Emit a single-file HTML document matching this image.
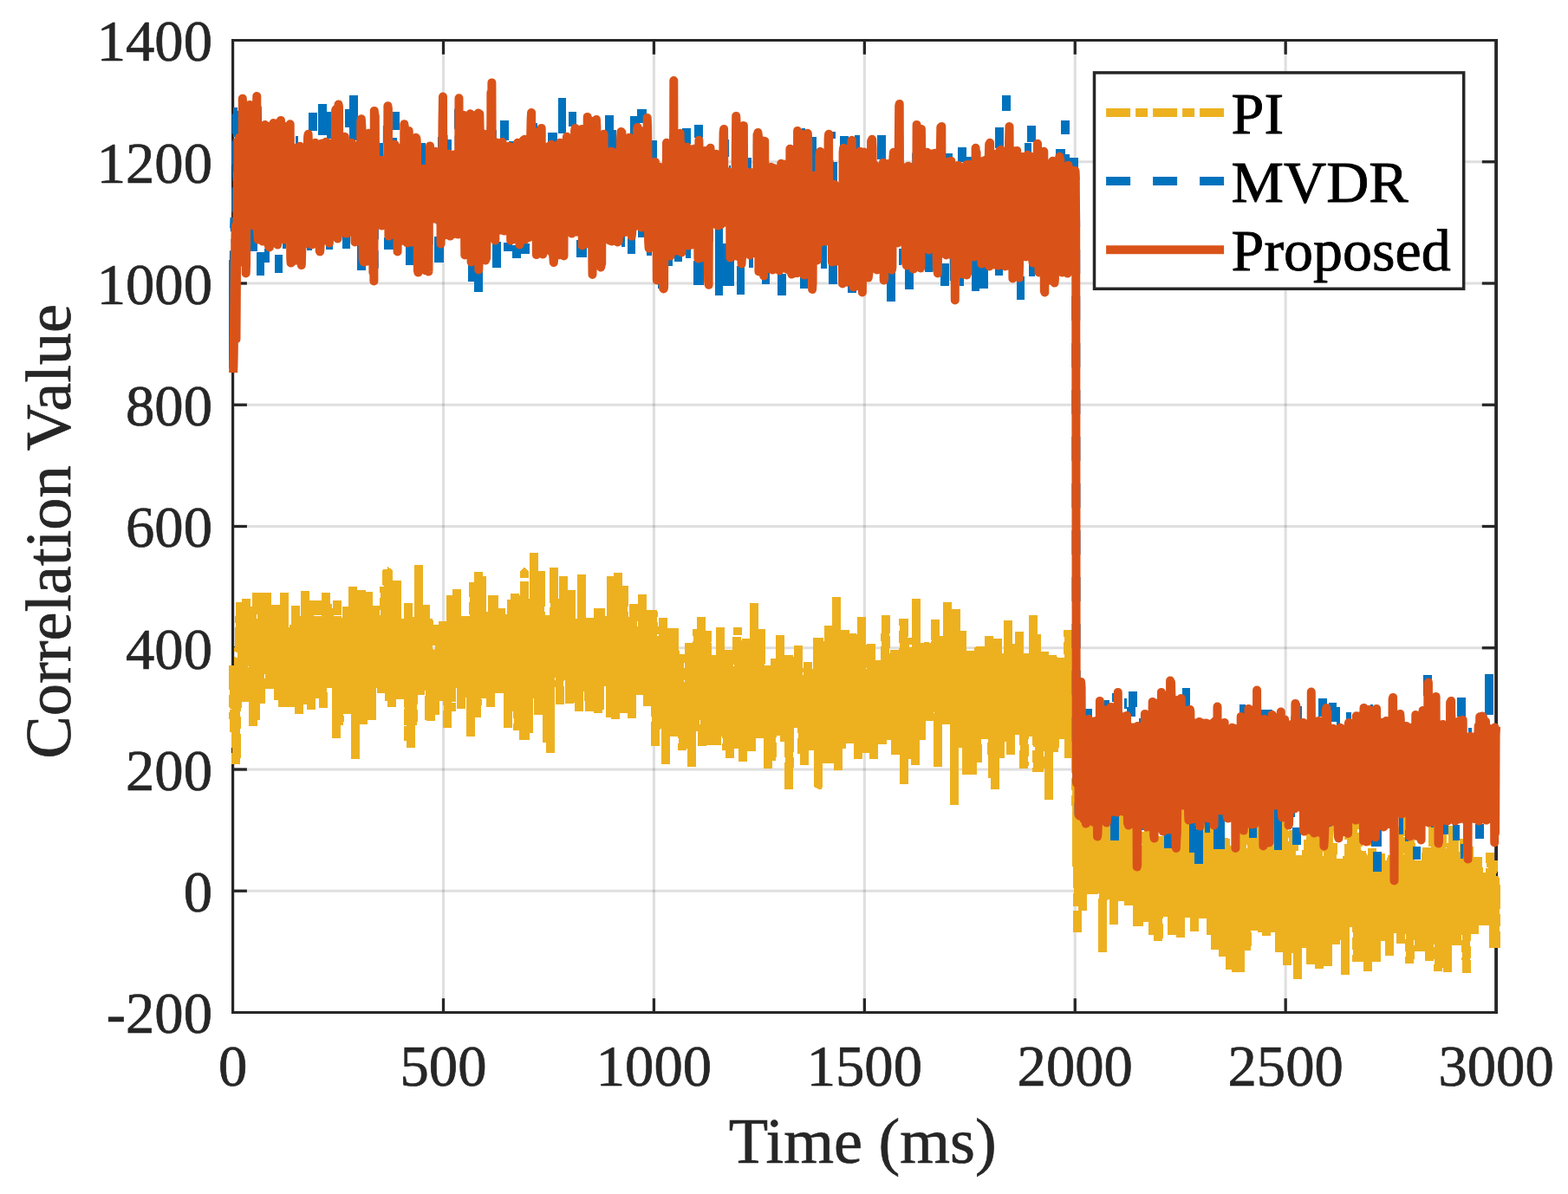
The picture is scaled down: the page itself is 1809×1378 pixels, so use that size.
<!DOCTYPE html>
<html lang="en"><head><meta charset="utf-8"><title>Correlation Value vs Time</title>
<style>html,body{margin:0;padding:0;background:#fff;width:1809px;height:1378px}svg{display:block}</style></head>
<body>
<svg width="1809" height="1378" viewBox="0 0 1809 1378">
<rect width="1809" height="1378" fill="#fff"/>
<g stroke="#262626" stroke-opacity="0.15" stroke-width="3.1">
<line x1="511.52" y1="46.5" x2="511.52" y2="1168.5"/>
<line x1="754.43" y1="46.5" x2="754.43" y2="1168.5"/>
<line x1="997.35" y1="46.5" x2="997.35" y2="1168.5"/>
<line x1="1240.27" y1="46.5" x2="1240.27" y2="1168.5"/>
<line x1="1483.18" y1="46.5" x2="1483.18" y2="1168.5"/>
<line x1="268.6" y1="1028.25" x2="1726.1" y2="1028.25"/>
<line x1="268.6" y1="888.00" x2="1726.1" y2="888.00"/>
<line x1="268.6" y1="747.75" x2="1726.1" y2="747.75"/>
<line x1="268.6" y1="607.50" x2="1726.1" y2="607.50"/>
<line x1="268.6" y1="467.25" x2="1726.1" y2="467.25"/>
<line x1="268.6" y1="327.00" x2="1726.1" y2="327.00"/>
<line x1="268.6" y1="186.75" x2="1726.1" y2="186.75"/>
</g>
<g stroke="#262626" stroke-width="3.3" fill="none">
<line x1="511.52" y1="1168.5" x2="511.52" y2="1152.2"/>
<line x1="511.52" y1="46.5" x2="511.52" y2="62.8"/>
<line x1="754.43" y1="1168.5" x2="754.43" y2="1152.2"/>
<line x1="754.43" y1="46.5" x2="754.43" y2="62.8"/>
<line x1="997.35" y1="1168.5" x2="997.35" y2="1152.2"/>
<line x1="997.35" y1="46.5" x2="997.35" y2="62.8"/>
<line x1="1240.27" y1="1168.5" x2="1240.27" y2="1152.2"/>
<line x1="1240.27" y1="46.5" x2="1240.27" y2="62.8"/>
<line x1="1483.18" y1="1168.5" x2="1483.18" y2="1152.2"/>
<line x1="1483.18" y1="46.5" x2="1483.18" y2="62.8"/>
<line x1="268.6" y1="1028.25" x2="284.90000000000003" y2="1028.25"/>
<line x1="1726.1" y1="1028.25" x2="1709.8" y2="1028.25"/>
<line x1="268.6" y1="888.00" x2="284.90000000000003" y2="888.00"/>
<line x1="1726.1" y1="888.00" x2="1709.8" y2="888.00"/>
<line x1="268.6" y1="747.75" x2="284.90000000000003" y2="747.75"/>
<line x1="1726.1" y1="747.75" x2="1709.8" y2="747.75"/>
<line x1="268.6" y1="607.50" x2="284.90000000000003" y2="607.50"/>
<line x1="1726.1" y1="607.50" x2="1709.8" y2="607.50"/>
<line x1="268.6" y1="467.25" x2="284.90000000000003" y2="467.25"/>
<line x1="1726.1" y1="467.25" x2="1709.8" y2="467.25"/>
<line x1="268.6" y1="327.00" x2="284.90000000000003" y2="327.00"/>
<line x1="1726.1" y1="327.00" x2="1709.8" y2="327.00"/>
<line x1="268.6" y1="186.75" x2="284.90000000000003" y2="186.75"/>
<line x1="1726.1" y1="186.75" x2="1709.8" y2="186.75"/>
<line x1="267.0" y1="46.5" x2="1728.05" y2="46.5" stroke-width="3.05"/>
<line x1="267.0" y1="1168.5" x2="1728.05" y2="1168.5" stroke-width="3.05"/>
<line x1="268.6" y1="45.0" x2="268.6" y2="1170.0" stroke-width="3.2"/>
<line x1="1726.1" y1="45.0" x2="1726.1" y2="1170.0" stroke-width="3.9"/>
</g>
<g fill="none" stroke-width="10.0" stroke-linecap="butt">
<polyline stroke="#EDB120" stroke-linejoin="bevel" stroke-dasharray="28 6 14 6" shape-rendering="crispEdges" points="269.1,768.1 269.6,844.5 270.1,782.8 270.5,817.9 271.0,775.8 271.5,796.8 272.0,772.3 272.5,882.4 273.0,775.8 273.5,817.9 273.9,772.3 274.4,803.8 274.9,793.3 275.4,759.0 275.9,711.5 276.4,747.2 276.9,695.5 277.3,736.7 277.8,740.2 278.3,734.6 278.8,766.5 279.3,751.0 279.8,737.7 280.3,762.9 280.7,773.5 281.2,709.2 281.7,809.6 282.2,727.8 282.7,748.2 283.2,720.0 283.7,749.5 284.1,691.3 284.6,743.5 285.1,724.4 285.6,741.2 286.1,723.3 286.6,716.5 287.1,757.2 287.5,722.8 288.0,781.5 288.5,769.8 289.0,699.9 289.5,758.4 290.0,723.0 290.5,752.2 290.9,752.5 291.4,698.1 291.9,837.6 292.4,754.1 292.9,791.2 293.4,725.8 293.9,784.3 294.3,734.6 294.8,830.6 295.3,733.8 295.8,684.3 296.3,764.0 296.8,810.1 297.3,766.1 297.8,771.8 298.2,771.7 298.7,730.9 299.2,746.0 299.7,786.0 300.2,737.8 300.7,811.6 301.2,747.4 301.6,758.6 302.1,684.3 302.6,735.8 303.1,745.4 303.6,742.0 304.1,718.4 304.6,761.3 305.0,707.8 305.5,710.2 306.0,708.2 306.5,763.1 307.0,730.7 307.5,731.1 308.0,684.3 308.4,755.5 308.9,724.2 309.4,719.6 309.9,759.6 310.4,715.7 310.9,794.7 311.4,746.4 311.8,737.1 312.3,745.4 312.8,774.9 313.3,735.6 313.8,719.9 314.3,707.6 314.8,742.2 315.2,739.1 315.7,752.2 316.2,736.7 316.7,736.4 317.2,737.5 317.7,698.5 318.2,750.0 318.6,738.5 319.1,748.7 319.6,786.9 320.1,756.7 320.6,716.7 321.1,807.6 321.6,761.4 322.0,730.4 322.5,774.9 323.0,753.5 323.5,738.2 324.0,737.8 324.5,729.1 325.0,754.2 325.4,747.7 325.9,815.6 326.4,767.9 326.9,805.6 327.4,810.3 327.9,684.3 328.4,741.0 328.8,723.8 329.3,727.2 329.8,756.0 330.3,769.1 330.8,744.6 331.3,759.5 331.8,776.5 332.2,765.7 332.7,780.2 333.2,769.8 333.7,770.5 334.2,804.6 334.7,771.6 335.2,816.0 335.6,776.4 336.1,734.9 336.6,749.7 337.1,778.5 337.6,774.4 338.1,797.8 338.6,758.6 339.0,721.0 339.5,808.0 340.0,786.2 340.5,789.8 341.0,699.3 341.5,758.5 342.0,710.8 342.4,746.8 342.9,744.5 343.4,798.7 343.9,737.2 344.4,721.8 344.9,823.6 345.4,746.5 345.8,733.0 346.3,761.4 346.8,782.9 347.3,771.6 347.8,732.7 348.3,727.1 348.8,758.9 349.2,738.2 349.7,740.2 350.2,713.9 350.7,804.8 351.2,776.7 351.7,812.6 352.2,680.3 352.6,788.3 353.1,694.4 353.6,738.2 354.1,742.5 354.6,769.9 355.1,749.5 355.6,746.6 356.1,751.1 356.5,692.9 357.0,810.0 357.5,739.2 358.0,728.6 358.5,716.2 359.0,819.2 359.5,735.3 359.9,750.5 360.4,761.5 360.9,775.1 361.4,759.2 361.9,727.9 362.4,762.1 362.9,755.8 363.3,796.1 363.8,749.2 364.3,716.4 364.8,723.7 365.3,718.0 365.8,805.6 366.3,693.5 366.7,735.2 367.2,749.6 367.7,779.0 368.2,724.4 368.7,766.1 369.2,769.3 369.7,732.2 370.1,744.9 370.6,793.4 371.1,792.2 371.6,770.8 372.1,758.5 372.6,816.6 373.1,751.2 373.5,741.5 374.0,724.6 374.5,743.7 375.0,741.8 375.5,791.6 376.0,684.3 376.5,770.7 376.9,772.2 377.4,739.1 377.9,769.7 378.4,697.5 378.9,746.7 379.4,763.1 379.9,702.3 380.3,793.7 380.8,767.4 381.3,739.1 381.8,720.9 382.3,736.5 382.8,732.9 383.3,760.3 383.7,754.4 384.2,738.6 384.7,730.2 385.2,743.4 385.7,773.3 386.2,752.2 386.7,758.4 387.1,741.4 387.6,725.8 388.1,851.5 388.6,693.5 389.1,768.3 389.6,740.8 390.1,719.2 390.5,771.6 391.0,756.6 391.5,836.6 392.0,758.2 392.5,769.5 393.0,769.8 393.5,788.1 393.9,787.2 394.4,798.2 394.9,783.8 395.4,752.5 395.9,760.2 396.4,775.3 396.9,753.2 397.3,776.8 397.8,793.3 398.3,739.8 398.8,713.2 399.3,785.1 399.8,699.9 400.3,823.6 400.7,725.2 401.2,809.2 401.7,782.0 402.2,758.3 402.7,752.1 403.2,764.9 403.7,757.2 404.1,754.1 404.6,731.1 405.1,796.3 405.6,760.6 406.1,763.8 406.6,781.1 407.1,677.3 407.5,767.6 408.0,742.1 408.5,743.3 409.0,754.7 409.5,738.1 410.0,875.5 410.5,734.6 410.9,727.5 411.4,728.9 411.9,763.9 412.4,784.0 412.9,738.1 413.4,706.7 413.9,794.8 414.4,722.0 414.8,799.4 415.3,756.6 415.8,734.5 416.3,738.1 416.8,681.3 417.3,788.9 417.8,752.8 418.2,791.5 418.7,774.8 419.2,835.6 419.7,719.5 420.2,722.6 420.7,711.7 421.2,736.2 421.6,733.4 422.1,713.8 422.6,774.3 423.1,685.0 423.6,713.9 424.1,822.8 424.6,683.5 425.0,774.1 425.5,778.3 426.0,816.5 426.5,780.6 427.0,767.3 427.5,729.3 428.0,762.9 428.4,739.5 428.9,830.6 429.4,744.3 429.9,748.6 430.4,742.3 430.9,768.8 431.4,720.3 431.8,745.8 432.3,790.6 432.8,790.2 433.3,699.5 433.8,774.7 434.3,778.6 434.8,765.9 435.2,719.1 435.7,743.7 436.2,741.2 436.7,715.3 437.2,739.3 437.7,721.9 438.2,712.8 438.6,754.2 439.1,734.7 439.6,799.6 440.1,728.6 440.6,737.6 441.1,740.9 441.6,740.5 442.0,748.4 442.5,739.9 443.0,766.2 443.5,676.9 444.0,748.0 444.5,720.3 445.0,721.5 445.4,750.1 445.9,752.6 446.4,657.6 446.9,659.1 447.4,659.1 447.9,739.3 448.4,657.6 448.8,808.6 449.3,761.6 449.8,746.3 450.3,740.0 450.8,695.7 451.3,766.6 451.8,721.6 452.2,815.6 452.7,744.5 453.2,746.7 453.7,765.5 454.2,723.7 454.7,726.8 455.2,712.6 455.6,727.1 456.1,788.8 456.6,727.5 457.1,774.3 457.6,775.6 458.1,670.3 458.6,764.7 459.0,717.1 459.5,757.8 460.0,790.1 460.5,742.8 461.0,806.6 461.5,734.7 462.0,759.2 462.4,725.2 462.9,790.7 463.4,742.3 463.9,713.8 464.4,795.1 464.9,775.1 465.4,764.1 465.8,764.4 466.3,742.7 466.8,746.0 467.3,769.1 467.8,773.8 468.3,774.2 468.8,756.6 469.2,740.1 469.7,746.8 470.2,805.5 470.7,696.3 471.2,854.5 471.7,758.6 472.2,819.3 472.7,800.8 473.1,799.9 473.6,729.3 474.1,862.5 474.6,750.4 475.1,772.9 475.6,714.0 476.1,806.0 476.5,836.6 477.0,759.1 477.5,721.4 478.0,748.3 478.5,780.0 479.0,712.5 479.5,756.1 479.9,765.2 480.4,732.9 480.9,767.3 481.4,734.6 481.9,772.8 482.4,751.2 482.9,771.0 483.3,652.4 483.8,768.8 484.3,779.7 484.8,719.4 485.3,801.6 485.8,768.9 486.3,770.5 486.7,748.5 487.2,767.6 487.7,725.5 488.2,754.7 488.7,723.5 489.2,757.6 489.7,738.6 490.1,735.1 490.6,697.9 491.1,792.8 491.6,738.2 492.1,746.1 492.6,778.4 493.1,749.6 493.5,789.3 494.0,762.3 494.5,713.8 495.0,767.6 495.5,831.6 496.0,792.2 496.5,788.8 496.9,782.3 497.4,831.6 497.9,752.6 498.4,807.2 498.9,791.9 499.4,784.7 499.9,787.7 500.3,760.5 500.8,780.8 501.3,752.3 501.8,750.3 502.3,825.2 502.8,720.8 503.3,773.5 503.7,758.4 504.2,777.2 504.7,773.5 505.2,771.7 505.7,790.3 506.2,736.3 506.7,733.9 507.1,776.6 507.6,782.9 508.1,803.6 508.6,779.3 509.1,760.8 509.6,808.6 510.1,779.3 510.5,787.3 511.0,716.8 511.5,744.6 512.0,760.5 512.5,768.6 513.0,718.3 513.5,764.2 513.9,767.4 514.4,759.2 514.9,768.1 515.4,771.9 515.9,750.8 516.4,839.6 516.9,763.0 517.3,747.1 517.8,773.5 518.3,802.8 518.8,735.3 519.3,730.9 519.8,732.8 520.3,686.9 520.7,820.6 521.2,749.6 521.7,728.8 522.2,724.4 522.7,693.5 523.2,756.1 523.7,758.7 524.1,694.9 524.6,721.5 525.1,730.0 525.6,750.5 526.1,758.2 526.6,784.6 527.1,680.5 527.5,780.1 528.0,794.2 528.5,736.3 529.0,750.4 529.5,789.7 530.0,769.9 530.5,763.7 531.0,721.3 531.4,721.3 531.9,817.6 532.4,772.3 532.9,757.2 533.4,754.5 533.9,723.5 534.4,773.0 534.8,788.6 535.3,802.9 535.8,765.4 536.3,766.6 536.8,710.8 537.3,793.1 537.8,804.5 538.2,749.8 538.7,771.1 539.2,766.4 539.7,750.7 540.2,712.3 540.7,755.6 541.2,778.5 541.6,730.2 542.1,744.5 542.6,731.6 543.1,849.5 543.6,795.6 544.1,770.4 544.6,762.2 545.0,752.8 545.5,767.2 546.0,770.7 546.5,671.9 547.0,748.6 547.5,754.1 548.0,803.3 548.4,699.6 548.9,758.8 549.4,728.2 549.9,702.4 550.4,827.6 550.9,770.7 551.4,709.4 551.8,713.2 552.3,660.4 552.8,697.7 553.3,735.8 553.8,732.6 554.3,760.0 554.8,766.5 555.2,707.9 555.7,762.7 556.2,664.9 556.7,738.8 557.2,734.9 557.7,734.6 558.2,805.6 558.6,753.0 559.1,777.0 559.6,738.8 560.1,799.3 560.6,726.9 561.1,751.8 561.6,733.6 562.0,730.0 562.5,717.0 563.0,732.1 563.5,744.8 564.0,725.2 564.5,769.3 565.0,786.0 565.4,706.2 565.9,774.8 566.4,815.6 566.9,749.3 567.4,793.8 567.9,772.8 568.4,687.3 568.8,747.8 569.3,762.3 569.8,687.3 570.3,724.9 570.8,754.5 571.3,752.9 571.8,771.5 572.2,794.5 572.7,772.0 573.2,778.2 573.7,745.7 574.2,760.6 574.7,767.3 575.2,719.7 575.6,718.1 576.1,799.6 576.6,723.2 577.1,786.0 577.6,788.6 578.1,701.9 578.6,737.5 579.0,798.1 579.5,753.8 580.0,709.3 580.5,738.5 581.0,794.0 581.5,765.5 582.0,767.4 582.4,777.5 582.9,765.8 583.4,744.4 583.9,717.6 584.4,760.9 584.9,727.8 585.4,716.5 585.8,840.0 586.3,788.0 586.8,772.5 587.3,772.7 587.8,792.6 588.3,798.3 588.8,731.4 589.2,774.8 589.7,821.4 590.2,692.3 590.7,740.5 591.2,743.3 591.7,698.5 592.2,739.6 592.7,817.3 593.1,763.0 593.6,777.8 594.1,685.5 594.6,758.1 595.1,758.3 595.6,749.9 596.1,735.8 596.5,783.5 597.0,776.7 597.5,842.6 598.0,745.1 598.5,805.5 599.0,713.0 599.5,743.4 599.9,750.8 600.4,769.9 600.9,754.4 601.4,733.1 601.9,774.9 602.4,722.6 602.9,703.2 603.3,707.0 603.8,687.0 604.3,853.5 604.8,659.4 605.3,659.4 605.8,853.5 606.3,745.2 606.7,729.7 607.2,756.0 607.7,727.8 608.2,699.1 608.7,804.5 609.2,715.4 609.7,826.9 610.1,845.5 610.6,728.3 611.1,759.4 611.6,787.2 612.1,691.3 612.6,707.9 613.1,703.4 613.5,748.0 614.0,756.8 614.5,743.0 615.0,715.2 615.5,724.4 616.0,638.0 616.5,783.0 616.9,746.8 617.4,693.8 617.9,765.0 618.4,752.5 618.9,751.3 619.4,805.5 619.9,772.1 620.3,706.2 620.8,704.9 621.3,824.6 621.8,749.5 622.3,774.6 622.8,738.1 623.3,738.1 623.7,659.4 624.2,801.4 624.7,777.3 625.2,740.2 625.7,761.0 626.2,756.4 626.7,773.5 627.1,795.1 627.6,819.3 628.1,775.2 628.6,758.7 629.1,771.6 629.6,770.0 630.1,758.9 630.5,753.6 631.0,856.5 631.5,709.8 632.0,804.1 632.5,774.5 633.0,754.3 633.5,802.3 633.9,770.4 634.4,761.8 634.9,868.5 635.4,765.1 635.9,746.1 636.4,754.0 636.9,782.4 637.3,747.6 637.8,780.4 638.3,715.5 638.8,735.0 639.3,655.0 639.8,752.4 640.3,741.2 640.7,774.4 641.2,713.2 641.7,709.0 642.2,744.7 642.7,780.7 643.2,755.4 643.7,734.9 644.1,751.1 644.6,755.7 645.1,693.2 645.6,812.6 646.1,706.7 646.6,691.6 647.1,720.9 647.5,701.0 648.0,711.7 648.5,753.3 649.0,742.6 649.5,749.2 650.0,664.9 650.5,734.3 651.0,736.6 651.4,783.4 651.9,715.9 652.4,701.2 652.9,784.7 653.4,757.2 653.9,764.7 654.4,765.8 654.8,773.4 655.3,734.4 655.8,745.7 656.3,716.3 656.8,698.2 657.3,812.0 657.8,736.4 658.2,769.0 658.7,806.9 659.2,680.9 659.7,773.9 660.2,777.3 660.7,780.9 661.2,726.7 661.6,784.9 662.1,769.2 662.6,746.6 663.1,740.4 663.6,757.5 664.1,777.6 664.6,776.2 665.0,810.5 665.5,740.5 666.0,768.8 666.5,738.4 667.0,773.7 667.5,768.9 668.0,820.6 668.4,713.8 668.9,730.7 669.4,761.3 669.9,796.4 670.4,772.4 670.9,662.9 671.4,728.8 671.8,769.5 672.3,765.5 672.8,769.6 673.3,785.8 673.8,772.5 674.3,751.3 674.8,722.6 675.2,759.1 675.7,727.9 676.2,762.8 676.7,773.6 677.2,735.2 677.7,762.5 678.2,757.7 678.6,809.3 679.1,765.6 679.6,820.6 680.1,776.8 680.6,712.8 681.1,761.1 681.6,756.9 682.0,779.9 682.5,781.3 683.0,775.8 683.5,741.7 684.0,759.2 684.5,728.0 685.0,729.4 685.4,751.6 685.9,739.8 686.4,754.9 686.9,819.1 687.4,776.3 687.9,743.4 688.4,714.3 688.8,744.3 689.3,758.6 689.8,701.9 690.3,823.2 690.8,745.4 691.3,769.5 691.8,819.0 692.2,765.1 692.7,701.9 693.2,767.0 693.7,750.9 694.2,736.2 694.7,752.3 695.2,787.9 695.6,750.8 696.1,722.0 696.6,725.3 697.1,731.0 697.6,758.4 698.1,770.8 698.6,770.8 699.0,789.5 699.5,753.1 700.0,780.6 700.5,767.5 701.0,778.1 701.5,711.0 702.0,793.6 702.4,719.4 702.9,730.9 703.4,779.5 703.9,731.0 704.4,827.6 704.9,664.9 705.4,708.1 705.9,750.9 706.3,730.9 706.8,801.6 707.3,804.4 707.8,772.3 708.3,731.0 708.8,748.8 709.3,735.9 709.7,829.6 710.2,715.5 710.7,773.1 711.2,769.2 711.7,735.3 712.2,755.2 712.7,661.0 713.1,787.6 713.6,745.4 714.1,702.8 714.6,712.6 715.1,720.2 715.6,804.5 716.1,771.7 716.5,705.9 717.0,809.6 717.5,792.8 718.0,715.0 718.5,689.8 719.0,780.8 719.5,822.6 719.9,676.3 720.4,732.4 720.9,794.8 721.4,800.9 721.9,782.3 722.4,755.5 722.9,767.0 723.3,777.0 723.8,715.9 724.3,794.3 724.8,750.9 725.3,767.1 725.8,763.6 726.3,785.0 726.7,789.6 727.2,821.1 727.7,750.1 728.2,734.8 728.7,724.9 729.2,828.6 729.7,769.5 730.1,784.9 730.6,696.9 731.1,771.4 731.6,773.2 732.1,754.5 732.6,782.4 733.1,779.6 733.5,710.5 734.0,758.2 734.5,754.1 735.0,743.0 735.5,735.2 736.0,751.0 736.5,758.9 736.9,756.4 737.4,736.1 737.9,801.6 738.4,736.5 738.9,732.6 739.4,769.7 739.9,734.0 740.3,753.4 740.8,686.3 741.3,771.2 741.8,764.7 742.3,784.7 742.8,743.7 743.3,768.1 743.7,739.4 744.2,757.6 744.7,756.3 745.2,733.6 745.7,709.4 746.2,774.4 746.7,814.6 747.1,763.7 747.6,743.1 748.1,752.1 748.6,771.4 749.1,760.7 749.6,788.6 750.1,763.1 750.5,780.6 751.0,703.9 751.5,744.7 752.0,765.5 752.5,715.9 753.0,741.6 753.5,703.9 753.9,744.1 754.4,764.0 754.9,777.8 755.4,766.1 755.9,754.5 756.4,860.9 756.9,782.1 757.3,782.7 757.8,723.2 758.3,737.7 758.8,805.5 759.3,777.2 759.8,833.5 760.3,785.4 760.7,782.4 761.2,821.7 761.7,797.0 762.2,840.5 762.7,753.3 763.2,802.4 763.7,810.3 764.2,806.2 764.6,831.2 765.1,713.2 765.6,795.0 766.1,777.1 766.6,823.6 767.1,797.7 767.6,790.8 768.0,881.9 768.5,794.3 769.0,764.0 769.5,782.0 770.0,810.9 770.5,782.7 771.0,821.8 771.4,790.5 771.9,793.2 772.4,772.4 772.9,787.0 773.4,819.9 773.9,780.3 774.4,781.3 774.8,724.8 775.3,811.1 775.8,747.5 776.3,738.3 776.8,849.5 777.3,828.5 777.8,847.1 778.2,724.8 778.7,762.2 779.2,819.3 779.7,809.6 780.2,777.9 780.7,766.3 781.2,792.9 781.6,808.8 782.1,811.1 782.6,805.7 783.1,819.5 783.6,818.0 784.1,819.7 784.6,754.7 785.0,792.7 785.5,824.7 786.0,793.0 786.5,824.3 787.0,808.5 787.5,865.5 788.0,810.3 788.4,811.6 788.9,808.7 789.4,815.1 789.9,864.0 790.4,799.1 790.9,790.1 791.4,806.6 791.8,827.8 792.3,787.2 792.8,830.8 793.3,830.0 793.8,807.3 794.3,823.7 794.8,742.2 795.2,797.6 795.7,783.2 796.2,839.0 796.7,849.4 797.2,797.2 797.7,795.2 798.2,884.9 798.6,793.1 799.1,812.3 799.6,809.5 800.1,805.5 800.6,824.4 801.1,804.7 801.6,792.1 802.0,844.1 802.5,752.1 803.0,771.9 803.5,782.9 804.0,793.4 804.5,726.2 805.0,787.4 805.4,772.9 805.9,792.3 806.4,811.5 806.9,794.8 807.4,797.8 807.9,766.0 808.4,769.2 808.8,712.2 809.3,817.2 809.8,860.5 810.3,825.6 810.8,822.9 811.3,826.6 811.8,770.5 812.2,830.0 812.7,816.0 813.2,854.3 813.7,811.1 814.2,803.5 814.7,790.2 815.2,792.3 815.6,727.8 816.1,802.2 816.6,807.0 817.1,830.5 817.6,793.0 818.1,810.9 818.6,849.5 819.0,795.9 819.5,827.0 820.0,859.5 820.5,805.6 821.0,818.4 821.5,828.0 822.0,796.7 822.5,784.7 822.9,844.2 823.4,755.7 823.9,826.0 824.4,828.7 824.9,825.1 825.4,802.0 825.9,804.8 826.3,772.7 826.8,770.5 827.3,859.5 827.8,807.4 828.3,850.3 828.8,823.5 829.3,809.1 829.7,777.1 830.2,824.4 830.7,829.7 831.2,724.2 831.7,815.1 832.2,792.6 832.7,801.3 833.1,796.2 833.6,766.4 834.1,792.7 834.6,766.2 835.1,838.0 835.6,829.8 836.1,806.0 836.5,811.6 837.0,806.3 837.5,809.7 838.0,791.8 838.5,865.5 839.0,803.7 839.5,774.1 839.9,782.7 840.4,797.3 840.9,749.8 841.4,798.6 841.9,780.0 842.4,874.5 842.9,802.8 843.3,817.6 843.8,832.4 844.3,852.7 844.8,831.0 845.3,792.5 845.8,802.8 846.3,833.0 846.7,813.4 847.2,826.8 847.7,805.2 848.2,846.6 848.7,842.8 849.2,825.3 849.7,863.5 850.1,767.5 850.6,724.2 851.1,804.4 851.6,819.0 852.1,738.9 852.6,788.2 853.1,832.6 853.5,827.3 854.0,787.6 854.5,818.6 855.0,802.0 855.5,795.3 856.0,831.8 856.5,829.9 856.9,878.5 857.4,776.4 857.9,766.3 858.4,763.1 858.9,840.1 859.4,855.3 859.9,808.8 860.3,834.9 860.8,737.4 861.3,801.0 861.8,828.6 862.3,811.8 862.8,802.0 863.3,756.6 863.7,762.5 864.2,791.5 864.7,787.6 865.2,801.0 865.7,785.2 866.2,779.4 866.7,866.5 867.1,808.1 867.6,797.0 868.1,781.9 868.6,788.6 869.1,817.7 869.6,831.6 870.1,696.3 870.5,762.6 871.0,797.5 871.5,805.0 872.0,822.9 872.5,781.1 873.0,827.0 873.5,780.4 873.9,783.5 874.4,774.4 874.9,803.9 875.4,790.0 875.9,851.5 876.4,776.1 876.9,748.0 877.3,793.7 877.8,726.2 878.3,784.2 878.8,798.8 879.3,794.4 879.8,802.4 880.3,818.1 880.8,827.2 881.2,809.8 881.7,815.8 882.2,806.5 882.7,807.8 883.2,785.6 883.7,825.8 884.2,820.7 884.6,836.0 885.1,799.1 885.6,786.0 886.1,886.5 886.6,767.7 887.1,820.2 887.6,839.0 888.0,819.7 888.5,838.2 889.0,811.6 889.5,837.1 890.0,808.2 890.5,877.5 891.0,810.0 891.4,814.9 891.9,784.3 892.4,782.5 892.9,811.8 893.4,807.6 893.9,822.5 894.4,759.7 894.8,790.1 895.3,810.7 895.8,808.5 896.3,823.7 896.8,816.5 897.3,848.5 897.8,777.3 898.2,803.9 898.7,824.8 899.2,827.5 899.7,733.2 900.2,796.4 900.7,824.4 901.2,827.5 901.6,767.5 902.1,778.6 902.6,800.8 903.1,792.2 903.6,809.1 904.1,805.3 904.6,837.6 905.0,804.2 905.5,855.5 906.0,807.9 906.5,829.9 907.0,782.5 907.5,814.5 908.0,789.8 908.4,776.0 908.9,831.5 909.4,834.2 909.9,755.7 910.4,910.8 910.9,809.9 911.4,800.8 911.8,808.5 912.3,791.0 912.8,829.0 913.3,782.6 913.8,829.1 914.3,794.9 914.8,814.1 915.2,801.0 915.7,806.5 916.2,825.2 916.7,801.1 917.2,790.2 917.7,839.6 918.2,810.3 918.6,757.2 919.1,816.2 919.6,818.2 920.1,766.8 920.6,792.2 921.1,745.2 921.6,776.8 922.0,795.7 922.5,797.0 923.0,811.6 923.5,820.6 924.0,802.0 924.5,803.6 925.0,803.7 925.4,869.5 925.9,815.4 926.4,848.3 926.9,785.4 927.4,779.2 927.9,883.1 928.4,811.7 928.8,820.1 929.3,816.6 929.8,864.0 930.3,830.0 930.8,823.5 931.3,849.2 931.8,838.2 932.2,763.7 932.7,818.4 933.2,832.2 933.7,802.4 934.2,822.2 934.7,805.6 935.2,824.0 935.6,786.2 936.1,865.5 936.6,803.5 937.1,820.6 937.6,845.0 938.1,809.4 938.6,798.9 939.1,835.8 939.5,816.3 940.0,855.4 940.5,813.5 941.0,772.3 941.5,797.8 942.0,794.3 942.5,796.2 942.9,736.2 943.4,782.3 943.9,907.8 944.4,907.4 944.9,736.2 945.4,822.3 945.9,814.8 946.3,815.5 946.8,749.6 947.3,756.4 947.8,781.3 948.3,817.2 948.8,762.8 949.3,795.8 949.7,817.0 950.2,872.0 950.7,817.4 951.2,792.2 951.7,843.6 952.2,815.5 952.7,799.5 953.1,844.2 953.6,772.7 954.1,880.5 954.6,811.4 955.1,840.2 955.6,722.2 956.1,756.6 956.5,754.7 957.0,880.5 957.5,803.0 958.0,788.4 958.5,816.5 959.0,825.4 959.5,809.1 959.9,764.6 960.4,841.5 960.9,747.8 961.4,794.0 961.9,832.2 962.4,779.6 962.9,846.2 963.3,867.8 963.8,856.0 964.3,856.5 964.8,689.3 965.3,762.8 965.8,817.2 966.3,813.7 966.7,888.5 967.2,813.1 967.7,789.0 968.2,736.4 968.7,807.2 969.2,804.6 969.7,856.7 970.1,816.5 970.6,803.7 971.1,863.5 971.6,810.1 972.1,791.7 972.6,781.3 973.1,750.2 973.5,795.8 974.0,838.8 974.5,738.7 975.0,727.4 975.5,815.0 976.0,799.3 976.5,805.7 976.9,742.0 977.4,777.5 977.9,808.1 978.4,810.4 978.9,802.2 979.4,769.3 979.9,809.0 980.3,752.6 980.8,857.5 981.3,761.4 981.8,834.2 982.3,782.4 982.8,787.6 983.3,730.8 983.7,824.5 984.2,806.9 984.7,747.7 985.2,749.0 985.7,840.3 986.2,767.5 986.7,845.4 987.1,780.8 987.6,732.3 988.1,824.9 988.6,807.9 989.1,812.9 989.6,787.1 990.1,875.5 990.5,833.4 991.0,774.2 991.5,739.4 992.0,826.9 992.5,780.4 993.0,838.1 993.5,848.1 993.9,712.3 994.4,781.2 994.9,744.3 995.4,837.9 995.9,787.8 996.4,799.8 996.9,845.9 997.4,808.4 997.8,830.1 998.3,815.5 998.8,868.5 999.3,813.0 999.8,837.4 1000.3,799.4 1000.8,818.1 1001.2,785.6 1001.7,838.3 1002.2,744.6 1002.7,810.5 1003.2,815.3 1003.7,814.8 1004.2,827.0 1004.6,742.8 1005.1,864.2 1005.6,800.8 1006.1,769.9 1006.6,789.2 1007.1,787.8 1007.6,875.5 1008.0,808.7 1008.5,832.9 1009.0,800.8 1009.5,809.1 1010.0,812.2 1010.5,791.2 1011.0,803.1 1011.4,857.0 1011.9,807.9 1012.4,811.5 1012.9,761.8 1013.4,832.0 1013.9,803.0 1014.4,796.3 1014.8,857.0 1015.3,840.4 1015.8,773.4 1016.3,802.4 1016.8,831.1 1017.3,830.5 1017.8,858.5 1018.2,847.7 1018.7,844.7 1019.2,785.0 1019.7,771.7 1020.2,779.3 1020.7,820.8 1021.2,827.3 1021.6,709.9 1022.1,787.6 1022.6,799.1 1023.1,814.2 1023.6,773.4 1024.1,762.4 1024.6,799.2 1025.0,829.4 1025.5,813.0 1026.0,853.6 1026.5,785.7 1027.0,822.2 1027.5,762.0 1028.0,799.6 1028.4,787.5 1028.9,797.6 1029.4,779.9 1029.9,818.2 1030.4,799.3 1030.9,787.4 1031.4,822.8 1031.8,749.8 1032.3,789.1 1032.8,768.5 1033.3,870.5 1033.8,784.2 1034.3,803.3 1034.8,802.1 1035.2,817.6 1035.7,804.0 1036.2,866.8 1036.7,762.5 1037.2,825.0 1037.7,808.3 1038.2,838.8 1038.6,765.8 1039.1,841.7 1039.6,772.2 1040.1,827.6 1040.6,822.8 1041.1,809.9 1041.6,789.4 1042.0,794.3 1042.5,714.3 1043.0,904.8 1043.5,744.0 1044.0,748.4 1044.5,829.2 1045.0,830.0 1045.4,820.5 1045.9,806.0 1046.4,816.4 1046.9,820.0 1047.4,812.5 1047.9,780.2 1048.4,782.0 1048.8,763.3 1049.3,875.5 1049.8,735.8 1050.3,799.9 1050.8,845.6 1051.3,793.2 1051.8,835.0 1052.2,853.3 1052.7,748.5 1053.2,760.6 1053.7,819.7 1054.2,783.1 1054.7,821.7 1055.2,827.1 1055.7,786.3 1056.1,882.9 1056.6,839.8 1057.1,691.3 1057.6,776.1 1058.1,794.1 1058.6,784.5 1059.1,836.3 1059.5,793.0 1060.0,780.8 1060.5,798.9 1061.0,810.5 1061.5,788.6 1062.0,800.5 1062.5,794.4 1062.9,853.6 1063.4,806.1 1063.9,792.4 1064.4,777.8 1064.9,795.0 1065.4,769.5 1065.9,808.2 1066.3,809.4 1066.8,742.2 1067.3,743.7 1067.8,823.7 1068.3,815.7 1068.8,742.2 1069.3,789.8 1069.7,800.5 1070.2,830.1 1070.7,774.0 1071.2,772.4 1071.7,831.6 1072.2,790.4 1072.7,794.6 1073.1,768.4 1073.6,800.5 1074.1,762.1 1074.6,823.9 1075.1,803.7 1075.6,771.2 1076.1,746.9 1076.5,790.1 1077.0,798.1 1077.5,768.6 1078.0,809.7 1078.5,793.7 1079.0,715.3 1079.5,739.3 1079.9,781.7 1080.4,780.0 1080.9,798.4 1081.4,782.3 1081.9,884.5 1082.4,827.2 1082.9,818.4 1083.3,800.3 1083.8,780.7 1084.3,800.4 1084.8,774.8 1085.3,796.6 1085.8,814.6 1086.3,733.8 1086.7,800.0 1087.2,788.4 1087.7,802.9 1088.2,756.7 1088.7,811.3 1089.2,812.3 1089.7,778.5 1090.1,784.2 1090.6,787.5 1091.1,768.1 1091.6,835.6 1092.1,770.3 1092.6,781.3 1093.1,695.3 1093.5,827.0 1094.0,759.8 1094.5,741.9 1095.0,744.2 1095.5,775.9 1096.0,805.4 1096.5,749.3 1096.9,776.0 1097.4,777.1 1097.9,784.4 1098.4,775.0 1098.9,801.5 1099.4,790.8 1099.9,752.6 1100.3,745.3 1100.8,929.4 1101.3,751.9 1101.8,821.0 1102.3,790.9 1102.8,797.8 1103.3,703.3 1103.7,816.9 1104.2,783.9 1104.7,777.6 1105.2,765.2 1105.7,770.8 1106.2,772.6 1106.7,830.5 1107.1,800.0 1107.6,862.5 1108.1,779.5 1108.6,827.5 1109.1,749.8 1109.6,803.0 1110.1,728.2 1110.5,793.0 1111.0,782.0 1111.5,820.2 1112.0,789.8 1112.5,785.2 1113.0,806.7 1113.5,779.6 1114.0,803.8 1114.4,857.3 1114.9,893.5 1115.4,851.6 1115.9,789.5 1116.4,825.5 1116.9,814.2 1117.4,817.5 1117.8,846.8 1118.3,874.3 1118.8,818.3 1119.3,750.8 1119.8,833.8 1120.3,846.1 1120.8,807.9 1121.2,788.0 1121.7,893.5 1122.2,793.6 1122.7,815.4 1123.2,785.6 1123.7,815.8 1124.2,820.7 1124.6,867.4 1125.1,864.8 1125.6,830.2 1126.1,801.3 1126.6,833.0 1127.1,839.0 1127.6,879.5 1128.0,791.5 1128.5,746.2 1129.0,798.9 1129.5,845.0 1130.0,795.0 1130.5,808.9 1131.0,818.7 1131.4,746.2 1131.9,818.0 1132.4,752.8 1132.9,796.3 1133.4,808.7 1133.9,797.8 1134.4,828.5 1134.8,791.2 1135.3,821.6 1135.8,821.7 1136.3,852.6 1136.8,800.7 1137.3,793.2 1137.8,818.1 1138.2,749.9 1138.7,765.8 1139.2,793.3 1139.7,820.7 1140.2,814.1 1140.7,816.2 1141.2,734.2 1141.6,798.7 1142.1,780.0 1142.6,809.5 1143.1,829.2 1143.6,794.3 1144.1,761.2 1144.6,897.5 1145.0,822.2 1145.5,852.4 1146.0,783.2 1146.5,828.3 1147.0,776.8 1147.5,769.7 1148.0,910.8 1148.4,793.2 1148.9,760.9 1149.4,777.5 1149.9,758.8 1150.4,763.2 1150.9,737.2 1151.4,843.3 1151.8,822.0 1152.3,796.5 1152.8,852.2 1153.3,798.9 1153.8,778.5 1154.3,874.5 1154.8,814.4 1155.2,849.1 1155.7,800.6 1156.2,800.1 1156.7,808.4 1157.2,771.0 1157.7,773.3 1158.2,827.3 1158.6,754.4 1159.1,837.6 1159.6,812.7 1160.1,839.3 1160.6,827.0 1161.1,822.3 1161.6,855.6 1162.0,799.7 1162.5,802.0 1163.0,716.3 1163.5,772.4 1164.0,839.2 1164.5,826.8 1165.0,793.6 1165.4,772.1 1165.9,749.5 1166.4,870.9 1166.9,762.2 1167.4,768.8 1167.9,816.7 1168.4,807.6 1168.8,819.0 1169.3,742.8 1169.8,786.7 1170.3,775.2 1170.8,779.3 1171.3,810.3 1171.8,821.4 1172.2,823.8 1172.7,795.5 1173.2,747.3 1173.7,808.3 1174.2,847.6 1174.7,744.3 1175.2,820.8 1175.7,729.2 1176.1,788.3 1176.6,805.8 1177.1,804.3 1177.6,806.7 1178.1,804.2 1178.6,802.3 1179.1,813.7 1179.5,809.1 1180.0,846.1 1180.5,804.9 1181.0,800.3 1181.5,886.5 1182.0,833.5 1182.5,805.8 1182.9,808.5 1183.4,814.0 1183.9,753.8 1184.4,819.3 1184.9,832.2 1185.4,810.6 1185.9,801.1 1186.3,778.8 1186.8,778.8 1187.3,804.2 1187.8,798.0 1188.3,801.0 1188.8,773.8 1189.3,849.6 1189.7,761.7 1190.2,777.6 1190.7,786.0 1191.2,815.2 1191.7,826.9 1192.2,709.9 1192.7,798.9 1193.1,789.3 1193.6,815.7 1194.1,800.1 1194.6,797.1 1195.1,786.6 1195.6,817.5 1196.1,732.2 1196.5,890.9 1197.0,849.8 1197.5,807.2 1198.0,823.2 1198.5,841.0 1199.0,853.2 1199.5,890.9 1199.9,789.3 1200.4,859.5 1200.9,769.1 1201.4,836.2 1201.9,810.4 1202.4,794.1 1202.9,817.5 1203.3,769.3 1203.8,834.0 1204.3,857.7 1204.8,861.9 1205.3,752.2 1205.8,859.4 1206.3,834.5 1206.7,813.7 1207.2,866.4 1207.7,773.1 1208.2,815.1 1208.7,826.2 1209.2,813.8 1209.7,807.4 1210.1,922.8 1210.6,812.9 1211.1,792.3 1211.6,841.3 1212.1,837.5 1212.6,793.3 1213.1,784.5 1213.5,810.6 1214.0,814.2 1214.5,756.2 1215.0,823.3 1215.5,801.9 1216.0,798.0 1216.5,867.5 1216.9,795.0 1217.4,782.6 1217.9,795.1 1218.4,829.2 1218.9,817.5 1219.4,835.9 1219.9,833.4 1220.3,817.6 1220.8,791.4 1221.3,802.8 1221.8,807.4 1222.3,771.3 1222.8,812.9 1223.3,824.8 1223.7,758.8 1224.2,853.6 1224.7,818.1 1225.2,852.1 1225.7,781.0 1226.2,805.6 1226.7,848.9 1227.1,786.6 1227.6,801.3 1228.1,803.8 1228.6,812.6 1229.1,772.1 1229.6,812.5 1230.1,818.8 1230.6,852.1 1231.0,804.5 1231.5,794.0 1232.0,826.5 1232.5,727.2 1233.0,877.5 1233.5,855.0 1234.0,802.8 1234.4,802.8 1234.9,795.9 1235.4,808.5 1235.9,763.1 1236.4,854.7 1236.9,789.0 1237.4,789.2 1237.8,858.5 1238.3,804.9 1238.8,790.4 1239.3,858.5 1239.8,810.4 1240.3,835.3 1240.8,785.0 1241.2,817.9 1241.7,1000.2 1242.2,904.5 1242.7,987.2 1243.2,1075.6 1243.7,1009.6 1244.2,997.1 1244.6,991.9 1245.1,1011.1 1245.6,995.8 1246.1,975.4 1246.6,1018.9 1247.1,1012.0 1247.6,1000.4 1248.0,1009.8 1248.5,948.6 1249.0,1050.7 1249.5,981.4 1250.0,934.6 1250.5,1028.4 1251.0,988.6 1251.4,970.4 1251.9,971.9 1252.4,988.4 1252.9,982.2 1253.4,946.8 1253.9,973.7 1254.4,992.5 1254.8,996.2 1255.3,1001.8 1255.8,959.1 1256.3,968.6 1256.8,990.9 1257.3,969.2 1257.8,987.5 1258.2,966.1 1258.7,1031.7 1259.2,984.2 1259.7,995.8 1260.2,983.7 1260.7,965.5 1261.2,955.9 1261.6,936.8 1262.1,1031.7 1262.6,950.1 1263.1,971.0 1263.6,1000.7 1264.1,1010.7 1264.6,1000.2 1265.0,1016.1 1265.5,983.6 1266.0,987.8 1266.5,972.7 1267.0,965.6 1267.5,1019.1 1268.0,992.7 1268.4,997.6 1268.9,1030.2 1269.4,1026.3 1269.9,963.7 1270.4,1005.1 1270.9,966.2 1271.4,1005.3 1271.8,939.3 1272.3,1098.6 1272.8,964.5 1273.3,1034.0 1273.8,944.0 1274.3,1012.7 1274.8,1011.9 1275.2,989.1 1275.7,1006.1 1276.2,1036.2 1276.7,992.4 1277.2,979.7 1277.7,1018.6 1278.2,995.4 1278.6,1037.7 1279.1,985.6 1279.6,988.1 1280.1,950.2 1280.6,955.3 1281.1,962.9 1281.6,948.5 1282.0,994.2 1282.5,988.5 1283.0,921.3 1283.5,969.1 1284.0,984.5 1284.5,944.3 1285.0,933.6 1285.4,1067.2 1285.9,935.1 1286.4,972.8 1286.9,920.1 1287.4,1001.3 1287.9,961.0 1288.4,941.4 1288.8,930.6 1289.3,935.8 1289.8,1015.2 1290.3,957.5 1290.8,964.7 1291.3,969.4 1291.8,939.1 1292.3,1000.7 1292.7,920.1 1293.2,1004.1 1293.7,1039.7 1294.2,980.8 1294.7,987.6 1295.2,1002.3 1295.7,945.8 1296.1,996.1 1296.6,978.0 1297.1,975.1 1297.6,971.7 1298.1,1009.7 1298.6,992.1 1299.1,1013.9 1299.5,1004.2 1300.0,925.3 1300.5,976.4 1301.0,1010.7 1301.5,966.6 1302.0,1044.7 1302.5,935.1 1302.9,1038.7 1303.4,966.0 1303.9,993.3 1304.4,962.1 1304.9,999.6 1305.4,1030.4 1305.9,952.7 1306.3,987.4 1306.8,969.8 1307.3,941.9 1307.8,966.6 1308.3,989.7 1308.8,1019.9 1309.3,1021.0 1309.7,988.6 1310.2,947.6 1310.7,1005.6 1311.2,1013.0 1311.7,1004.7 1312.2,1069.2 1312.7,997.6 1313.1,988.1 1313.6,1069.2 1314.1,1041.0 1314.6,1019.2 1315.1,988.2 1315.6,999.9 1316.1,1004.2 1316.5,1011.2 1317.0,989.7 1317.5,974.7 1318.0,1032.4 1318.5,989.0 1319.0,1024.3 1319.5,994.8 1319.9,1019.6 1320.4,1014.9 1320.9,1021.4 1321.4,1019.8 1321.9,1064.0 1322.4,960.4 1322.9,998.6 1323.3,1048.0 1323.8,975.7 1324.3,972.9 1324.8,1062.5 1325.3,954.9 1325.8,983.3 1326.3,988.0 1326.7,980.2 1327.2,981.1 1327.7,1031.2 1328.2,1005.9 1328.7,1005.2 1329.2,953.8 1329.7,1078.6 1330.1,1012.5 1330.6,1012.1 1331.1,1037.9 1331.6,1022.9 1332.1,1012.8 1332.6,1026.0 1333.1,987.6 1333.5,981.4 1334.0,967.4 1334.5,1039.9 1335.0,989.3 1335.5,1015.2 1336.0,1009.8 1336.5,1085.6 1336.9,989.8 1337.4,1003.6 1337.9,1001.8 1338.4,964.8 1338.9,986.6 1339.4,1056.2 1339.9,997.6 1340.3,1046.0 1340.8,1019.4 1341.3,1045.7 1341.8,1034.3 1342.3,1005.3 1342.8,965.1 1343.3,1036.8 1343.7,1020.1 1344.2,1057.7 1344.7,1021.6 1345.2,977.0 1345.7,1001.8 1346.2,998.2 1346.7,958.4 1347.2,966.0 1347.6,994.9 1348.1,940.1 1348.6,1018.0 1349.1,1018.9 1349.6,996.1 1350.1,1005.7 1350.6,949.4 1351.0,1002.7 1351.5,1018.3 1352.0,1078.6 1352.5,1037.6 1353.0,1006.5 1353.5,1071.5 1354.0,1022.2 1354.4,1033.6 1354.9,1042.7 1355.4,984.2 1355.9,972.9 1356.4,1040.0 1356.9,985.7 1357.4,1003.1 1357.8,1045.5 1358.3,952.9 1358.8,957.1 1359.3,947.2 1359.8,954.7 1360.3,1065.6 1360.8,1015.2 1361.2,1030.9 1361.7,921.4 1362.2,1081.6 1362.7,945.9 1363.2,1019.3 1363.7,1023.6 1364.2,918.1 1364.6,925.8 1365.1,1006.0 1365.6,992.5 1366.1,998.8 1366.6,1006.2 1367.1,950.3 1367.6,988.2 1368.0,974.5 1368.5,1025.1 1369.0,973.6 1369.5,928.1 1370.0,1058.7 1370.5,1044.4 1371.0,1021.2 1371.4,982.7 1371.9,964.4 1372.4,1022.2 1372.9,976.7 1373.4,1007.8 1373.9,1015.5 1374.4,988.4 1374.8,933.1 1375.3,1007.1 1375.8,962.6 1376.3,946.1 1376.8,990.9 1377.3,1004.6 1377.8,1074.6 1378.2,1011.5 1378.7,935.7 1379.2,1010.0 1379.7,1041.2 1380.2,990.2 1380.7,977.7 1381.2,987.5 1381.6,1029.2 1382.1,987.1 1382.6,969.1 1383.1,942.2 1383.6,1034.8 1384.1,1036.6 1384.6,996.6 1385.0,1054.9 1385.5,985.3 1386.0,1013.8 1386.5,946.8 1387.0,1059.6 1387.5,991.7 1388.0,1006.4 1388.4,1010.6 1388.9,964.9 1389.4,976.0 1389.9,988.7 1390.4,983.5 1390.9,984.2 1391.4,1016.7 1391.8,1027.3 1392.3,936.3 1392.8,1031.9 1393.3,997.6 1393.8,1002.1 1394.3,1002.4 1394.8,1020.4 1395.2,1013.3 1395.7,946.0 1396.2,945.3 1396.7,1078.6 1397.2,1015.1 1397.7,1009.2 1398.2,948.6 1398.6,1002.4 1399.1,993.1 1399.6,978.7 1400.1,1072.2 1400.6,1011.1 1401.1,996.6 1401.6,1095.6 1402.0,1004.7 1402.5,1000.5 1403.0,924.9 1403.5,1030.2 1404.0,1046.4 1404.5,1083.2 1405.0,965.0 1405.4,1048.2 1405.9,1062.7 1406.4,1051.6 1406.9,1030.5 1407.4,982.2 1407.9,1036.0 1408.4,1014.2 1408.9,979.5 1409.3,1048.1 1409.8,1026.9 1410.3,1023.6 1410.8,1019.0 1411.3,1103.6 1411.8,969.8 1412.3,967.0 1412.7,1050.6 1413.2,1027.5 1413.7,1010.8 1414.2,968.3 1414.7,1008.4 1415.2,999.2 1415.7,1030.6 1416.1,1007.3 1416.6,1006.8 1417.1,1032.5 1417.6,1009.4 1418.1,995.0 1418.6,1118.5 1419.1,998.4 1419.5,1082.9 1420.0,1029.8 1420.5,973.5 1421.0,1012.6 1421.5,995.6 1422.0,1004.6 1422.5,1083.0 1422.9,1002.5 1423.4,1029.7 1423.9,983.5 1424.4,988.2 1424.9,982.7 1425.4,1014.5 1425.9,1011.9 1426.3,1121.5 1426.8,1031.3 1427.3,1033.0 1427.8,1056.1 1428.3,1020.4 1428.8,1083.0 1429.3,1054.1 1429.7,1085.9 1430.2,1028.3 1430.7,1121.5 1431.2,1033.2 1431.7,958.6 1432.2,1016.3 1432.7,1010.8 1433.1,965.6 1433.6,982.2 1434.1,995.6 1434.6,1095.1 1435.1,1028.0 1435.6,1080.5 1436.1,1048.1 1436.5,1053.6 1437.0,1043.6 1437.5,958.9 1438.0,950.6 1438.5,1096.6 1439.0,1016.3 1439.5,999.3 1439.9,1053.8 1440.4,1040.4 1440.9,1060.5 1441.4,1018.1 1441.9,1003.0 1442.4,1027.1 1442.9,1072.1 1443.3,1019.2 1443.8,1004.2 1444.3,964.1 1444.8,979.3 1445.3,1000.2 1445.8,1024.2 1446.3,1022.5 1446.7,999.8 1447.2,992.1 1447.7,1073.6 1448.2,1061.1 1448.7,1040.7 1449.2,1051.1 1449.7,1042.2 1450.1,1060.5 1450.6,963.5 1451.1,987.0 1451.6,1010.5 1452.1,1015.3 1452.6,1045.2 1453.1,945.3 1453.5,1007.8 1454.0,1011.5 1454.5,981.9 1455.0,998.8 1455.5,1034.7 1456.0,1027.8 1456.5,1075.6 1456.9,1022.1 1457.4,1013.5 1457.9,1041.4 1458.4,1012.0 1458.9,1041.5 1459.4,999.7 1459.9,1013.9 1460.3,984.5 1460.8,966.5 1461.3,1079.6 1461.8,987.4 1462.3,1005.4 1462.8,1017.8 1463.3,1005.3 1463.8,1037.7 1464.2,981.3 1464.7,1038.3 1465.2,1050.9 1465.7,1054.9 1466.2,991.4 1466.7,964.2 1467.2,935.7 1467.6,1019.0 1468.1,1000.1 1468.6,1075.6 1469.1,1006.6 1469.6,1018.7 1470.1,980.6 1470.6,939.6 1471.0,941.2 1471.5,964.9 1472.0,960.1 1472.5,935.2 1473.0,978.0 1473.5,955.6 1474.0,1018.2 1474.4,991.2 1474.9,1023.3 1475.4,945.0 1475.9,938.1 1476.4,1098.6 1476.9,1017.6 1477.4,1097.1 1477.8,1014.9 1478.3,987.3 1478.8,1020.8 1479.3,1011.3 1479.8,1050.1 1480.3,1012.3 1480.8,978.2 1481.2,938.4 1481.7,1026.5 1482.2,1051.6 1482.7,1018.3 1483.2,977.9 1483.7,995.6 1484.2,984.1 1484.6,1113.9 1485.1,1010.6 1485.6,1061.0 1486.1,1010.0 1486.6,993.5 1487.1,1086.2 1487.6,996.8 1488.0,1003.6 1488.5,1095.4 1489.0,1037.8 1489.5,1085.9 1490.0,959.0 1490.5,1069.0 1491.0,1099.6 1491.4,1032.1 1491.9,1044.6 1492.4,958.0 1492.9,1000.1 1493.4,1043.1 1493.9,1098.1 1494.4,1004.7 1494.8,1098.1 1495.3,1049.2 1495.8,1061.7 1496.3,999.5 1496.8,1129.5 1497.3,1010.6 1497.8,988.7 1498.2,1064.9 1498.7,1004.2 1499.2,1010.1 1499.7,1047.0 1500.2,1000.9 1500.7,987.0 1501.2,1032.7 1501.6,1034.1 1502.1,1072.3 1502.6,991.2 1503.1,1047.6 1503.6,1044.5 1504.1,1093.6 1504.6,1020.5 1505.0,1026.3 1505.5,994.0 1506.0,985.0 1506.5,1041.9 1507.0,981.1 1507.5,984.2 1508.0,1044.7 1508.4,998.9 1508.9,1003.6 1509.4,969.4 1509.9,975.0 1510.4,969.8 1510.9,970.0 1511.4,1059.8 1511.8,1112.5 1512.3,942.1 1512.8,983.5 1513.3,1053.2 1513.8,981.0 1514.3,1023.9 1514.8,989.2 1515.2,957.6 1515.7,1005.4 1516.2,987.1 1516.7,1032.8 1517.2,1053.0 1517.7,1023.4 1518.2,1111.0 1518.6,985.6 1519.1,1077.0 1519.6,1041.9 1520.1,1079.2 1520.6,1046.1 1521.1,944.1 1521.6,1014.3 1522.1,999.3 1522.5,1117.5 1523.0,975.8 1523.5,1005.4 1524.0,1039.2 1524.5,1073.8 1525.0,1003.2 1525.5,1030.2 1525.9,990.3 1526.4,991.6 1526.9,1015.5 1527.4,1081.2 1527.9,1059.1 1528.4,1023.9 1528.9,1018.1 1529.3,1041.4 1529.8,1013.9 1530.3,1000.9 1530.8,1006.4 1531.3,1004.8 1531.8,1114.5 1532.3,1034.7 1532.7,939.9 1533.2,979.2 1533.7,991.1 1534.2,1027.5 1534.7,973.3 1535.2,987.0 1535.7,1017.5 1536.1,1002.4 1536.6,982.0 1537.1,994.1 1537.6,972.9 1538.1,1034.8 1538.6,1021.7 1539.1,1036.8 1539.5,1086.9 1540.0,1051.3 1540.5,1024.6 1541.0,1000.1 1541.5,1089.6 1542.0,1016.5 1542.5,1000.4 1542.9,1054.7 1543.4,1031.9 1543.9,1010.8 1544.4,1033.0 1544.9,1081.0 1545.4,1021.7 1545.9,1029.9 1546.3,989.2 1546.8,1002.6 1547.3,1047.4 1547.8,1015.6 1548.3,1022.7 1548.8,1054.8 1549.3,1008.4 1549.7,1069.9 1550.2,998.2 1550.7,994.6 1551.2,993.7 1551.7,1124.5 1552.2,1024.4 1552.7,1009.4 1553.1,1047.3 1553.6,988.1 1554.1,1029.8 1554.6,1046.1 1555.1,1002.2 1555.6,1003.6 1556.1,944.5 1556.5,1061.9 1557.0,996.6 1557.5,1022.3 1558.0,985.3 1558.5,1069.6 1559.0,964.1 1559.5,1024.0 1559.9,1003.6 1560.4,988.6 1560.9,1014.0 1561.4,943.7 1561.9,1005.4 1562.4,986.3 1562.9,1045.8 1563.3,1024.3 1563.8,994.1 1564.3,990.6 1564.8,973.3 1565.3,1109.5 1565.8,1097.1 1566.3,1057.4 1566.7,1051.6 1567.2,942.4 1567.7,1053.3 1568.2,1109.5 1568.7,982.8 1569.2,1043.7 1569.7,990.6 1570.1,1042.6 1570.6,981.1 1571.1,1043.2 1571.6,1037.0 1572.1,984.7 1572.6,997.2 1573.1,1006.9 1573.5,1011.9 1574.0,1009.4 1574.5,1095.6 1575.0,1045.1 1575.5,1018.2 1576.0,1019.3 1576.5,1002.5 1576.9,1040.3 1577.4,1036.5 1577.9,1120.5 1578.4,1006.7 1578.9,1013.3 1579.4,989.8 1579.9,1032.1 1580.3,995.1 1580.8,1047.4 1581.3,1016.0 1581.8,1047.2 1582.3,1007.1 1582.8,960.6 1583.3,980.6 1583.8,1017.7 1584.2,1042.1 1584.7,1043.0 1585.2,1047.1 1585.7,1053.3 1586.2,1041.9 1586.7,1044.5 1587.2,1020.0 1587.6,1109.5 1588.1,1022.8 1588.6,1023.8 1589.1,1030.8 1589.6,1084.1 1590.1,986.8 1590.6,1013.1 1591.0,1018.9 1591.5,1037.2 1592.0,1026.4 1592.5,1069.5 1593.0,984.6 1593.5,1074.3 1594.0,992.8 1594.4,1007.1 1594.9,1005.5 1595.4,1085.6 1595.9,1025.6 1596.4,1028.2 1596.9,1036.6 1597.4,1051.9 1597.8,1037.2 1598.3,992.9 1598.8,1006.8 1599.3,1062.7 1599.8,1077.5 1600.3,1051.2 1600.8,1054.7 1601.2,1034.5 1601.7,1081.4 1602.2,1011.2 1602.7,1102.6 1603.2,1002.7 1603.7,1060.2 1604.2,1008.9 1604.6,1034.2 1605.1,987.8 1605.6,985.8 1606.1,1046.1 1606.6,1039.2 1607.1,1042.6 1607.6,1026.9 1608.0,1032.5 1608.5,1030.5 1609.0,1025.9 1609.5,1076.6 1610.0,1046.4 1610.5,994.4 1611.0,954.5 1611.4,991.5 1611.9,965.8 1612.4,960.2 1612.9,996.0 1613.4,973.3 1613.9,956.2 1614.4,1052.3 1614.8,1059.1 1615.3,1004.5 1615.8,994.6 1616.3,1088.6 1616.8,1004.3 1617.3,1054.3 1617.8,1016.6 1618.2,1036.0 1618.7,922.1 1619.2,1016.1 1619.7,989.5 1620.2,1001.2 1620.7,948.6 1621.2,976.3 1621.6,1027.4 1622.1,1026.9 1622.6,1033.8 1623.1,1036.7 1623.6,1045.9 1624.1,1019.3 1624.6,996.1 1625.0,983.5 1625.5,989.2 1626.0,973.8 1626.5,1111.5 1627.0,1026.0 1627.5,948.0 1628.0,981.0 1628.4,995.3 1628.9,1039.8 1629.4,1058.3 1629.9,1033.3 1630.4,1020.8 1630.9,1005.8 1631.4,1059.6 1631.8,1046.0 1632.3,1000.3 1632.8,1021.5 1633.3,1036.2 1633.8,1053.0 1634.3,1011.4 1634.8,1072.9 1635.2,1061.9 1635.7,1008.5 1636.2,1005.0 1636.7,1097.6 1637.2,992.7 1637.7,1033.6 1638.2,1070.9 1638.7,1072.1 1639.1,1035.8 1639.6,1097.6 1640.1,1004.7 1640.6,1032.0 1641.1,999.1 1641.6,1042.7 1642.1,1011.9 1642.5,1027.3 1643.0,997.3 1643.5,1091.4 1644.0,1058.7 1644.5,1019.9 1645.0,984.1 1645.5,1037.6 1645.9,1044.7 1646.4,974.8 1646.9,1019.6 1647.4,1092.5 1647.9,1023.6 1648.4,1002.4 1648.9,981.8 1649.3,1108.5 1649.8,1005.3 1650.3,1005.8 1650.8,1013.5 1651.3,1026.1 1651.8,1070.2 1652.3,1036.5 1652.7,935.7 1653.2,1040.6 1653.7,1039.3 1654.2,1048.7 1654.7,1034.5 1655.2,1018.8 1655.7,1043.9 1656.1,996.8 1656.6,957.1 1657.1,1010.2 1657.6,980.0 1658.1,1089.8 1658.6,1030.8 1659.1,1023.0 1659.5,1120.5 1660.0,995.9 1660.5,1045.9 1661.0,954.8 1661.5,1000.2 1662.0,944.7 1662.5,1045.1 1662.9,953.6 1663.4,1021.1 1663.9,951.4 1664.4,1047.2 1664.9,1072.0 1665.4,1031.6 1665.9,984.2 1666.3,1044.3 1666.8,1067.8 1667.3,1058.7 1667.8,1079.9 1668.3,1107.0 1668.8,1035.7 1669.3,1014.8 1669.7,1121.5 1670.2,1025.9 1670.7,1002.4 1671.2,991.6 1671.7,1022.9 1672.2,1081.8 1672.7,982.1 1673.1,993.0 1673.6,997.6 1674.1,973.5 1674.6,1048.0 1675.1,1004.6 1675.6,1031.5 1676.1,952.2 1676.5,1030.1 1677.0,1005.3 1677.5,957.7 1678.0,1040.8 1678.5,1043.7 1679.0,1017.9 1679.5,1026.8 1679.9,1090.6 1680.4,1046.8 1680.9,1004.6 1681.4,1090.6 1681.9,1031.4 1682.4,1027.2 1682.9,983.7 1683.3,1019.8 1683.8,1015.1 1684.3,1052.4 1684.8,982.9 1685.3,1044.4 1685.8,1027.2 1686.3,1012.0 1686.7,1077.9 1687.2,1039.2 1687.7,990.4 1688.2,1020.9 1688.7,983.0 1689.2,968.1 1689.7,992.0 1690.1,992.4 1690.6,1071.4 1691.1,1037.6 1691.6,1122.5 1692.1,998.3 1692.6,1009.1 1693.1,1022.0 1693.5,1029.4 1694.0,1026.2 1694.5,1017.3 1695.0,977.5 1695.5,1050.0 1696.0,1029.3 1696.5,1056.7 1696.9,1030.0 1697.4,1041.9 1697.9,1012.6 1698.4,1054.3 1698.9,1037.8 1699.4,1023.8 1699.9,1039.6 1700.4,1041.4 1700.8,1004.0 1701.3,1077.6 1701.8,1011.8 1702.3,1041.7 1702.8,1030.2 1703.3,1014.9 1703.8,1014.1 1704.2,1026.1 1704.7,987.5 1705.2,1023.8 1705.7,1054.8 1706.2,1001.7 1706.7,1005.4 1707.2,1006.5 1707.6,1034.7 1708.1,1013.3 1708.6,1060.3 1709.1,1023.2 1709.6,1017.9 1710.1,1007.1 1710.6,1039.0 1711.0,1030.2 1711.5,1067.6 1712.0,1050.2 1712.5,1049.1 1713.0,1034.5 1713.5,1067.6 1714.0,1017.1 1714.4,1030.9 1714.9,1020.8 1715.4,1053.5 1715.9,1040.6 1716.4,1024.1 1716.9,1020.1 1717.4,1011.0 1717.8,1030.7 1718.3,1007.0 1718.8,1029.9 1719.3,984.4 1719.8,1005.4 1720.3,1018.7 1720.8,1004.7 1721.2,1010.6 1721.7,1030.2 1722.2,998.7 1722.7,992.8 1723.2,1093.6 1723.7,1040.3 1724.2,1011.8 1724.6,1013.4 1725.1,1042.5 1725.6,1093.6 1726.1,1019.7"/>
<polyline stroke="#0072BD" stroke-linejoin="bevel" stroke-dasharray="28 26" points="269.1,425.2 269.6,327.0 270.1,261.9 270.5,251.2 271.0,285.8 271.5,276.2 272.0,286.3 272.5,131.6 273.0,202.8 273.5,211.1 273.9,138.2 274.4,127.9 274.9,271.1 275.4,297.6 275.9,263.1 276.4,181.7 276.9,249.3 277.3,178.9 277.8,255.5 278.3,175.5 278.8,261.9 279.3,298.3 279.8,298.0 280.3,279.7 280.7,285.8 281.2,251.3 281.7,225.4 282.2,287.5 282.7,147.4 283.2,195.8 283.7,236.5 284.1,214.4 284.6,225.2 285.1,154.9 285.6,139.2 286.1,146.8 286.6,245.2 287.1,147.5 287.5,158.5 288.0,176.3 288.5,205.3 289.0,224.0 289.5,141.2 290.0,241.5 290.5,221.7 290.9,169.7 291.4,154.2 291.9,202.0 292.4,201.9 292.9,163.4 293.4,151.9 293.9,222.1 294.3,211.1 294.8,226.1 295.3,157.8 295.8,214.3 296.3,131.5 296.8,122.9 297.3,174.7 297.8,241.4 298.2,214.6 298.7,223.1 299.2,220.5 299.7,225.3 300.2,190.6 300.7,234.6 301.2,156.5 301.6,196.6 302.1,161.0 302.6,169.0 303.1,256.8 303.6,222.8 304.1,244.0 304.6,223.1 305.0,219.3 305.5,244.4 306.0,225.1 306.5,212.4 307.0,217.6 307.5,219.0 308.0,193.4 308.4,230.1 308.9,200.7 309.4,228.6 309.9,212.9 310.4,244.4 310.9,237.8 311.4,159.6 311.8,248.5 312.3,259.5 312.8,193.5 313.3,240.4 313.8,253.5 314.3,213.1 314.8,169.9 315.2,239.7 315.7,252.4 316.2,189.8 316.7,178.8 317.2,243.9 317.7,214.1 318.2,154.7 318.6,176.1 319.1,178.7 319.6,221.9 320.1,219.2 320.6,214.2 321.1,191.3 321.6,197.1 322.0,209.3 322.5,217.0 323.0,215.2 323.5,232.6 324.0,264.9 324.5,236.5 325.0,208.9 325.4,263.0 325.9,168.2 326.4,260.3 326.9,210.0 327.4,208.1 327.9,248.8 328.4,222.0 328.8,245.7 329.3,195.3 329.8,215.9 330.3,226.5 330.8,180.6 331.3,239.3 331.8,171.6 332.2,169.1 332.7,184.3 333.2,244.4 333.7,207.2 334.2,158.2 334.7,181.6 335.2,232.2 335.6,162.7 336.1,215.4 336.6,203.6 337.1,257.5 337.6,196.2 338.1,221.6 338.6,230.5 339.0,281.4 339.5,225.3 340.0,195.1 340.5,227.3 341.0,221.7 341.5,243.8 342.0,193.9 342.4,227.4 342.9,253.5 343.4,226.0 343.9,286.4 344.4,220.8 344.9,278.2 345.4,217.4 345.8,224.9 346.3,259.3 346.8,240.5 347.3,287.2 347.8,281.9 348.3,212.6 348.8,209.5 349.2,239.0 349.7,252.5 350.2,190.1 350.7,262.9 351.2,212.3 351.7,192.9 352.2,204.2 352.6,253.1 353.1,203.3 353.6,190.6 354.1,234.6 354.6,263.5 355.1,199.0 355.6,219.8 356.1,206.9 356.5,265.4 357.0,258.5 357.5,222.5 358.0,269.5 358.5,197.2 359.0,215.8 359.5,229.8 359.9,249.5 360.4,243.2 360.9,215.8 361.4,265.6 361.9,269.8 362.4,257.3 362.9,219.3 363.3,254.3 363.8,201.3 364.3,192.4 364.8,183.1 365.3,252.6 365.8,269.2 366.3,204.3 366.7,244.7 367.2,201.0 367.7,249.8 368.2,191.9 368.7,229.5 369.2,257.9 369.7,276.4 370.1,245.7 370.6,240.3 371.1,213.9 371.6,191.7 372.1,251.4 372.6,183.3 373.1,245.9 373.5,204.9 374.0,180.7 374.5,189.7 375.0,225.3 375.5,204.9 376.0,187.3 376.5,205.4 376.9,250.5 377.4,243.7 377.9,218.9 378.4,209.8 378.9,268.7 379.4,223.2 379.9,238.7 380.3,254.2 380.8,220.4 381.3,230.9 381.8,214.8 382.3,249.9 382.8,243.3 383.3,215.0 383.7,249.3 384.2,196.2 384.7,206.2 385.2,235.2 385.7,186.4 386.2,258.2 386.7,176.8 387.1,255.7 387.6,173.8 388.1,250.7 388.6,176.1 389.1,236.6 389.6,204.9 390.1,189.6 390.5,203.4 391.0,258.0 391.5,245.9 392.0,196.1 392.5,190.5 393.0,252.6 393.5,179.8 393.9,176.5 394.4,227.9 394.9,185.7 395.4,169.5 395.9,226.8 396.4,178.0 396.9,189.7 397.3,234.6 397.8,254.8 398.3,209.5 398.8,214.8 399.3,180.5 399.8,217.6 400.3,192.0 400.7,220.5 401.2,184.5 401.7,199.4 402.2,247.7 402.7,203.5 403.2,242.3 403.7,230.6 404.1,184.9 404.6,213.6 405.1,218.9 405.6,215.5 406.1,191.9 406.6,200.9 407.1,237.7 407.5,224.3 408.0,209.7 408.5,213.4 409.0,217.8 409.5,221.6 410.0,227.6 410.5,259.4 410.9,177.5 411.4,232.5 411.9,182.8 412.4,184.0 412.9,264.4 413.4,234.1 413.9,222.8 414.4,250.0 414.8,224.3 415.3,256.9 415.8,255.1 416.3,266.4 416.8,155.5 417.3,194.9 417.8,185.3 418.2,237.6 418.7,243.7 419.2,209.6 419.7,182.8 420.2,229.7 420.7,179.0 421.2,260.6 421.6,226.2 422.1,176.3 422.6,261.1 423.1,197.0 423.6,228.6 424.1,255.1 424.6,213.1 425.0,190.8 425.5,235.9 426.0,258.2 426.5,274.2 427.0,189.7 427.5,217.5 428.0,255.2 428.4,177.8 428.9,168.5 429.4,277.8 429.9,210.8 430.4,291.1 430.9,287.6 431.4,260.0 431.8,309.8 432.3,162.3 432.8,190.0 433.3,207.7 433.8,205.4 434.3,210.7 434.8,214.0 435.2,205.8 435.7,224.4 436.2,243.5 436.7,223.1 437.2,204.1 437.7,203.4 438.2,236.5 438.6,213.6 439.1,199.6 439.6,240.8 440.1,247.2 440.6,227.7 441.1,199.2 441.6,208.6 442.0,233.5 442.5,235.8 443.0,200.2 443.5,248.1 444.0,202.6 444.5,249.5 445.0,229.5 445.4,221.1 445.9,239.3 446.4,239.2 446.9,145.1 447.4,154.4 447.9,253.8 448.4,252.5 448.8,248.1 449.3,177.9 449.8,223.3 450.3,201.4 450.8,225.4 451.3,187.2 451.8,241.4 452.2,187.0 452.7,200.7 453.2,197.1 453.7,252.1 454.2,206.0 454.7,199.1 455.2,205.2 455.6,213.4 456.1,222.6 456.6,231.7 457.1,210.0 457.6,236.1 458.1,247.5 458.6,226.0 459.0,201.8 459.5,251.3 460.0,219.5 460.5,217.3 461.0,218.5 461.5,255.9 462.0,245.5 462.4,262.2 462.9,186.1 463.4,204.4 463.9,216.3 464.4,206.6 464.9,257.0 465.4,181.7 465.8,175.0 466.3,257.3 466.8,166.3 467.3,267.8 467.8,212.7 468.3,260.3 468.8,239.3 469.2,230.8 469.7,192.5 470.2,242.4 470.7,187.5 471.2,166.8 471.7,194.3 472.2,206.3 472.7,176.0 473.1,213.9 473.6,222.2 474.1,238.6 474.6,231.5 475.1,173.6 475.6,248.7 476.1,173.9 476.5,218.9 477.0,176.2 477.5,213.0 478.0,183.7 478.5,257.0 479.0,259.4 479.5,194.4 479.9,179.3 480.4,229.0 480.9,230.6 481.4,247.9 481.9,232.4 482.4,290.1 482.9,213.0 483.3,234.1 483.8,297.8 484.3,224.3 484.8,228.2 485.3,276.1 485.8,231.4 486.3,277.0 486.7,211.5 487.2,235.2 487.7,284.1 488.2,267.5 488.7,257.4 489.2,283.2 489.7,216.5 490.1,225.7 490.6,228.4 491.1,220.2 491.6,229.9 492.1,272.6 492.6,241.5 493.1,286.2 493.5,226.9 494.0,248.4 494.5,282.4 495.0,242.1 495.5,220.9 496.0,222.6 496.5,228.0 496.9,183.9 497.4,229.8 497.9,199.3 498.4,188.7 498.9,193.5 499.4,224.5 499.9,195.4 500.3,223.8 500.8,219.4 501.3,202.0 501.8,239.8 502.3,191.9 502.8,230.4 503.3,213.6 503.7,216.6 504.2,231.2 504.7,212.2 505.2,229.8 505.7,192.5 506.2,206.5 506.7,234.8 507.1,197.5 507.6,258.4 508.1,243.7 508.6,219.3 509.1,248.4 509.6,213.8 510.1,166.8 510.5,211.7 511.0,190.3 511.5,150.9 512.0,215.1 512.5,222.6 513.0,208.3 513.5,207.1 513.9,208.7 514.4,249.9 514.9,190.5 515.4,233.6 515.9,217.4 516.4,250.1 516.9,200.9 517.3,197.3 517.8,254.1 518.3,239.3 518.8,238.0 519.3,234.2 519.8,237.0 520.3,208.3 520.7,240.8 521.2,195.1 521.7,212.3 522.2,217.7 522.7,215.7 523.2,191.1 523.7,189.8 524.1,230.0 524.6,237.5 525.1,225.3 525.6,220.7 526.1,203.7 526.6,215.0 527.1,239.7 527.5,250.0 528.0,216.8 528.5,223.8 529.0,125.7 529.5,156.3 530.0,191.1 530.5,232.1 531.0,241.1 531.4,180.4 531.9,154.9 532.4,237.0 532.9,227.5 533.4,226.4 533.9,159.5 534.4,253.3 534.8,234.0 535.3,222.0 535.8,193.6 536.3,196.9 536.8,244.2 537.3,222.8 537.8,146.0 538.2,268.0 538.7,207.5 539.2,179.9 539.7,258.2 540.2,143.1 540.7,239.1 541.2,176.4 541.6,185.9 542.1,250.5 542.6,209.5 543.1,281.0 543.6,255.6 544.1,269.8 544.6,276.7 545.0,220.4 545.5,241.6 546.0,212.9 546.5,215.1 547.0,186.4 547.5,145.2 548.0,198.0 548.4,286.5 548.9,226.4 549.4,265.7 549.9,262.1 550.4,244.0 550.9,170.1 551.4,176.6 551.8,265.6 552.3,281.6 552.8,299.0 553.3,201.5 553.8,176.5 554.3,281.0 554.8,240.7 555.2,221.5 555.7,186.0 556.2,183.8 556.7,192.5 557.2,262.9 557.7,254.9 558.2,224.3 558.6,277.4 559.1,275.9 559.6,182.2 560.1,268.2 560.6,215.3 561.1,261.8 561.6,231.8 562.0,169.7 562.5,186.4 563.0,261.1 563.5,177.3 564.0,222.5 564.5,230.3 565.0,260.6 565.4,190.5 565.9,229.8 566.4,140.9 566.9,162.5 567.4,243.1 567.9,147.5 568.4,247.1 568.8,254.9 569.3,218.7 569.8,211.4 570.3,255.7 570.8,211.1 571.3,264.3 571.8,194.7 572.2,217.0 572.7,216.2 573.2,202.3 573.7,189.6 574.2,201.2 574.7,193.2 575.2,197.7 575.6,179.1 576.1,223.8 576.6,202.2 577.1,250.0 577.6,197.0 578.1,194.8 578.6,212.9 579.0,175.9 579.5,202.4 580.0,187.7 580.5,185.9 581.0,184.5 581.5,202.4 582.0,185.6 582.4,206.0 582.9,242.1 583.4,194.0 583.9,190.5 584.4,210.4 584.9,218.2 585.4,242.0 585.8,217.6 586.3,247.9 586.8,188.3 587.3,182.5 587.8,245.8 588.3,225.0 588.8,204.1 589.2,247.8 589.7,183.8 590.2,215.1 590.7,221.3 591.2,194.8 591.7,222.5 592.2,211.0 592.7,245.7 593.1,223.6 593.6,248.8 594.1,192.0 594.6,180.1 595.1,207.8 595.6,229.1 596.1,215.7 596.5,181.4 597.0,193.9 597.5,183.7 598.0,263.2 598.5,221.6 599.0,239.6 599.5,243.3 599.9,178.1 600.4,185.3 600.9,234.2 601.4,210.3 601.9,198.1 602.4,198.8 602.9,181.8 603.3,201.8 603.8,193.0 604.3,202.4 604.8,193.1 605.3,233.5 605.8,235.2 606.3,203.8 606.7,215.5 607.2,215.2 607.7,227.2 608.2,212.0 608.7,204.6 609.2,248.7 609.7,249.8 610.1,222.4 610.6,243.9 611.1,245.1 611.6,249.2 612.1,239.1 612.6,178.5 613.1,191.7 613.5,243.7 614.0,230.7 614.5,237.2 615.0,239.5 615.5,222.6 616.0,199.5 616.5,239.1 616.9,249.9 617.4,232.7 617.9,210.5 618.4,192.1 618.9,179.4 619.4,246.2 619.9,203.6 620.3,207.3 620.8,265.2 621.3,207.1 621.8,220.6 622.3,213.8 622.8,255.1 623.3,266.7 623.7,228.7 624.2,235.8 624.7,251.5 625.2,196.4 625.7,217.6 626.2,258.3 626.7,182.6 627.1,181.1 627.6,209.0 628.1,218.0 628.6,191.1 629.1,183.8 629.6,207.0 630.1,246.4 630.5,197.2 631.0,220.2 631.5,247.5 632.0,233.5 632.5,209.5 633.0,258.5 633.5,258.8 633.9,198.4 634.4,274.5 634.9,259.4 635.4,209.9 635.9,243.4 636.4,204.8 636.9,192.3 637.3,242.8 637.8,205.4 638.3,272.3 638.8,219.4 639.3,289.2 639.8,223.9 640.3,210.6 640.7,227.3 641.2,277.6 641.7,198.5 642.2,224.5 642.7,224.8 643.2,235.5 643.7,250.1 644.1,250.0 644.6,227.0 645.1,229.7 645.6,274.9 646.1,253.4 646.6,247.8 647.1,189.7 647.5,228.8 648.0,268.6 648.5,236.2 649.0,227.5 649.5,246.7 650.0,193.7 650.5,219.5 651.0,202.6 651.4,248.5 651.9,251.6 652.4,249.7 652.9,197.0 653.4,250.8 653.9,178.5 654.4,177.4 654.8,182.1 655.3,213.0 655.8,205.6 656.3,186.6 656.8,250.8 657.3,186.9 657.8,252.3 658.2,188.5 658.7,217.1 659.2,258.5 659.7,181.8 660.2,191.9 660.7,213.3 661.2,196.4 661.6,224.7 662.1,216.8 662.6,232.9 663.1,254.1 663.6,245.9 664.1,252.3 664.6,222.9 665.0,166.1 665.5,177.4 666.0,246.7 666.5,171.4 667.0,183.2 667.5,217.0 668.0,177.1 668.4,257.4 668.9,159.4 669.4,218.1 669.9,256.0 670.4,161.3 670.9,183.4 671.4,177.2 671.8,173.9 672.3,266.2 672.8,246.1 673.3,207.8 673.8,242.3 674.3,178.7 674.8,268.0 675.2,219.4 675.7,201.3 676.2,232.2 676.7,244.6 677.2,224.6 677.7,233.1 678.2,255.7 678.6,222.4 679.1,263.4 679.6,218.6 680.1,248.2 680.6,218.2 681.1,221.3 681.6,188.7 682.0,250.5 682.5,230.5 683.0,226.7 683.5,227.9 684.0,288.1 684.5,226.7 685.0,267.4 685.4,219.6 685.9,173.0 686.4,240.5 686.9,262.2 687.4,295.9 687.9,154.1 688.4,293.1 688.8,213.3 689.3,179.6 689.8,238.5 690.3,237.2 690.8,207.2 691.3,279.0 691.8,217.2 692.2,231.5 692.7,182.5 693.2,290.6 693.7,255.6 694.2,194.7 694.7,263.3 695.2,223.9 695.6,191.2 696.1,188.0 696.6,259.9 697.1,185.7 697.6,257.3 698.1,259.1 698.6,214.7 699.0,231.0 699.5,245.0 700.0,232.5 700.5,264.0 701.0,206.7 701.5,200.9 702.0,207.8 702.4,236.9 702.9,228.4 703.4,261.3 703.9,266.9 704.4,257.8 704.9,249.2 705.4,189.9 705.9,222.3 706.3,218.0 706.8,230.2 707.3,239.6 707.8,188.2 708.3,222.4 708.8,194.6 709.3,239.3 709.7,217.8 710.2,254.5 710.7,248.2 711.2,195.4 711.7,189.1 712.2,249.2 712.7,243.7 713.1,260.1 713.6,197.8 714.1,242.7 714.6,235.4 715.1,231.5 715.6,203.3 716.1,186.0 716.5,215.3 717.0,207.0 717.5,251.7 718.0,191.2 718.5,180.9 719.0,196.2 719.5,202.7 719.9,234.7 720.4,234.9 720.9,211.9 721.4,203.0 721.9,215.6 722.4,224.6 722.9,212.2 723.3,246.8 723.8,201.9 724.3,189.1 724.8,228.5 725.3,228.4 725.8,211.4 726.3,174.0 726.7,186.3 727.2,205.4 727.7,223.0 728.2,251.4 728.7,188.2 729.2,180.8 729.7,171.4 730.1,219.7 730.6,193.3 731.1,245.2 731.6,180.3 732.1,185.7 732.6,197.8 733.1,233.8 733.5,178.6 734.0,226.7 734.5,205.1 735.0,217.3 735.5,234.5 736.0,183.1 736.5,245.9 736.9,233.9 737.4,249.1 737.9,238.9 738.4,246.6 738.9,220.0 739.4,202.2 739.9,246.2 740.3,236.5 740.8,202.2 741.3,204.9 741.8,177.7 742.3,251.5 742.8,183.5 743.3,186.3 743.7,181.2 744.2,237.9 744.7,173.3 745.2,232.4 745.7,216.4 746.2,224.1 746.7,170.8 747.1,174.2 747.6,265.7 748.1,227.7 748.6,223.8 749.1,262.5 749.6,259.6 750.1,220.8 750.5,245.9 751.0,237.5 751.5,214.8 752.0,207.8 752.5,250.2 753.0,261.4 753.5,222.4 753.9,206.9 754.4,268.8 754.9,202.8 755.4,208.9 755.9,211.4 756.4,271.2 756.9,206.3 757.3,255.1 757.8,259.8 758.3,257.4 758.8,228.6 759.3,257.4 759.8,271.6 760.3,274.5 760.7,280.4 761.2,273.9 761.7,227.2 762.2,207.0 762.7,216.2 763.2,282.5 763.7,272.6 764.2,253.4 764.6,246.8 765.1,231.3 765.6,248.3 766.1,295.3 766.6,262.0 767.1,223.3 767.6,281.8 768.0,222.9 768.5,205.6 769.0,243.4 769.5,202.3 770.0,277.2 770.5,254.7 771.0,196.8 771.4,220.8 771.9,263.9 772.4,284.2 772.9,186.6 773.4,266.5 773.9,219.5 774.4,187.1 774.8,265.1 775.3,213.5 775.8,240.7 776.3,253.5 776.8,152.2 777.3,154.4 777.8,275.2 778.2,251.3 778.7,169.2 779.2,258.1 779.7,267.3 780.2,274.2 780.7,225.0 781.2,209.6 781.6,198.3 782.1,261.5 782.6,198.8 783.1,203.1 783.6,247.4 784.1,263.4 784.6,232.1 785.0,192.3 785.5,188.1 786.0,211.9 786.5,182.7 787.0,205.6 787.5,257.2 788.0,216.9 788.4,187.2 788.9,210.1 789.4,235.8 789.9,255.6 790.4,225.5 790.9,215.5 791.4,245.0 791.8,249.1 792.3,188.6 792.8,189.6 793.3,253.4 793.8,266.6 794.3,272.0 794.8,199.1 795.2,201.8 795.7,209.1 796.2,188.1 796.7,190.8 797.2,256.3 797.7,218.3 798.2,222.1 798.6,261.3 799.1,234.4 799.6,206.8 800.1,215.2 800.6,259.3 801.1,244.8 801.6,193.6 802.0,245.7 802.5,206.4 803.0,186.0 803.5,249.6 804.0,207.6 804.5,203.8 805.0,221.0 805.4,189.4 805.9,215.2 806.4,204.3 806.9,233.4 807.4,222.7 807.9,199.3 808.4,264.8 808.8,253.7 809.3,268.2 809.8,205.7 810.3,279.3 810.8,269.4 811.3,235.2 811.8,232.2 812.2,198.9 812.7,183.9 813.2,249.6 813.7,248.7 814.2,263.9 814.7,192.8 815.2,203.0 815.6,269.3 816.1,265.3 816.6,223.2 817.1,241.6 817.6,279.3 818.1,212.4 818.6,227.7 819.0,237.3 819.5,219.6 820.0,226.9 820.5,197.2 821.0,208.8 821.5,194.6 822.0,191.6 822.5,247.6 822.9,190.6 823.4,191.5 823.9,245.8 824.4,215.9 824.9,220.9 825.4,231.4 825.9,246.0 826.3,219.3 826.8,249.1 827.3,241.7 827.8,189.5 828.3,224.5 828.8,226.1 829.3,226.6 829.7,223.5 830.2,245.2 830.7,236.7 831.2,232.7 831.7,241.1 832.2,197.2 832.7,206.3 833.1,203.6 833.6,200.3 834.1,208.3 834.6,239.3 835.1,211.6 835.6,223.7 836.1,161.1 836.5,248.6 837.0,209.5 837.5,241.7 838.0,210.3 838.5,227.2 839.0,227.1 839.5,212.3 839.9,222.9 840.4,232.1 840.9,249.4 841.4,229.7 841.9,254.5 842.4,259.6 842.9,218.4 843.3,260.5 843.8,241.0 844.3,216.0 844.8,240.2 845.3,264.0 845.8,222.3 846.3,252.0 846.7,230.2 847.2,279.0 847.7,226.0 848.2,248.8 848.7,272.4 849.2,185.8 849.7,256.3 850.1,180.6 850.6,223.6 851.1,190.8 851.6,173.9 852.1,279.9 852.6,203.4 853.1,245.0 853.5,267.7 854.0,228.5 854.5,271.0 855.0,275.2 855.5,251.9 856.0,270.5 856.5,203.4 856.9,232.3 857.4,277.5 857.9,205.1 858.4,184.1 858.9,260.6 859.4,210.3 859.9,267.4 860.3,211.8 860.8,249.5 861.3,213.6 861.8,257.7 862.3,226.3 862.8,255.7 863.3,274.9 863.7,255.7 864.2,216.9 864.7,265.4 865.2,265.5 865.7,238.3 866.2,218.1 866.7,264.0 867.1,242.1 867.6,246.5 868.1,272.2 868.6,239.9 869.1,231.7 869.6,276.8 870.1,252.5 870.5,275.5 871.0,256.2 871.5,275.9 872.0,239.0 872.5,244.0 873.0,225.9 873.5,213.8 873.9,165.4 874.4,247.8 874.9,200.2 875.4,286.8 875.9,227.3 876.4,241.9 876.9,183.6 877.3,297.1 877.8,228.0 878.3,281.7 878.8,237.6 879.3,196.8 879.8,209.9 880.3,228.6 880.8,249.8 881.2,190.3 881.7,215.2 882.2,254.0 882.7,214.3 883.2,225.3 883.7,220.8 884.2,290.3 884.6,283.8 885.1,259.0 885.6,266.2 886.1,278.8 886.6,277.1 887.1,258.3 887.6,270.4 888.0,287.7 888.5,208.9 889.0,213.7 889.5,208.9 890.0,234.0 890.5,235.5 891.0,210.3 891.4,243.2 891.9,213.0 892.4,245.9 892.9,234.9 893.4,263.9 893.9,252.5 894.4,258.8 894.8,224.1 895.3,270.8 895.8,209.4 896.3,239.2 896.8,224.0 897.3,270.8 897.8,300.2 898.2,292.1 898.7,270.5 899.2,283.1 899.7,284.8 900.2,287.8 900.7,218.3 901.2,286.2 901.6,246.4 902.1,262.2 902.6,253.9 903.1,279.9 903.6,228.6 904.1,245.2 904.6,226.0 905.0,206.4 905.5,265.1 906.0,240.7 906.5,290.4 907.0,300.8 907.5,282.3 908.0,252.4 908.4,206.4 908.9,290.6 909.4,229.4 909.9,238.9 910.4,228.6 910.9,299.2 911.4,282.9 911.8,225.1 912.3,242.9 912.8,241.1 913.3,191.6 913.8,183.9 914.3,261.2 914.8,229.8 915.2,245.1 915.7,291.1 916.2,187.3 916.7,186.8 917.2,261.4 917.7,274.1 918.2,287.0 918.6,255.5 919.1,238.4 919.6,222.4 920.1,259.1 920.6,218.0 921.1,270.0 921.6,209.6 922.0,221.4 922.5,187.5 923.0,211.9 923.5,213.2 924.0,240.3 924.5,194.2 925.0,277.3 925.4,242.6 925.9,285.4 926.4,203.4 926.9,203.1 927.4,298.1 927.9,214.5 928.4,271.1 928.8,212.5 929.3,185.4 929.8,219.6 930.3,257.6 930.8,246.0 931.3,293.5 931.8,220.8 932.2,260.9 932.7,295.3 933.2,255.5 933.7,285.5 934.2,258.3 934.7,253.5 935.2,233.8 935.6,282.9 936.1,279.8 936.6,221.0 937.1,311.4 937.6,304.6 938.1,302.1 938.6,217.2 939.1,252.0 939.5,285.4 940.0,242.9 940.5,245.6 941.0,225.1 941.5,222.1 942.0,270.2 942.5,231.6 942.9,246.3 943.4,254.4 943.9,235.4 944.4,230.3 944.9,214.7 945.4,196.5 945.9,224.0 946.3,223.7 946.8,212.3 947.3,188.6 947.8,266.8 948.3,239.3 948.8,212.4 949.3,242.3 949.7,249.9 950.2,244.1 950.7,224.2 951.2,232.7 951.7,216.4 952.2,222.7 952.7,201.1 953.1,251.5 953.6,194.3 954.1,238.6 954.6,238.9 955.1,211.1 955.6,212.9 956.1,220.2 956.5,185.0 957.0,227.9 957.5,264.8 958.0,263.6 958.5,232.2 959.0,226.9 959.5,229.9 959.9,233.1 960.4,243.3 960.9,224.4 961.4,252.2 961.9,234.6 962.4,289.0 962.9,250.4 963.3,267.6 963.8,263.4 964.3,257.7 964.8,273.3 965.3,289.6 965.8,264.5 966.3,237.7 966.7,259.6 967.2,246.0 967.7,257.2 968.2,250.4 968.7,259.8 969.2,226.6 969.7,251.1 970.1,240.2 970.6,262.8 971.1,227.5 971.6,234.9 972.1,250.4 972.6,285.3 973.1,304.9 973.5,233.5 974.0,267.6 974.5,210.8 975.0,286.7 975.5,215.5 976.0,278.1 976.5,291.2 976.9,238.0 977.4,278.3 977.9,219.5 978.4,304.0 978.9,218.5 979.4,204.2 979.9,212.0 980.3,237.4 980.8,243.3 981.3,225.8 981.8,313.6 982.3,202.6 982.8,277.1 983.3,315.8 983.7,272.7 984.2,318.5 984.7,295.2 985.2,300.9 985.7,304.1 986.2,252.1 986.7,214.6 987.1,298.1 987.6,299.7 988.1,268.7 988.6,286.7 989.1,317.2 989.6,289.6 990.1,287.2 990.5,229.1 991.0,220.2 991.5,233.4 992.0,290.0 992.5,251.9 993.0,287.7 993.5,288.8 993.9,191.3 994.4,207.6 994.9,266.2 995.4,318.0 995.9,246.7 996.4,260.3 996.9,253.5 997.4,264.7 997.8,279.7 998.3,211.5 998.8,275.5 999.3,203.7 999.8,246.6 1000.3,229.5 1000.8,195.6 1001.2,236.6 1001.7,256.7 1002.2,240.2 1002.7,237.5 1003.2,264.6 1003.7,246.1 1004.2,247.2 1004.6,222.0 1005.1,234.6 1005.6,269.6 1006.1,226.0 1006.6,235.4 1007.1,288.0 1007.6,289.8 1008.0,248.3 1008.5,228.5 1009.0,260.0 1009.5,207.3 1010.0,299.1 1010.5,240.9 1011.0,254.4 1011.4,274.0 1011.9,198.9 1012.4,250.0 1012.9,226.7 1013.4,235.0 1013.9,228.8 1014.4,257.7 1014.8,270.1 1015.3,259.9 1015.8,225.4 1016.3,259.0 1016.8,205.1 1017.3,297.8 1017.8,295.7 1018.2,227.6 1018.7,278.2 1019.2,209.4 1019.7,270.2 1020.2,250.6 1020.7,262.7 1021.2,226.8 1021.6,265.8 1022.1,281.9 1022.6,251.8 1023.1,257.9 1023.6,216.8 1024.1,298.5 1024.6,224.0 1025.0,266.2 1025.5,262.9 1026.0,216.9 1026.5,228.9 1027.0,269.8 1027.5,218.7 1028.0,274.6 1028.4,208.1 1028.9,202.3 1029.4,217.1 1029.9,191.4 1030.4,241.7 1030.9,201.2 1031.4,246.6 1031.8,246.6 1032.3,259.8 1032.8,265.8 1033.3,229.0 1033.8,248.8 1034.3,259.0 1034.8,202.8 1035.2,216.3 1035.7,264.2 1036.2,223.6 1036.7,202.3 1037.2,155.8 1037.7,251.0 1038.2,223.9 1038.6,206.3 1039.1,253.2 1039.6,247.1 1040.1,205.9 1040.6,226.3 1041.1,238.7 1041.6,226.1 1042.0,265.3 1042.5,232.5 1043.0,252.8 1043.5,213.2 1044.0,251.0 1044.5,231.9 1045.0,261.7 1045.4,228.2 1045.9,279.0 1046.4,226.5 1046.9,223.8 1047.4,277.7 1047.9,224.8 1048.4,265.0 1048.8,290.8 1049.3,279.1 1049.8,240.3 1050.3,243.8 1050.8,275.4 1051.3,261.7 1051.8,249.0 1052.2,237.8 1052.7,239.8 1053.2,256.9 1053.7,263.9 1054.2,265.9 1054.7,203.1 1055.2,245.5 1055.7,274.3 1056.1,237.1 1056.6,259.4 1057.1,176.5 1057.6,193.1 1058.1,214.0 1058.6,282.6 1059.1,215.7 1059.5,276.4 1060.0,173.5 1060.5,180.0 1061.0,156.1 1061.5,203.1 1062.0,200.7 1062.5,274.1 1062.9,231.8 1063.4,268.7 1063.9,252.6 1064.4,228.0 1064.9,275.8 1065.4,192.4 1065.9,241.2 1066.3,269.7 1066.8,200.3 1067.3,261.4 1067.8,249.1 1068.3,242.4 1068.8,274.3 1069.3,248.5 1069.7,198.7 1070.2,253.0 1070.7,211.3 1071.2,265.3 1071.7,198.2 1072.2,234.3 1072.7,204.1 1073.1,192.6 1073.6,246.2 1074.1,254.0 1074.6,204.9 1075.1,232.5 1075.6,260.2 1076.1,262.6 1076.5,237.9 1077.0,227.3 1077.5,238.8 1078.0,194.7 1078.5,210.9 1079.0,200.0 1079.5,242.8 1079.9,245.8 1080.4,254.8 1080.9,262.9 1081.4,279.1 1081.9,269.0 1082.4,250.9 1082.9,213.7 1083.3,211.2 1083.8,199.6 1084.3,229.8 1084.8,228.9 1085.3,212.3 1085.8,208.9 1086.3,220.7 1086.7,236.6 1087.2,279.9 1087.7,221.6 1088.2,279.4 1088.7,217.7 1089.2,215.0 1089.7,262.3 1090.1,252.5 1090.6,265.4 1091.1,214.6 1091.6,220.6 1092.1,206.2 1092.6,214.6 1093.1,236.2 1093.5,232.8 1094.0,202.4 1094.5,231.6 1095.0,277.8 1095.5,274.6 1096.0,250.5 1096.5,228.4 1096.9,228.9 1097.4,254.0 1097.9,239.2 1098.4,237.7 1098.9,257.6 1099.4,214.3 1099.9,209.9 1100.3,243.7 1100.8,324.2 1101.3,224.1 1101.8,261.0 1102.3,204.8 1102.8,306.3 1103.3,283.7 1103.7,278.5 1104.2,253.0 1104.7,277.1 1105.2,258.8 1105.7,258.4 1106.2,289.9 1106.7,298.3 1107.1,214.6 1107.6,225.7 1108.1,274.8 1108.6,258.5 1109.1,296.6 1109.6,241.3 1110.1,251.3 1110.5,249.8 1111.0,234.3 1111.5,216.0 1112.0,233.7 1112.5,279.7 1113.0,218.6 1113.5,219.9 1114.0,205.7 1114.4,238.9 1114.9,205.0 1115.4,250.9 1115.9,260.4 1116.4,267.3 1116.9,256.7 1117.4,283.1 1117.8,231.1 1118.3,283.0 1118.8,259.8 1119.3,222.7 1119.8,209.1 1120.3,255.4 1120.8,258.0 1121.2,234.3 1121.7,257.6 1122.2,273.8 1122.7,248.7 1123.2,206.8 1123.7,273.0 1124.2,237.8 1124.6,240.9 1125.1,205.9 1125.6,238.1 1126.1,217.9 1126.6,204.9 1127.1,198.8 1127.6,276.6 1128.0,280.4 1128.5,198.1 1129.0,239.4 1129.5,198.4 1130.0,269.2 1130.5,244.8 1131.0,232.3 1131.4,266.2 1131.9,209.2 1132.4,266.7 1132.9,237.5 1133.4,274.1 1133.9,290.6 1134.4,252.4 1134.8,286.0 1135.3,251.5 1135.8,291.0 1136.3,211.0 1136.8,219.3 1137.3,251.9 1137.8,240.1 1138.2,245.8 1138.7,265.1 1139.2,206.2 1139.7,260.3 1140.2,216.5 1140.7,204.6 1141.2,249.7 1141.6,186.3 1142.1,256.6 1142.6,225.8 1143.1,292.9 1143.6,218.9 1144.1,215.9 1144.6,270.2 1145.0,188.9 1145.5,256.1 1146.0,221.7 1146.5,249.7 1147.0,275.7 1147.5,223.0 1148.0,248.7 1148.4,194.2 1148.9,295.4 1149.4,232.9 1149.9,211.4 1150.4,189.9 1150.9,285.0 1151.4,285.8 1151.8,256.8 1152.3,268.4 1152.8,275.4 1153.3,266.2 1153.8,191.5 1154.3,257.1 1154.8,229.7 1155.2,291.4 1155.7,263.0 1156.2,205.5 1156.7,209.8 1157.2,200.4 1157.7,227.0 1158.2,256.2 1158.6,265.5 1159.1,231.7 1159.6,282.1 1160.1,293.5 1160.6,272.6 1161.1,248.1 1161.6,289.5 1162.0,212.8 1162.5,271.1 1163.0,235.8 1163.5,235.6 1164.0,278.2 1164.5,218.1 1165.0,274.4 1165.4,215.6 1165.9,275.7 1166.4,240.0 1166.9,209.0 1167.4,192.2 1167.9,189.9 1168.4,304.3 1168.8,232.3 1169.3,252.5 1169.8,282.5 1170.3,293.0 1170.8,270.7 1171.3,226.0 1171.8,227.7 1172.2,198.1 1172.7,195.6 1173.2,246.6 1173.7,212.0 1174.2,206.5 1174.7,280.4 1175.2,190.1 1175.7,261.3 1176.1,229.8 1176.6,247.1 1177.1,252.1 1177.6,216.8 1178.1,279.9 1178.6,212.0 1179.1,212.2 1179.5,245.3 1180.0,194.2 1180.5,212.9 1181.0,271.8 1181.5,209.5 1182.0,234.6 1182.5,262.1 1182.9,237.2 1183.4,236.1 1183.9,203.9 1184.4,250.2 1184.9,230.4 1185.4,252.6 1185.9,228.8 1186.3,192.3 1186.8,201.1 1187.3,232.5 1187.8,212.2 1188.3,218.4 1188.8,219.5 1189.3,223.2 1189.7,209.7 1190.2,255.0 1190.7,195.5 1191.2,222.5 1191.7,277.3 1192.2,229.6 1192.7,207.6 1193.1,217.3 1193.6,204.5 1194.1,253.2 1194.6,236.6 1195.1,257.0 1195.6,194.4 1196.1,222.6 1196.5,264.4 1197.0,209.6 1197.5,286.4 1198.0,232.6 1198.5,278.5 1199.0,257.5 1199.5,191.3 1199.9,228.2 1200.4,240.5 1200.9,299.3 1201.4,248.0 1201.9,261.6 1202.4,198.7 1202.9,287.1 1203.3,281.0 1203.8,273.4 1204.3,207.2 1204.8,312.8 1205.3,236.0 1205.8,238.1 1206.3,309.9 1206.7,262.9 1207.2,254.5 1207.7,270.7 1208.2,274.6 1208.7,310.9 1209.2,212.8 1209.7,264.9 1210.1,255.4 1210.6,231.9 1211.1,288.4 1211.6,201.4 1212.1,276.4 1212.6,296.9 1213.1,260.1 1213.5,235.4 1214.0,206.6 1214.5,279.0 1215.0,283.0 1215.5,292.7 1216.0,209.5 1216.5,314.1 1216.9,271.8 1217.4,199.5 1217.9,216.9 1218.4,260.8 1218.9,197.4 1219.4,201.9 1219.9,202.0 1220.3,242.8 1220.8,290.4 1221.3,238.1 1221.8,282.4 1222.3,297.4 1222.8,243.5 1223.3,249.3 1223.7,226.1 1224.2,217.8 1224.7,303.1 1225.2,208.6 1225.7,246.5 1226.2,228.7 1226.7,248.5 1227.1,289.6 1227.6,261.8 1228.1,242.1 1228.6,239.9 1229.1,302.7 1229.6,267.5 1230.1,267.4 1230.6,273.4 1231.0,246.2 1231.5,300.1 1232.0,229.4 1232.5,218.3 1233.0,263.2 1233.5,231.2 1234.0,267.6 1234.4,299.5 1234.9,214.0 1235.4,236.9 1235.9,217.6 1236.4,246.8 1236.9,248.5 1237.4,226.7 1237.8,264.9 1238.3,271.2 1238.8,250.7 1239.3,217.0 1239.8,305.4 1240.3,196.9 1240.8,211.3 1241.2,263.9 1241.7,867.0 1242.2,904.2 1242.7,795.9 1243.2,793.5 1243.7,791.8 1244.2,792.7 1244.6,940.6 1245.1,803.0 1245.6,941.7 1246.1,857.7 1246.6,850.7 1247.1,837.6 1247.6,834.0 1248.0,893.4 1248.5,879.9 1249.0,900.2 1249.5,912.8 1250.0,930.2 1250.5,869.8 1251.0,900.3 1251.4,911.5 1251.9,856.2 1252.4,874.5 1252.9,931.7 1253.4,926.8 1253.9,927.3 1254.4,913.3 1254.8,934.6 1255.3,918.3 1255.8,908.0 1256.3,873.4 1256.8,877.6 1257.3,886.3 1257.8,917.4 1258.2,863.6 1258.7,937.9 1259.2,886.6 1259.7,887.8 1260.2,888.0 1260.7,849.0 1261.2,931.3 1261.6,935.2 1262.1,865.8 1262.6,885.5 1263.1,937.5 1263.6,926.4 1264.1,893.5 1264.6,905.0 1265.0,884.5 1265.5,915.9 1266.0,898.3 1266.5,943.2 1267.0,899.9 1267.5,879.6 1268.0,854.6 1268.4,892.2 1268.9,880.0 1269.4,858.4 1269.9,878.3 1270.4,899.4 1270.9,917.2 1271.4,878.5 1271.8,886.7 1272.3,848.8 1272.8,898.0 1273.3,871.9 1273.8,911.7 1274.3,913.2 1274.8,931.5 1275.2,838.9 1275.7,931.9 1276.2,890.3 1276.7,859.2 1277.2,847.7 1277.7,918.4 1278.2,876.1 1278.6,843.8 1279.1,919.1 1279.6,908.8 1280.1,883.7 1280.6,864.2 1281.1,923.5 1281.6,847.6 1282.0,827.9 1282.5,842.9 1283.0,872.6 1283.5,856.9 1284.0,862.5 1284.5,833.9 1285.0,863.2 1285.4,877.3 1285.9,843.8 1286.4,886.6 1286.9,912.3 1287.4,844.6 1287.9,873.5 1288.4,897.2 1288.8,923.4 1289.3,890.5 1289.8,820.1 1290.3,849.4 1290.8,822.9 1291.3,915.8 1291.8,901.4 1292.3,900.8 1292.7,849.8 1293.2,889.0 1293.7,877.8 1294.2,889.3 1294.7,867.5 1295.2,911.3 1295.7,893.0 1296.1,852.8 1296.6,886.7 1297.1,925.8 1297.6,877.7 1298.1,860.5 1298.6,848.4 1299.1,879.3 1299.5,884.0 1300.0,919.4 1300.5,897.9 1301.0,910.6 1301.5,849.4 1302.0,875.8 1302.5,908.6 1302.9,939.4 1303.4,917.0 1303.9,855.6 1304.4,898.1 1304.9,861.3 1305.4,881.4 1305.9,883.8 1306.3,867.9 1306.8,935.1 1307.3,933.7 1307.8,866.0 1308.3,910.0 1308.8,852.9 1309.3,901.7 1309.7,923.2 1310.2,902.6 1310.7,901.8 1311.2,869.5 1311.7,865.8 1312.2,923.8 1312.7,920.1 1313.1,891.4 1313.6,863.4 1314.1,879.3 1314.6,854.9 1315.1,915.0 1315.6,864.3 1316.1,856.9 1316.5,906.9 1317.0,865.9 1317.5,894.7 1318.0,934.9 1318.5,900.4 1319.0,929.0 1319.5,876.9 1319.9,866.2 1320.4,872.5 1320.9,914.3 1321.4,877.2 1321.9,925.0 1322.4,839.4 1322.9,874.2 1323.3,922.6 1323.8,917.9 1324.3,907.8 1324.8,896.9 1325.3,879.8 1325.8,892.1 1326.3,862.7 1326.7,914.0 1327.2,892.4 1327.7,930.5 1328.2,839.5 1328.7,845.0 1329.2,939.1 1329.7,850.6 1330.1,932.9 1330.6,854.0 1331.1,849.3 1331.6,941.1 1332.1,831.4 1332.6,937.3 1333.1,932.1 1333.5,915.0 1334.0,909.4 1334.5,878.2 1335.0,844.8 1335.5,926.9 1336.0,865.9 1336.5,902.4 1336.9,827.2 1337.4,870.5 1337.9,835.8 1338.4,859.1 1338.9,894.6 1339.4,895.6 1339.9,822.7 1340.3,857.5 1340.8,901.7 1341.3,933.1 1341.8,868.9 1342.3,820.8 1342.8,867.6 1343.3,884.5 1343.7,916.1 1344.2,891.2 1344.7,925.5 1345.2,812.8 1345.7,826.6 1346.2,858.0 1346.7,878.5 1347.2,812.0 1347.6,839.5 1348.1,832.1 1348.6,932.5 1349.1,822.5 1349.6,939.3 1350.1,924.0 1350.6,798.7 1351.0,899.6 1351.5,853.7 1352.0,922.2 1352.5,876.5 1353.0,945.5 1353.5,887.2 1354.0,876.1 1354.4,883.8 1354.9,930.4 1355.4,913.8 1355.9,900.6 1356.4,821.0 1356.9,909.3 1357.4,925.4 1357.8,934.4 1358.3,881.3 1358.8,887.3 1359.3,840.2 1359.8,909.9 1360.3,834.0 1360.8,859.2 1361.2,849.1 1361.7,850.5 1362.2,900.0 1362.7,826.3 1363.2,829.2 1363.7,845.2 1364.2,850.6 1364.6,908.0 1365.1,859.7 1365.6,911.5 1366.1,857.8 1366.6,871.8 1367.1,848.7 1367.6,854.3 1368.0,888.4 1368.5,854.8 1369.0,839.9 1369.5,830.3 1370.0,855.8 1370.5,850.3 1371.0,864.9 1371.4,927.7 1371.9,879.3 1372.4,904.1 1372.9,835.8 1373.4,924.5 1373.9,878.2 1374.4,889.5 1374.8,884.3 1375.3,878.1 1375.8,862.7 1376.3,892.2 1376.8,888.0 1377.3,861.3 1377.8,915.7 1378.2,847.5 1378.7,895.8 1379.2,875.2 1379.7,928.4 1380.2,875.0 1380.7,876.9 1381.2,889.2 1381.6,922.2 1382.1,850.3 1382.6,870.5 1383.1,887.0 1383.6,859.7 1384.1,864.6 1384.6,885.5 1385.0,927.6 1385.5,875.4 1386.0,887.5 1386.5,865.3 1387.0,895.0 1387.5,853.4 1388.0,913.4 1388.4,847.3 1388.9,931.8 1389.4,880.0 1389.9,921.1 1390.4,895.6 1390.9,928.8 1391.4,908.9 1391.8,874.2 1392.3,924.3 1392.8,931.9 1393.3,888.6 1393.8,881.3 1394.3,865.5 1394.8,895.3 1395.2,899.3 1395.7,884.4 1396.2,885.5 1396.7,919.9 1397.2,915.3 1397.7,903.2 1398.2,849.8 1398.6,864.7 1399.1,915.7 1399.6,906.3 1400.1,861.4 1400.6,870.9 1401.1,850.7 1401.6,865.3 1402.0,910.0 1402.5,866.3 1403.0,906.6 1403.5,845.1 1404.0,864.8 1404.5,916.9 1405.0,914.8 1405.4,857.7 1405.9,867.2 1406.4,876.0 1406.9,895.0 1407.4,874.7 1407.9,884.1 1408.4,876.5 1408.9,867.3 1409.3,885.9 1409.8,900.4 1410.3,919.2 1410.8,922.9 1411.3,892.3 1411.8,913.9 1412.3,846.4 1412.7,869.8 1413.2,915.1 1413.7,910.2 1414.2,901.7 1414.7,921.2 1415.2,924.0 1415.7,887.6 1416.1,862.9 1416.6,887.5 1417.1,865.1 1417.6,927.0 1418.1,913.6 1418.6,918.7 1419.1,891.3 1419.5,929.6 1420.0,905.3 1420.5,901.2 1421.0,856.5 1421.5,886.9 1422.0,856.9 1422.5,912.9 1422.9,898.7 1423.4,902.8 1423.9,924.0 1424.4,898.6 1424.9,906.4 1425.4,944.6 1425.9,910.9 1426.3,921.3 1426.8,941.5 1427.3,925.7 1427.8,922.0 1428.3,909.0 1428.8,858.0 1429.3,890.1 1429.7,905.7 1430.2,861.1 1430.7,937.8 1431.2,854.9 1431.7,894.8 1432.2,844.4 1432.7,931.6 1433.1,943.4 1433.6,878.8 1434.1,847.8 1434.6,849.7 1435.1,863.2 1435.6,905.7 1436.1,858.6 1436.5,906.7 1437.0,917.7 1437.5,839.9 1438.0,876.8 1438.5,840.2 1439.0,916.7 1439.5,873.2 1439.9,929.6 1440.4,920.1 1440.9,922.1 1441.4,885.5 1441.9,919.4 1442.4,898.2 1442.9,868.5 1443.3,865.8 1443.8,923.5 1444.3,907.4 1444.8,876.2 1445.3,899.6 1445.8,867.0 1446.3,919.2 1446.7,897.1 1447.2,904.3 1447.7,937.0 1448.2,894.1 1448.7,862.8 1449.2,838.6 1449.7,911.9 1450.1,921.5 1450.6,848.3 1451.1,860.2 1451.6,847.2 1452.1,895.9 1452.6,901.6 1453.1,850.4 1453.5,860.9 1454.0,882.5 1454.5,916.6 1455.0,874.0 1455.5,928.3 1456.0,891.3 1456.5,899.3 1456.9,889.3 1457.4,848.8 1457.9,916.9 1458.4,923.1 1458.9,860.9 1459.4,858.2 1459.9,870.9 1460.3,889.2 1460.8,872.1 1461.3,924.3 1461.8,854.5 1462.3,883.3 1462.8,915.3 1463.3,914.5 1463.8,920.6 1464.2,955.8 1464.7,884.4 1465.2,933.8 1465.7,888.5 1466.2,888.3 1466.7,915.2 1467.2,873.8 1467.6,871.3 1468.1,840.8 1468.6,884.9 1469.1,897.5 1469.6,880.3 1470.1,916.3 1470.6,878.9 1471.0,882.7 1471.5,841.3 1472.0,854.6 1472.5,858.7 1473.0,866.1 1473.5,879.8 1474.0,878.5 1474.4,903.7 1474.9,911.6 1475.4,836.6 1475.9,881.6 1476.4,874.6 1476.9,917.6 1477.4,904.6 1477.8,916.9 1478.3,843.2 1478.8,835.1 1479.3,853.2 1479.8,896.1 1480.3,891.3 1480.8,864.8 1481.2,917.3 1481.7,859.4 1482.2,857.4 1482.7,850.7 1483.2,860.3 1483.7,882.0 1484.2,843.4 1484.6,853.1 1485.1,852.9 1485.6,881.2 1486.1,862.5 1486.6,858.4 1487.1,916.7 1487.6,905.3 1488.0,885.5 1488.5,844.3 1489.0,889.6 1489.5,855.3 1490.0,891.5 1490.5,893.9 1491.0,842.0 1491.4,892.5 1491.9,891.3 1492.4,847.3 1492.9,845.1 1493.4,873.5 1493.9,843.6 1494.4,823.4 1494.8,846.6 1495.3,842.1 1495.8,854.7 1496.3,901.7 1496.8,922.3 1497.3,873.1 1497.8,910.4 1498.2,850.7 1498.7,888.6 1499.2,920.0 1499.7,890.5 1500.2,917.6 1500.7,858.5 1501.2,894.6 1501.6,878.8 1502.1,910.3 1502.6,864.9 1503.1,902.4 1503.6,867.0 1504.1,919.0 1504.6,948.0 1505.0,872.7 1505.5,877.5 1506.0,892.0 1506.5,891.6 1507.0,876.3 1507.5,911.3 1508.0,880.9 1508.4,872.8 1508.9,902.0 1509.4,945.3 1509.9,894.5 1510.4,859.2 1510.9,898.2 1511.4,924.0 1511.8,938.4 1512.3,912.2 1512.8,910.8 1513.3,845.0 1513.8,889.9 1514.3,882.1 1514.8,892.7 1515.2,889.5 1515.7,939.5 1516.2,883.0 1516.7,922.4 1517.2,931.0 1517.7,902.9 1518.2,917.2 1518.6,916.3 1519.1,844.1 1519.6,926.6 1520.1,888.3 1520.6,941.5 1521.1,870.1 1521.6,877.6 1522.1,887.0 1522.5,886.0 1523.0,944.0 1523.5,846.6 1524.0,891.4 1524.5,855.4 1525.0,910.9 1525.5,935.9 1525.9,940.7 1526.4,930.3 1526.9,954.4 1527.4,925.7 1527.9,901.0 1528.4,955.4 1528.9,897.6 1529.3,848.4 1529.8,901.5 1530.3,897.3 1530.8,912.3 1531.3,844.2 1531.8,920.2 1532.3,894.0 1532.7,890.9 1533.2,859.1 1533.7,874.7 1534.2,907.2 1534.7,877.2 1535.2,894.3 1535.7,920.9 1536.1,928.1 1536.6,906.0 1537.1,867.1 1537.6,913.0 1538.1,859.5 1538.6,919.8 1539.1,882.3 1539.5,900.0 1540.0,870.9 1540.5,928.8 1541.0,868.3 1541.5,856.1 1542.0,881.6 1542.5,857.4 1542.9,901.5 1543.4,938.4 1543.9,928.4 1544.4,911.7 1544.9,864.9 1545.4,914.9 1545.9,880.8 1546.3,869.5 1546.8,911.3 1547.3,883.9 1547.8,880.3 1548.3,921.5 1548.8,908.5 1549.3,922.3 1549.7,877.7 1550.2,935.7 1550.7,950.8 1551.2,919.1 1551.7,869.9 1552.2,873.1 1552.7,854.3 1553.1,868.2 1553.6,888.8 1554.1,907.6 1554.6,902.7 1555.1,933.5 1555.6,870.7 1556.1,897.2 1556.5,853.3 1557.0,922.1 1557.5,915.5 1558.0,874.6 1558.5,911.4 1559.0,886.3 1559.5,846.9 1559.9,897.3 1560.4,900.1 1560.9,924.0 1561.4,898.9 1561.9,857.8 1562.4,932.0 1562.9,884.3 1563.3,894.5 1563.8,930.5 1564.3,890.2 1564.8,879.1 1565.3,901.5 1565.8,911.9 1566.3,901.8 1566.7,897.1 1567.2,851.0 1567.7,918.1 1568.2,905.3 1568.7,859.1 1569.2,915.2 1569.7,868.1 1570.1,855.3 1570.6,926.1 1571.1,869.9 1571.6,903.1 1572.1,907.4 1572.6,928.8 1573.1,871.7 1573.5,840.7 1574.0,888.3 1574.5,858.9 1575.0,950.0 1575.5,883.5 1576.0,942.6 1576.5,948.3 1576.9,913.0 1577.4,943.6 1577.9,842.0 1578.4,858.9 1578.9,849.4 1579.4,914.6 1579.9,925.6 1580.3,867.1 1580.8,857.6 1581.3,895.1 1581.8,886.1 1582.3,855.1 1582.8,896.9 1583.3,946.7 1583.8,929.7 1584.2,857.4 1584.7,854.2 1585.2,952.9 1585.7,856.9 1586.2,837.0 1586.7,900.3 1587.2,851.9 1587.6,905.3 1588.1,907.4 1588.6,930.7 1589.1,901.8 1589.6,888.2 1590.1,936.8 1590.6,860.4 1591.0,936.8 1591.5,886.6 1592.0,910.1 1592.5,897.5 1593.0,849.2 1593.5,873.2 1594.0,916.9 1594.4,926.3 1594.9,875.7 1595.4,908.8 1595.9,917.6 1596.4,912.2 1596.9,862.9 1597.4,940.6 1597.8,910.8 1598.3,857.3 1598.8,855.7 1599.3,881.4 1599.8,901.3 1600.3,939.4 1600.8,918.7 1601.2,916.8 1601.7,905.2 1602.2,890.1 1602.7,911.8 1603.2,941.4 1603.7,845.1 1604.2,908.7 1604.6,879.6 1605.1,864.7 1605.6,892.6 1606.1,894.8 1606.6,851.3 1607.1,922.4 1607.6,921.6 1608.0,865.7 1608.5,877.6 1609.0,866.8 1609.5,913.2 1610.0,915.9 1610.5,881.1 1611.0,926.6 1611.4,896.9 1611.9,853.8 1612.4,878.3 1612.9,880.2 1613.4,852.4 1613.9,853.3 1614.4,869.4 1614.8,876.2 1615.3,851.5 1615.8,918.1 1616.3,876.3 1616.8,904.0 1617.3,903.9 1617.8,884.1 1618.2,910.7 1618.7,915.5 1619.2,884.6 1619.7,913.6 1620.2,890.5 1620.7,927.6 1621.2,900.0 1621.6,887.7 1622.1,853.8 1622.6,922.4 1623.1,881.7 1623.6,908.2 1624.1,911.5 1624.6,913.0 1625.0,889.4 1625.5,920.2 1626.0,931.7 1626.5,911.6 1627.0,869.7 1627.5,866.4 1628.0,910.3 1628.4,879.5 1628.9,872.4 1629.4,944.7 1629.9,953.0 1630.4,874.6 1630.9,876.7 1631.4,900.9 1631.8,945.7 1632.3,945.5 1632.8,859.3 1633.3,837.9 1633.8,902.8 1634.3,933.9 1634.8,858.4 1635.2,940.3 1635.7,880.4 1636.2,848.7 1636.7,845.6 1637.2,874.0 1637.7,944.6 1638.2,938.0 1638.7,920.9 1639.1,857.8 1639.6,888.7 1640.1,894.1 1640.6,901.2 1641.1,859.0 1641.6,834.8 1642.1,880.3 1642.5,837.3 1643.0,913.9 1643.5,934.3 1644.0,857.5 1644.5,923.0 1645.0,866.9 1645.5,873.9 1645.9,913.0 1646.4,869.4 1646.9,902.9 1647.4,909.9 1647.9,821.9 1648.4,803.8 1648.9,922.2 1649.3,938.2 1649.8,909.0 1650.3,881.4 1650.8,936.4 1651.3,845.8 1651.8,923.5 1652.3,913.9 1652.7,826.7 1653.2,894.4 1653.7,889.8 1654.2,905.5 1654.7,870.2 1655.2,915.9 1655.7,859.0 1656.1,903.8 1656.6,857.5 1657.1,823.0 1657.6,923.7 1658.1,884.4 1658.6,962.4 1659.1,897.9 1659.5,884.6 1660.0,914.0 1660.5,862.2 1661.0,875.2 1661.5,887.5 1662.0,886.1 1662.5,919.6 1662.9,899.7 1663.4,898.6 1663.9,888.6 1664.4,865.3 1664.9,852.6 1665.4,867.1 1665.9,874.3 1666.3,911.3 1666.8,864.4 1667.3,933.7 1667.8,930.4 1668.3,860.4 1668.8,933.1 1669.3,896.0 1669.7,861.8 1670.2,899.7 1670.7,857.8 1671.2,934.6 1671.7,922.4 1672.2,891.9 1672.7,867.8 1673.1,864.1 1673.6,847.8 1674.1,824.0 1674.6,836.0 1675.1,908.1 1675.6,910.2 1676.1,905.7 1676.5,881.4 1677.0,879.7 1677.5,897.1 1678.0,921.3 1678.5,922.6 1679.0,926.9 1679.5,850.8 1679.9,901.0 1680.4,856.5 1680.9,933.6 1681.4,922.1 1681.9,849.9 1682.4,916.1 1682.9,870.3 1683.3,887.6 1683.8,880.5 1684.3,905.3 1684.8,929.9 1685.3,903.1 1685.8,887.9 1686.3,854.7 1686.7,882.5 1687.2,888.3 1687.7,848.5 1688.2,849.8 1688.7,873.7 1689.2,868.2 1689.7,925.2 1690.1,907.1 1690.6,871.5 1691.1,881.8 1691.6,900.9 1692.1,920.8 1692.6,947.2 1693.1,951.7 1693.5,913.1 1694.0,947.5 1694.5,894.3 1695.0,882.7 1695.5,893.6 1696.0,868.4 1696.5,868.4 1696.9,927.9 1697.4,925.4 1697.9,900.0 1698.4,864.2 1698.9,934.7 1699.4,873.8 1699.9,936.4 1700.4,935.6 1700.8,878.9 1701.3,871.4 1701.8,866.5 1702.3,887.0 1702.8,912.2 1703.3,924.0 1703.8,874.2 1704.2,862.7 1704.7,931.4 1705.2,891.8 1705.7,844.2 1706.2,896.6 1706.7,933.5 1707.2,903.5 1707.6,935.4 1708.1,838.6 1708.6,896.2 1709.1,910.7 1709.6,875.5 1710.1,869.0 1710.6,843.4 1711.0,892.7 1711.5,927.6 1712.0,929.8 1712.5,848.5 1713.0,911.9 1713.5,867.6 1714.0,901.6 1714.4,913.9 1714.9,893.0 1715.4,929.1 1715.9,913.5 1716.4,930.9 1716.9,923.3 1717.4,878.3 1717.8,890.3 1718.3,930.0 1718.8,888.9 1719.3,924.9 1719.8,919.2 1720.3,870.0 1720.8,894.1 1721.2,870.0 1721.7,884.4 1722.2,855.0 1722.7,926.3 1723.2,898.0 1723.7,867.0 1724.2,880.3 1724.6,934.8 1725.1,901.3 1725.6,877.1 1726.1,874.6"/>
<path fill="#0072BD" stroke="none" shape-rendering="crispEdges" d="M269.0 123.9H274.0V158.3H269.0ZM355.8 129.9H365.8V151.3H355.8ZM367.2 119.9H376.7V156.3H367.2ZM376.7 128.9H381.7V160.3H376.7ZM397.7 125.5H403.7V147.4H397.7ZM403.3 109.9H413.1V162.3H403.3ZM340.8 156.8H343.8V170.3H340.8ZM437.2 165.4H441.6V182.3H437.2ZM452.6 128.9H461.2V150.4H452.6ZM452.6 158.8H457.6V165.3H452.6ZM485.5 164.8H490.5V192.3H485.5ZM504.5 157.8H506.5V174.3H504.5ZM516.0 160.8H520.8V175.3H516.0ZM577.3 138.9H586.9V162.3H577.3ZM586.9 162.8H599.3V170.3H586.9ZM288.9 253.1H296.9V289.5H288.9ZM295.5 290.6H304.9V317.5H295.5ZM304.9 287.0H310.9V302.5H304.9ZM316.5 293.6H325.9V314.5H316.5ZM325.9 279.1H329.8V286.5H325.9ZM353.8 279.1H359.8V288.5H353.8ZM375.7 282.0H383.7V287.5H375.7ZM394.7 272.1H403.7V286.5H394.7ZM412.1 283.0H421.6V311.5H412.1ZM443.2 274.1H453.6V287.5H443.2ZM467.5 277.1H476.5V305.5H467.5ZM500.5 273.1H512.4V302.5H500.5ZM540.4 305.0H548.4V324.5H540.4ZM547.4 313.0H556.7V337.4H547.4ZM568.3 279.1H578.3V308.5H568.3ZM581.3 280.1H591.3V289.5H581.3ZM591.3 283.0H601.2V297.5H591.3ZM602.2 285.0H611.2V292.5H602.2ZM617.0 141.9H620.0V150.4H617.0ZM631.9 152.8H642.9V164.3H631.9ZM643.5 112.9H652.9V154.3H643.5ZM655.5 128.9H664.9V146.4H655.5ZM669.8 160.8H673.4V178.3H669.8ZM698.2 132.9H707.8V171.3H698.2ZM707.8 149.8H710.8V180.3H707.8ZM727.3 133.9H737.7V156.3H727.3ZM734.7 126.3H745.7V142.4H734.7ZM751.3 162.2H757.7V183.3H751.3ZM787.2 147.9H797.2V166.3H787.2ZM801.2 143.9H810.9V159.3H801.2ZM840.5 190.8H842.5V202.2H840.5ZM863.4 182.2H867.0V195.3H863.4ZM925.3 147.9H929.3V186.3H925.3ZM937.3 157.8H941.6V202.2H937.3ZM600.0 281.1H611.0V292.5H600.0ZM664.9 277.1H677.4V296.5H664.9ZM716.7 269.1H720.7V284.5H716.7ZM724.1 275.1H733.3V292.5H724.1ZM735.7 264.1H743.7V273.6H735.7ZM745.7 287.0H751.7V294.5H745.7ZM758.7 326.0H761.2V333.4H758.7ZM771.2 298.0H776.0V306.5H771.2ZM777.6 265.1H786.6V301.5H777.6ZM790.6 287.0H796.6V297.5H790.6ZM799.6 301.0H811.5V328.5H799.6ZM824.5 263.1H833.5V341.4H824.5ZM833.5 281.1H846.5V330.4H833.5ZM850.4 307.0H859.4V340.4H850.4ZM864.4 297.0H869.4V308.5H864.4ZM879.4 313.0H888.4V327.5H879.4ZM897.3 316.0H906.7V341.4H897.3ZM923.3 320.0H932.3V333.4H923.3ZM940.0 157.8H942.0V176.3H940.0ZM959.0 151.8H963.9V160.3H959.0ZM960.0 186.8H965.9V210.2H960.0ZM968.9 156.8H978.9V170.3H968.9ZM985.9 156.2H992.3V172.3H985.9ZM1011.8 156.2H1021.8V184.3H1011.8ZM1050.8 187.8H1053.7V200.2H1050.8ZM1090.7 177.2H1098.7V202.2H1090.7ZM1105.2 170.2H1115.2V187.3H1105.2ZM1115.2 180.8H1120.6V187.3H1115.2ZM1147.9 146.9H1157.5V171.3H1147.9ZM1156.1 109.9H1165.9V127.9H1156.1ZM1181.5 164.8H1189.5V177.3H1181.5ZM1185.1 145.3H1194.8V164.3H1185.1ZM1218.4 172.2H1229.4V182.3H1218.4ZM1224.0 138.9H1234.0V154.8H1224.0ZM1228.4 177.8H1234.4V190.3H1228.4ZM1234.4 182.2H1243.9V207.2H1234.4ZM1242.9 216.7H1244.9V236.2H1242.9ZM947.0 281.1H954.0V309.5H947.0ZM956.0 305.0H965.9V327.5H956.0ZM977.9 315.0H987.9V338.4H977.9ZM1022.8 306.0H1032.8V348.4H1022.8ZM1036.8 287.0H1039.8V305.5H1036.8ZM1044.2 311.0H1053.7V334.4H1044.2ZM1066.7 287.0H1075.7V313.5H1066.7ZM1084.7 304.0H1094.7V330.4H1084.7ZM1106.6 318.0H1111.6V330.4H1106.6ZM1120.6 300.0H1129.6V336.4H1120.6ZM1129.6 306.0H1139.6V333.4H1129.6ZM1147.5 299.0H1156.5V317.5H1147.5ZM1172.5 319.0H1182.1V346.4H1172.5ZM1186.5 301.0H1194.4V318.5H1186.5ZM1251.9 817.9H1259.9V827.4H1251.9ZM1273.9 807.9H1279.9V825.4H1273.9ZM1282.9 799.9H1285.9V810.4H1282.9ZM1296.8 805.9H1299.8V818.4H1296.8ZM1302.4 797.9H1311.8V816.4H1302.4ZM1299.8 815.9H1309.8V827.4H1299.8ZM1313.8 828.9H1316.8V835.4H1313.8ZM1363.7 793.9H1372.7V815.4H1363.7ZM1429.5 812.9H1436.5V825.4H1429.5ZM1454.5 818.9H1467.5V827.4H1454.5ZM1498.4 814.9H1502.4V833.4H1498.4ZM1503.4 830.9H1506.4V851.3H1503.4ZM1521.3 805.9H1531.3V827.4H1521.3ZM1533.3 811.3H1541.7V833.4H1533.3ZM1541.7 815.9H1545.7V837.3H1541.7ZM1553.3 821.9H1558.3V831.4H1553.3ZM1244.0 910.2H1248.9V942.6H1244.0ZM1281.3 940.1H1290.9V969.9H1281.3ZM1292.9 928.1H1297.8V934.6H1292.9ZM1316.8 941.1H1320.8V957.6H1316.8ZM1343.1 962.1H1352.7V978.5H1343.1ZM1371.7 945.1H1379.7V983.5H1371.7ZM1378.3 957.1H1387.6V996.9H1378.3ZM1389.6 946.1H1395.6V960.6H1389.6ZM1400.2 936.1H1412.6V979.5H1400.2ZM1440.5 954.1H1449.5V966.6H1440.5ZM1469.5 931.1H1479.4V980.5H1469.5ZM1491.4 955.1H1501.4V974.5H1491.4ZM1490.4 931.1H1494.4V942.6H1490.4ZM1533.3 948.1H1536.3V953.6H1533.3ZM1580.6 812.9H1583.6V841.3H1580.6ZM1642.4 779.0H1652.4V803.4H1642.4ZM1664.4 832.9H1668.4V853.3H1664.4ZM1678.4 838.8H1684.3V861.3H1678.4ZM1681.3 804.9H1690.9V827.4H1681.3ZM1693.9 840.4H1698.3V849.3H1693.9ZM1713.3 778.0H1722.9V825.4H1713.3ZM1553.6 821.9H1558.6V831.4H1553.6ZM1581.6 954.1H1593.5V976.5H1581.6ZM1584.2 982.5H1594.1V1005.5H1584.2ZM1613.5 942.1H1618.5V962.6H1613.5ZM1620.5 958.1H1624.5V970.5H1620.5ZM1629.5 976.5H1638.8V991.5H1629.5ZM1651.4 940.1H1654.4V954.6H1651.4ZM1665.4 950.1H1671.4V962.6H1665.4ZM1676.4 952.1H1684.3V969.5H1676.4ZM1685.3 974.0H1688.3V990.5H1685.3ZM1699.3 926.1H1702.3V944.6H1699.3ZM1702.3 951.1H1712.3V967.6H1702.3ZM1564.2 925.1H1567.0V948.6H1564.2ZM264.0 300.0H266.8V415.0H264.0Z"/>
<polyline stroke="#D95319" stroke-linejoin="round" points="269.1,430.1 269.6,411.1 270.1,376.1 270.5,334.0 271.0,298.9 271.5,270.9 272.0,260.4 272.5,391.5 273.0,313.0 273.5,256.9 273.9,200.8 274.4,284.9 274.9,162.2 275.4,263.9 275.9,158.7 276.4,242.8 276.9,165.7 277.3,270.9 277.8,158.7 278.3,256.9 278.8,162.2 279.3,277.9 279.8,113.8 280.3,119.8 280.7,303.2 281.2,125.3 281.7,232.7 282.2,127.2 282.7,124.8 283.2,129.0 283.7,315.5 284.1,304.8 284.6,125.6 285.1,126.1 285.6,148.4 286.1,122.7 286.6,130.1 287.1,249.2 287.5,124.7 288.0,120.9 288.5,169.0 289.0,251.1 289.5,257.9 290.0,123.2 290.5,135.3 290.9,256.1 291.4,249.2 291.9,254.9 292.4,121.6 292.9,260.6 293.4,257.9 293.9,258.5 294.3,124.8 294.8,142.1 295.3,130.6 295.8,127.0 296.3,110.9 296.8,250.3 297.3,270.6 297.8,276.6 298.2,274.2 298.7,145.7 299.2,144.6 299.7,147.2 300.2,160.4 300.7,149.6 301.2,263.0 301.6,267.4 302.1,235.4 302.6,149.1 303.1,278.6 303.6,274.3 304.1,276.3 304.6,265.3 305.0,146.0 305.5,143.9 306.0,273.2 306.5,149.5 307.0,158.5 307.5,147.0 308.0,274.3 308.4,276.6 308.9,154.4 309.4,151.9 309.9,284.1 310.4,148.8 310.9,285.5 311.4,250.1 311.8,145.6 312.3,147.1 312.8,239.0 313.3,275.9 313.8,277.0 314.3,278.1 314.8,278.0 315.2,276.1 315.7,141.9 316.2,142.5 316.7,154.8 317.2,278.6 317.7,272.0 318.2,149.3 318.6,280.1 319.1,281.4 319.6,279.6 320.1,282.5 320.6,276.5 321.1,149.7 321.6,264.8 322.0,272.6 322.5,273.0 323.0,140.1 323.5,243.6 324.0,138.9 324.5,265.7 325.0,149.2 325.4,144.0 325.9,145.6 326.4,144.8 326.9,273.2 327.4,147.6 327.9,276.6 328.4,265.8 328.8,269.5 329.3,146.6 329.8,269.8 330.3,269.1 330.8,203.1 331.3,149.1 331.8,270.8 332.2,272.0 332.7,146.3 333.2,153.9 333.7,147.2 334.2,268.2 334.7,143.3 335.2,298.2 335.6,303.5 336.1,171.2 336.6,301.8 337.1,172.5 337.6,177.2 338.1,301.0 338.6,293.6 339.0,292.8 339.5,301.0 340.0,172.6 340.5,298.5 341.0,179.8 341.5,299.5 342.0,170.9 342.4,170.4 342.9,300.3 343.4,225.1 343.9,300.9 344.4,181.3 344.9,172.4 345.4,180.2 345.8,168.8 346.3,174.5 346.8,302.7 347.3,175.1 347.8,306.1 348.3,287.8 348.8,209.6 349.2,277.1 349.7,170.4 350.2,276.8 350.7,271.9 351.2,171.3 351.7,172.4 352.2,274.9 352.6,281.5 353.1,172.5 353.6,184.9 354.1,278.8 354.6,175.2 355.1,157.8 355.6,154.8 356.1,171.6 356.5,182.9 357.0,178.0 357.5,165.6 358.0,166.1 358.5,174.0 359.0,198.5 359.5,168.1 359.9,282.5 360.4,169.8 360.9,278.8 361.4,175.4 361.9,276.3 362.4,255.8 362.9,281.3 363.3,246.1 363.8,164.8 364.3,174.6 364.8,279.4 365.3,279.5 365.8,210.8 366.3,167.5 366.7,167.6 367.2,168.5 367.7,277.3 368.2,183.8 368.7,289.7 369.2,290.5 369.7,282.1 370.1,166.1 370.6,167.0 371.1,279.3 371.6,165.6 372.1,166.4 372.6,272.8 373.1,165.9 373.5,201.7 374.0,233.4 374.5,184.8 375.0,253.2 375.5,272.6 376.0,163.8 376.5,271.3 376.9,169.7 377.4,277.5 377.9,170.4 378.4,267.5 378.9,183.4 379.4,166.2 379.9,280.5 380.3,165.5 380.8,204.6 381.3,269.2 381.8,271.0 382.3,165.5 382.8,168.3 383.3,168.4 383.7,168.4 384.2,169.5 384.7,166.6 385.2,168.7 385.7,234.2 386.2,268.2 386.7,166.7 387.1,127.3 387.6,125.9 388.1,134.2 388.6,129.1 389.1,260.1 389.6,275.6 390.1,172.5 390.5,120.5 391.0,122.9 391.5,261.6 392.0,267.1 392.5,264.9 393.0,264.7 393.5,263.3 393.9,159.1 394.4,268.8 394.9,165.3 395.4,264.7 395.9,168.9 396.4,161.7 396.9,234.0 397.3,166.9 397.8,157.8 398.3,262.9 398.8,165.5 399.3,170.3 399.8,269.6 400.3,167.2 400.7,201.7 401.2,170.9 401.7,190.5 402.2,170.6 402.7,263.9 403.2,267.9 403.7,222.6 404.1,172.2 404.6,168.5 405.1,265.9 405.6,164.8 406.1,260.8 406.6,231.1 407.1,262.1 407.5,170.1 408.0,263.8 408.5,260.3 409.0,172.5 409.5,279.5 410.0,170.9 410.5,171.9 410.9,168.7 411.4,274.6 411.9,169.8 412.4,175.5 412.9,174.7 413.4,175.4 413.9,276.7 414.4,168.8 414.8,166.0 415.3,168.9 415.8,238.6 416.3,140.3 416.8,137.3 417.3,144.5 417.8,154.8 418.2,269.7 418.7,299.5 419.2,163.8 419.7,302.5 420.2,297.7 420.7,300.8 421.2,300.6 421.6,290.0 422.1,155.3 422.6,163.2 423.1,301.7 423.6,158.3 424.1,157.8 424.6,268.8 425.0,193.3 425.5,153.8 426.0,285.4 426.5,299.7 427.0,169.6 427.5,293.2 428.0,284.1 428.4,163.2 428.9,209.7 429.4,282.6 429.9,155.8 430.4,314.5 430.9,216.5 431.4,324.5 431.8,127.9 432.3,134.1 432.8,133.7 433.3,258.4 433.8,205.8 434.3,188.7 434.8,187.9 435.2,253.8 435.7,189.5 436.2,253.9 436.7,188.6 437.2,257.5 437.7,230.8 438.2,259.5 438.6,242.0 439.1,256.8 439.6,184.8 440.1,186.9 440.6,260.6 441.1,189.4 441.6,256.7 442.0,186.6 442.5,257.2 443.0,257.8 443.5,257.4 444.0,240.6 444.5,254.6 445.0,259.4 445.4,187.0 445.9,188.9 446.4,255.6 446.9,252.9 447.4,122.3 447.9,125.3 448.4,272.6 448.8,167.8 449.3,271.1 449.8,264.5 450.3,172.2 450.8,170.5 451.3,268.1 451.8,170.9 452.2,269.6 452.7,168.1 453.2,169.1 453.7,270.9 454.2,263.7 454.7,170.3 455.2,270.8 455.6,166.8 456.1,168.4 456.6,172.0 457.1,266.2 457.6,269.4 458.1,171.6 458.6,290.5 459.0,174.7 459.5,272.0 460.0,171.1 460.5,181.2 461.0,174.4 461.5,173.9 462.0,271.8 462.4,273.7 462.9,171.9 463.4,174.1 463.9,277.8 464.4,179.4 464.9,274.7 465.4,276.3 465.8,278.1 466.3,143.3 466.8,146.2 467.3,275.2 467.8,157.4 468.3,279.2 468.8,253.5 469.2,154.6 469.7,280.5 470.2,152.7 470.7,276.8 471.2,276.7 471.7,150.9 472.2,272.9 472.7,274.2 473.1,162.4 473.6,264.6 474.1,165.6 474.6,279.6 475.1,273.8 475.6,240.7 476.1,250.2 476.5,273.3 477.0,169.6 477.5,269.7 478.0,159.6 478.5,165.8 479.0,165.9 479.5,168.1 479.9,158.8 480.4,159.7 480.9,165.6 481.4,231.7 481.9,312.4 482.4,314.5 482.9,196.9 483.3,199.0 483.8,197.9 484.3,204.0 484.8,202.4 485.3,202.1 485.8,283.4 486.3,309.5 486.7,304.7 487.2,207.4 487.7,311.3 488.2,207.8 488.7,194.8 489.2,307.9 489.7,298.8 490.1,198.0 490.6,305.0 491.1,312.3 491.6,199.8 492.1,305.2 492.6,307.7 493.1,310.6 493.5,198.5 494.0,300.3 494.5,313.5 495.0,203.8 495.5,248.5 496.0,168.4 496.5,198.8 496.9,248.9 497.4,175.7 497.9,230.6 498.4,251.6 498.9,246.6 499.4,248.8 499.9,249.3 500.3,250.6 500.8,249.2 501.3,252.6 501.8,180.3 502.3,174.8 502.8,177.4 503.3,246.9 503.7,249.2 504.2,224.7 504.7,246.4 505.2,248.5 505.7,244.9 506.2,175.9 506.7,247.8 507.1,208.9 507.6,178.7 508.1,178.0 508.6,281.5 509.1,180.6 509.6,205.0 510.1,256.1 510.5,141.9 511.0,111.5 511.5,270.7 512.0,268.0 512.5,178.8 513.0,261.5 513.5,271.4 513.9,195.1 514.4,181.0 514.9,180.2 515.4,187.0 515.9,189.0 516.4,178.7 516.9,184.2 517.3,259.2 517.8,268.0 518.3,177.8 518.8,189.4 519.3,272.6 519.8,185.0 520.3,183.2 520.7,264.6 521.2,185.4 521.7,229.6 522.2,264.7 522.7,267.4 523.2,263.5 523.7,178.5 524.1,269.9 524.6,267.3 525.1,179.4 525.6,180.2 526.1,187.9 526.6,179.6 527.1,181.0 527.5,179.3 528.0,180.4 528.5,270.6 529.0,267.3 529.5,113.3 530.0,264.0 530.5,133.9 531.0,138.8 531.4,134.4 531.9,268.0 532.4,225.1 532.9,265.0 533.4,256.6 533.9,169.0 534.4,268.5 534.8,141.2 535.3,133.1 535.8,237.7 536.3,294.5 536.8,283.6 537.3,134.2 537.8,134.7 538.2,286.2 538.7,139.8 539.2,137.2 539.7,284.6 540.2,288.4 540.7,151.7 541.2,292.9 541.6,199.8 542.1,142.5 542.6,131.3 543.1,242.4 543.6,302.5 544.1,140.6 544.6,158.1 545.0,298.9 545.5,295.9 546.0,252.8 546.5,296.4 547.0,294.8 547.5,136.3 548.0,172.8 548.4,132.9 548.9,300.0 549.4,297.3 549.9,299.5 550.4,297.8 550.9,295.8 551.4,301.7 551.8,130.5 552.3,311.5 552.8,297.3 553.3,131.4 553.8,156.9 554.3,164.0 554.8,250.1 555.2,156.8 555.7,165.0 556.2,169.7 556.7,295.5 557.2,169.3 557.7,196.1 558.2,293.5 558.6,167.8 559.1,154.8 559.6,297.1 560.1,300.5 560.6,297.4 561.1,297.9 561.6,266.4 562.0,198.8 562.5,273.2 563.0,270.7 563.5,156.8 564.0,262.3 564.5,273.0 565.0,270.5 565.4,218.2 565.9,267.9 566.4,106.9 566.9,273.8 567.4,95.4 567.9,238.7 568.4,175.5 568.8,275.2 569.3,167.8 569.8,169.4 570.3,257.5 570.8,264.5 571.3,277.6 571.8,167.6 572.2,263.5 572.7,164.6 573.2,168.1 573.7,187.4 574.2,165.7 574.7,167.0 575.2,219.0 575.6,171.2 576.1,171.4 576.6,265.8 577.1,171.6 577.6,166.1 578.1,262.1 578.6,168.6 579.0,165.1 579.5,163.8 580.0,166.0 580.5,171.3 581.0,262.8 581.5,266.6 582.0,171.1 582.4,258.8 582.9,173.6 583.4,265.4 583.9,264.0 584.4,174.0 584.9,173.1 585.4,265.7 585.8,259.2 586.3,177.0 586.8,170.3 587.3,168.8 587.8,260.5 588.3,178.2 588.8,198.1 589.2,277.6 589.7,274.9 590.2,271.2 590.7,175.1 591.2,275.3 591.7,272.2 592.2,211.3 592.7,271.1 593.1,169.8 593.6,173.6 594.1,173.4 594.6,276.3 595.1,254.5 595.6,274.2 596.1,272.9 596.5,169.3 597.0,164.8 597.5,172.0 598.0,169.6 598.5,252.0 599.0,167.3 599.5,282.5 599.9,166.0 600.4,175.3 600.9,197.8 601.4,185.7 601.9,275.9 602.4,263.9 602.9,168.8 603.3,273.0 603.8,161.8 604.3,169.3 604.8,163.6 605.3,160.8 605.8,276.6 606.3,170.7 606.7,267.9 607.2,266.9 607.7,274.1 608.2,167.5 608.7,269.7 609.2,168.1 609.7,164.9 610.1,274.3 610.6,168.9 611.1,272.6 611.6,163.3 612.1,162.4 612.6,137.9 613.1,129.9 613.5,269.4 614.0,272.0 614.5,273.1 615.0,266.7 615.5,151.3 616.0,207.6 616.5,155.9 616.9,152.4 617.4,273.7 617.9,268.6 618.4,230.7 618.9,294.1 619.4,158.7 619.9,160.6 620.3,291.5 620.8,178.5 621.3,220.2 621.8,286.5 622.3,192.2 622.8,153.1 623.3,286.2 623.7,151.4 624.2,287.8 624.7,147.9 625.2,290.2 625.7,286.5 626.2,293.5 626.7,284.5 627.1,274.2 627.6,172.7 628.1,169.6 628.6,285.6 629.1,289.3 629.6,172.3 630.1,177.9 630.5,174.8 631.0,287.2 631.5,171.6 632.0,215.6 632.5,171.1 633.0,282.4 633.5,168.8 633.9,275.5 634.4,174.7 634.9,173.9 635.4,290.0 635.9,166.8 636.4,290.2 636.9,290.8 637.3,292.7 637.8,178.3 638.3,297.0 638.8,302.9 639.3,296.8 639.8,171.4 640.3,287.3 640.7,212.6 641.2,172.8 641.7,168.3 642.2,271.8 642.7,293.5 643.2,174.7 643.7,170.1 644.1,251.7 644.6,292.6 645.1,287.2 645.6,294.3 646.1,164.8 646.6,288.1 647.1,168.4 647.5,172.0 648.0,181.8 648.5,167.6 649.0,292.7 649.5,294.1 650.0,168.2 650.5,295.5 651.0,180.3 651.4,232.1 651.9,268.9 652.4,264.2 652.9,168.4 653.4,166.8 653.9,157.8 654.4,161.3 654.8,267.2 655.3,266.6 655.8,161.8 656.3,262.2 656.8,236.1 657.3,164.8 657.8,259.5 658.2,162.5 658.7,160.1 659.2,164.3 659.7,269.6 660.2,164.3 660.7,168.1 661.2,267.4 661.6,265.7 662.1,263.6 662.6,262.7 663.1,150.8 663.6,147.9 664.1,192.9 664.6,154.8 665.0,267.8 665.5,233.4 666.0,259.9 666.5,263.1 667.0,266.8 667.5,267.1 668.0,243.9 668.4,267.9 668.9,268.2 669.4,155.5 669.9,152.0 670.4,158.2 670.9,164.7 671.4,149.0 671.8,283.5 672.3,151.8 672.8,151.6 673.3,167.2 673.8,152.1 674.3,149.1 674.8,153.1 675.2,152.1 675.7,149.8 676.2,276.5 676.7,255.9 677.2,281.3 677.7,134.9 678.2,186.4 678.6,279.7 679.1,142.7 679.6,141.7 680.1,269.9 680.6,139.1 681.1,140.0 681.6,265.9 682.0,277.8 682.5,239.8 683.0,266.3 683.5,316.9 684.0,294.4 684.5,305.4 685.0,210.1 685.4,142.2 685.9,146.4 686.4,139.5 686.9,147.7 687.4,140.0 687.9,137.9 688.4,146.9 688.8,305.3 689.3,161.6 689.8,175.2 690.3,158.5 690.8,259.6 691.3,298.4 691.8,306.0 692.2,306.3 692.7,306.8 693.2,308.5 693.7,305.1 694.2,304.5 694.7,158.0 695.2,269.6 695.6,177.4 696.1,276.4 696.6,154.8 697.1,276.3 697.6,268.9 698.1,233.3 698.6,176.8 699.0,176.9 699.5,185.6 700.0,181.6 700.5,180.2 701.0,273.8 701.5,238.6 702.0,262.8 702.4,276.9 702.9,185.6 703.4,277.7 703.9,270.0 704.4,277.4 704.9,174.8 705.4,178.9 705.9,278.6 706.3,183.0 706.8,272.8 707.3,276.5 707.8,270.0 708.3,273.2 708.8,277.7 709.3,272.7 709.7,275.4 710.2,269.6 710.7,175.9 711.2,275.6 711.7,277.7 712.2,264.3 712.7,279.5 713.1,277.7 713.6,278.5 714.1,221.3 714.6,272.0 715.1,182.2 715.6,176.8 716.1,158.5 716.5,151.9 717.0,167.5 717.5,153.1 718.0,268.1 718.5,221.6 719.0,257.7 719.5,166.7 719.9,263.9 720.4,166.8 720.9,268.3 721.4,160.7 721.9,261.2 722.4,262.8 722.9,161.5 723.3,266.8 723.8,266.5 724.3,217.2 724.8,163.5 725.3,161.7 725.8,158.8 726.3,261.5 726.7,264.9 727.2,165.0 727.7,162.5 728.2,160.0 728.7,272.6 729.2,268.2 729.7,259.7 730.1,172.6 730.6,261.5 731.1,184.4 731.6,168.5 732.1,261.8 732.6,168.7 733.1,160.2 733.5,260.5 734.0,165.1 734.5,256.0 735.0,149.7 735.5,146.9 736.0,254.3 736.5,158.5 736.9,252.4 737.4,254.5 737.9,151.5 738.4,202.2 738.9,151.0 739.4,159.0 739.9,262.6 740.3,247.3 740.8,155.8 741.3,261.0 741.8,253.1 742.3,259.7 742.8,261.2 743.3,255.7 743.7,159.2 744.2,256.5 744.7,258.8 745.2,151.8 745.7,148.8 746.2,258.5 746.7,135.9 747.1,145.5 747.6,189.9 748.1,278.1 748.6,286.5 749.1,283.0 749.6,281.4 750.1,191.1 750.5,284.4 751.0,285.7 751.5,198.0 752.0,278.3 752.5,187.8 753.0,191.4 753.5,201.0 753.9,284.2 754.4,190.4 754.9,283.4 755.4,188.0 755.9,186.8 756.4,282.1 756.9,194.7 757.3,197.6 757.8,323.5 758.3,195.4 758.8,201.8 759.3,197.5 759.8,200.0 760.3,311.5 760.7,313.1 761.2,194.1 761.7,192.8 762.2,201.7 762.7,319.2 763.2,321.1 763.7,195.2 764.2,318.1 764.6,194.5 765.1,332.8 765.6,333.4 766.1,331.8 766.6,212.8 767.1,281.6 767.6,195.8 768.0,293.3 768.5,283.4 769.0,164.8 769.5,292.0 770.0,168.0 770.5,167.0 771.0,173.6 771.4,208.8 771.9,166.4 772.4,292.5 772.9,168.9 773.4,295.5 773.9,293.6 774.4,198.7 774.8,174.0 775.3,244.5 775.8,289.5 776.3,283.8 776.8,289.1 777.3,93.0 777.8,273.7 778.2,288.9 778.7,155.2 779.2,280.5 779.7,201.3 780.2,160.9 780.7,226.3 781.2,158.2 781.6,289.6 782.1,232.5 782.6,288.3 783.1,287.3 783.6,156.3 784.1,155.4 784.6,153.8 785.0,289.4 785.5,165.3 786.0,193.3 786.5,291.5 787.0,177.1 787.5,180.7 788.0,278.7 788.4,279.3 788.9,173.3 789.4,178.8 789.9,173.4 790.4,237.7 790.9,172.9 791.4,279.1 791.8,282.0 792.3,281.8 792.8,169.8 793.3,281.7 793.8,283.5 794.3,281.8 794.8,249.4 795.2,173.1 795.7,172.3 796.2,172.2 796.7,274.9 797.2,282.7 797.7,281.3 798.2,280.7 798.6,280.9 799.1,173.2 799.6,172.9 800.1,174.4 800.6,172.5 801.1,171.8 801.6,276.5 802.0,173.1 802.5,180.0 803.0,273.8 803.5,273.4 804.0,278.0 804.5,275.4 805.0,253.7 805.4,298.5 805.9,294.0 806.4,161.8 806.9,180.5 807.4,294.4 807.9,174.4 808.4,297.8 808.8,241.1 809.3,207.5 809.8,297.2 810.3,174.4 810.8,242.5 811.3,259.5 811.8,176.5 812.2,290.6 812.7,259.1 813.2,293.6 813.7,174.1 814.2,175.9 814.7,227.9 815.2,208.9 815.6,173.9 816.1,292.9 816.6,297.5 817.1,324.4 817.6,328.8 818.1,173.9 818.6,181.2 819.0,258.9 819.5,170.8 820.0,176.9 820.5,257.5 821.0,186.1 821.5,181.1 822.0,254.7 822.5,258.4 822.9,249.6 823.4,180.8 823.9,247.4 824.4,255.6 824.9,258.8 825.4,179.7 825.9,258.5 826.3,177.8 826.8,222.5 827.3,259.8 827.8,256.0 828.3,260.6 828.8,255.6 829.3,259.2 829.7,183.8 830.2,255.1 830.7,182.7 831.2,259.6 831.7,187.6 832.2,179.7 832.7,187.8 833.1,258.2 833.6,183.6 834.1,188.8 834.6,153.1 835.1,148.9 835.6,256.1 836.1,214.2 836.5,221.0 837.0,199.0 837.5,198.8 838.0,254.5 838.5,198.0 839.0,255.9 839.5,239.1 839.9,201.5 840.4,198.5 840.9,256.6 841.4,200.8 841.9,205.3 842.4,297.5 842.9,294.6 843.3,289.9 843.8,258.0 844.3,295.9 844.8,290.3 845.3,294.1 845.8,280.6 846.3,208.9 846.7,198.1 847.2,217.6 847.7,295.5 848.2,252.7 848.7,181.0 849.2,133.9 849.7,142.6 850.1,147.0 850.6,157.4 851.1,147.9 851.6,148.6 852.1,150.2 852.6,296.6 853.1,154.2 853.5,148.0 854.0,285.9 854.5,226.5 855.0,150.4 855.5,304.5 856.0,297.5 856.5,287.8 856.9,147.7 857.4,215.5 857.9,144.9 858.4,291.2 858.9,200.1 859.4,199.1 859.9,198.7 860.3,200.6 860.8,288.8 861.3,205.9 861.8,202.1 862.3,198.5 862.8,255.6 863.3,292.7 863.7,202.8 864.2,217.5 864.7,292.4 865.2,294.5 865.7,286.3 866.2,201.2 866.7,206.7 867.1,199.2 867.6,202.6 868.1,201.5 868.6,285.5 869.1,200.5 869.6,205.4 870.1,290.2 870.5,200.8 871.0,223.2 871.5,203.7 872.0,207.5 872.5,202.1 873.0,293.3 873.5,155.5 873.9,163.2 874.4,152.9 874.9,156.5 875.4,313.5 875.9,166.9 876.4,292.6 876.9,312.6 877.3,302.3 877.8,175.8 878.3,175.2 878.8,162.6 879.3,170.0 879.8,312.8 880.3,162.5 880.8,170.7 881.2,318.5 881.7,164.7 882.2,162.9 882.7,303.0 883.2,201.6 883.7,306.7 884.2,306.2 884.6,196.8 885.1,309.1 885.6,201.7 886.1,305.0 886.6,309.1 887.1,309.9 887.6,306.6 888.0,308.7 888.5,309.7 889.0,194.6 889.5,192.8 890.0,234.8 890.5,309.4 891.0,305.7 891.4,311.5 891.9,197.2 892.4,193.9 892.9,297.5 893.4,309.8 893.9,307.9 894.4,309.1 894.8,305.7 895.3,196.1 895.8,308.1 896.3,309.0 896.8,198.9 897.3,195.0 897.8,195.7 898.2,308.4 898.7,195.6 899.2,312.5 899.7,285.7 900.2,272.8 900.7,309.9 901.2,188.8 901.6,308.1 902.1,196.8 902.6,195.0 903.1,200.5 903.6,193.7 904.1,196.3 904.6,270.0 905.0,194.2 905.5,189.6 906.0,189.7 906.5,189.6 907.0,305.9 907.5,310.7 908.0,203.9 908.4,308.7 908.9,237.7 909.4,257.5 909.9,311.7 910.4,310.2 910.9,311.7 911.4,171.8 911.8,177.9 912.3,305.8 912.8,314.8 913.3,316.5 913.8,305.2 914.3,315.6 914.8,303.1 915.2,173.2 915.7,302.4 916.2,315.6 916.7,179.2 917.2,174.0 917.7,175.2 918.2,190.7 918.6,313.7 919.1,187.7 919.6,315.3 920.1,150.9 920.6,293.6 921.1,152.1 921.6,312.7 922.0,156.4 922.5,157.0 923.0,165.0 923.5,314.6 924.0,155.4 924.5,158.4 925.0,155.0 925.4,286.8 925.9,313.4 926.4,164.5 926.9,293.0 927.4,317.5 927.9,316.0 928.4,248.2 928.8,215.3 929.3,236.8 929.8,315.9 930.3,311.9 930.8,311.5 931.3,316.8 931.8,153.8 932.2,161.3 932.7,311.3 933.2,296.0 933.7,207.8 934.2,313.4 934.7,208.5 935.2,271.1 935.6,203.7 936.1,204.6 936.6,206.9 937.1,334.0 937.6,326.3 938.1,215.3 938.6,204.9 939.1,202.7 939.5,299.9 940.0,294.2 940.5,299.5 941.0,286.8 941.5,204.8 942.0,295.6 942.5,249.9 942.9,300.5 943.4,283.3 943.9,204.7 944.4,207.4 944.9,277.8 945.4,178.4 945.9,175.8 946.3,174.8 946.8,274.2 947.3,279.5 947.8,278.2 948.3,274.0 948.8,183.0 949.3,180.5 949.7,208.3 950.2,273.9 950.7,177.8 951.2,272.9 951.7,218.3 952.2,278.6 952.7,200.1 953.1,188.4 953.6,177.3 954.1,181.5 954.6,176.3 955.1,257.1 955.6,160.0 956.1,154.8 956.5,275.0 957.0,274.0 957.5,277.5 958.0,218.4 958.5,274.5 959.0,269.9 959.5,243.0 959.9,302.5 960.4,216.3 960.9,217.7 961.4,218.8 961.9,298.8 962.4,229.5 962.9,212.7 963.3,289.0 963.8,298.5 964.3,291.2 964.8,301.7 965.3,295.8 965.8,300.3 966.3,217.4 966.7,296.8 967.2,220.6 967.7,296.1 968.2,270.4 968.7,218.2 969.2,293.6 969.7,216.8 970.1,288.6 970.6,294.5 971.1,259.7 971.6,214.2 972.1,327.4 972.6,175.8 973.1,170.8 973.5,177.9 974.0,171.5 974.5,178.8 975.0,173.4 975.5,193.3 976.0,321.6 976.5,226.3 976.9,172.0 977.4,325.7 977.9,282.4 978.4,316.8 978.9,178.9 979.4,197.6 979.9,321.5 980.3,175.9 980.8,185.6 981.3,176.2 981.8,325.4 982.3,163.6 982.8,161.8 983.3,318.1 983.7,242.8 984.2,318.0 984.7,331.4 985.2,180.4 985.7,319.9 986.2,186.7 986.7,184.8 987.1,328.1 987.6,180.0 988.1,186.9 988.6,180.6 989.1,325.0 989.6,330.3 990.1,320.5 990.5,180.3 991.0,321.5 991.5,181.3 992.0,174.8 992.5,181.4 993.0,322.9 993.5,178.4 993.9,179.2 994.4,182.0 994.9,337.4 995.4,196.1 995.9,185.6 996.4,313.7 996.9,175.6 997.4,185.3 997.8,318.1 998.3,246.8 998.8,314.8 999.3,216.4 999.8,178.9 1000.3,177.8 1000.8,179.1 1001.2,176.2 1001.7,320.5 1002.2,317.3 1002.7,311.7 1003.2,181.5 1003.7,305.2 1004.2,184.9 1004.6,308.4 1005.1,162.7 1005.6,198.6 1006.1,160.8 1006.6,171.1 1007.1,310.0 1007.6,295.9 1008.0,304.2 1008.5,303.7 1009.0,190.2 1009.5,190.6 1010.0,202.9 1010.5,309.2 1011.0,309.2 1011.4,300.1 1011.9,311.5 1012.4,302.9 1012.9,308.4 1013.4,216.9 1013.9,308.8 1014.4,302.5 1014.8,310.6 1015.3,300.9 1015.8,307.9 1016.3,306.9 1016.8,193.4 1017.3,308.3 1017.8,197.1 1018.2,308.8 1018.7,187.8 1019.2,189.8 1019.7,323.5 1020.2,321.7 1020.7,188.5 1021.2,307.3 1021.6,194.4 1022.1,254.0 1022.6,190.4 1023.1,196.4 1023.6,307.9 1024.1,308.2 1024.6,195.3 1025.0,189.0 1025.5,272.6 1026.0,189.9 1026.5,198.5 1027.0,310.1 1027.5,308.0 1028.0,306.0 1028.4,309.3 1028.9,311.5 1029.4,308.5 1029.9,215.0 1030.4,182.8 1030.9,175.8 1031.4,185.9 1031.8,180.2 1032.3,185.6 1032.8,274.7 1033.3,272.2 1033.8,179.4 1034.3,186.6 1034.8,276.3 1035.2,181.2 1035.7,280.5 1036.2,182.6 1036.7,180.4 1037.2,122.3 1037.7,119.9 1038.2,264.0 1038.6,276.2 1039.1,275.8 1039.6,208.6 1040.1,193.0 1040.6,193.6 1041.1,193.5 1041.6,277.7 1042.0,195.2 1042.5,253.7 1043.0,234.0 1043.5,226.1 1044.0,269.2 1044.5,276.7 1045.0,303.4 1045.4,193.1 1045.9,306.5 1046.4,300.9 1046.9,194.9 1047.4,289.8 1047.9,191.8 1048.4,298.8 1048.8,196.5 1049.3,197.7 1049.8,304.9 1050.3,194.8 1050.8,264.5 1051.3,199.7 1051.8,204.8 1052.2,194.4 1052.7,284.0 1053.2,303.9 1053.7,310.5 1054.2,199.2 1054.7,192.7 1055.2,302.7 1055.7,306.8 1056.1,196.4 1056.6,195.8 1057.1,293.8 1057.6,143.9 1058.1,160.4 1058.6,299.2 1059.1,158.4 1059.5,306.8 1060.0,154.2 1060.5,151.0 1061.0,308.8 1061.5,149.4 1062.0,309.5 1062.5,306.1 1062.9,148.9 1063.4,187.3 1063.9,179.6 1064.4,282.1 1064.9,275.4 1065.4,203.7 1065.9,286.4 1066.3,287.0 1066.8,179.7 1067.3,185.9 1067.8,180.0 1068.3,181.5 1068.8,276.2 1069.3,280.3 1069.7,175.8 1070.2,286.9 1070.7,182.2 1071.2,184.0 1071.7,288.5 1072.2,187.3 1072.7,180.7 1073.1,281.6 1073.6,285.1 1074.1,278.4 1074.6,177.6 1075.1,276.1 1075.6,238.3 1076.1,279.3 1076.5,179.8 1077.0,283.7 1077.5,177.8 1078.0,180.6 1078.5,176.8 1079.0,287.8 1079.5,286.1 1079.9,284.9 1080.4,287.2 1080.9,311.4 1081.4,188.8 1081.9,315.5 1082.4,180.3 1082.9,293.2 1083.3,276.8 1083.8,293.3 1084.3,282.2 1084.8,178.2 1085.3,146.9 1085.8,150.4 1086.3,145.9 1086.7,290.5 1087.2,191.5 1087.7,198.3 1088.2,292.6 1088.7,286.4 1089.2,292.8 1089.7,190.1 1090.1,222.4 1090.6,188.7 1091.1,190.0 1091.6,294.5 1092.1,200.0 1092.6,194.0 1093.1,187.2 1093.5,188.5 1094.0,283.3 1094.5,186.7 1095.0,291.4 1095.5,193.2 1096.0,292.4 1096.5,293.5 1096.9,210.7 1097.4,185.8 1097.9,228.2 1098.4,210.0 1098.9,293.5 1099.4,195.4 1099.9,198.9 1100.3,192.5 1100.8,296.0 1101.3,193.2 1101.8,346.4 1102.3,194.4 1102.8,191.9 1103.3,197.1 1103.7,308.2 1104.2,311.5 1104.7,196.7 1105.2,192.9 1105.7,190.8 1106.2,192.2 1106.7,308.2 1107.1,197.6 1107.6,307.2 1108.1,192.9 1108.6,196.3 1109.1,316.1 1109.6,298.9 1110.1,246.1 1110.5,312.4 1111.0,254.0 1111.5,202.7 1112.0,316.7 1112.5,263.8 1113.0,250.7 1113.5,315.1 1114.0,196.0 1114.4,307.6 1114.9,190.2 1115.4,317.5 1115.9,192.4 1116.4,315.0 1116.9,189.9 1117.4,295.4 1117.8,259.3 1118.3,220.3 1118.8,289.6 1119.3,190.1 1119.8,250.6 1120.3,293.3 1120.8,229.9 1121.2,288.2 1121.7,292.9 1122.2,293.5 1122.7,290.8 1123.2,190.7 1123.7,296.5 1124.2,270.6 1124.6,288.4 1125.1,263.4 1125.6,170.8 1126.1,293.3 1126.6,176.0 1127.1,292.7 1127.6,190.3 1128.0,294.7 1128.5,295.9 1129.0,295.5 1129.5,191.3 1130.0,294.1 1130.5,188.0 1131.0,290.8 1131.4,289.4 1131.9,293.9 1132.4,304.5 1132.9,296.8 1133.4,186.2 1133.9,303.4 1134.4,185.8 1134.8,194.6 1135.3,190.9 1135.8,303.5 1136.3,293.7 1136.8,297.1 1137.3,188.6 1137.8,184.3 1138.2,235.2 1138.7,185.2 1139.2,186.5 1139.7,274.7 1140.2,298.9 1140.7,185.5 1141.2,166.4 1141.6,307.5 1142.1,164.8 1142.6,297.6 1143.1,175.3 1143.6,176.9 1144.1,304.0 1144.6,182.7 1145.0,302.6 1145.5,191.8 1146.0,178.7 1146.5,177.7 1147.0,298.9 1147.5,305.5 1148.0,198.9 1148.4,188.0 1148.9,304.1 1149.4,194.9 1149.9,297.8 1150.4,293.1 1150.9,305.2 1151.4,306.5 1151.8,238.7 1152.3,300.5 1152.8,288.4 1153.3,174.1 1153.8,303.3 1154.3,175.0 1154.8,172.8 1155.2,300.9 1155.7,176.3 1156.2,175.3 1156.7,303.0 1157.2,177.8 1157.7,302.3 1158.2,302.4 1158.6,179.4 1159.1,176.5 1159.6,307.5 1160.1,179.8 1160.6,178.5 1161.1,187.9 1161.6,306.5 1162.0,306.8 1162.5,305.0 1163.0,304.9 1163.5,304.8 1164.0,163.7 1164.5,145.9 1165.0,214.6 1165.4,247.8 1165.9,175.7 1166.4,174.0 1166.9,300.0 1167.4,199.7 1167.9,178.3 1168.4,321.5 1168.8,313.9 1169.3,174.1 1169.8,182.0 1170.3,308.2 1170.8,316.8 1171.3,314.6 1171.8,317.8 1172.2,182.4 1172.7,177.5 1173.2,173.9 1173.7,317.4 1174.2,317.6 1174.7,314.2 1175.2,311.5 1175.7,320.5 1176.1,305.8 1176.6,188.9 1177.1,273.5 1177.6,294.6 1178.1,248.1 1178.6,180.9 1179.1,184.9 1179.5,181.0 1180.0,185.4 1180.5,293.3 1181.0,293.0 1181.5,184.3 1182.0,290.3 1182.5,190.0 1182.9,194.5 1183.4,296.5 1183.9,184.5 1184.4,230.6 1184.9,290.4 1185.4,178.8 1185.9,194.4 1186.3,180.4 1186.8,194.3 1187.3,270.8 1187.8,253.2 1188.3,183.7 1188.8,180.8 1189.3,291.6 1189.7,294.9 1190.2,242.8 1190.7,185.7 1191.2,300.8 1191.7,303.5 1192.2,298.7 1192.7,296.5 1193.1,297.4 1193.6,208.3 1194.1,299.8 1194.6,180.1 1195.1,184.5 1195.6,217.1 1196.1,185.8 1196.5,298.0 1197.0,165.8 1197.5,299.8 1198.0,176.2 1198.5,314.5 1199.0,177.8 1199.5,184.0 1199.9,209.6 1200.4,176.8 1200.9,309.1 1201.4,303.1 1201.9,269.2 1202.4,291.1 1202.9,282.4 1203.3,184.0 1203.8,312.5 1204.3,174.8 1204.8,335.7 1205.3,337.4 1205.8,194.0 1206.3,193.6 1206.7,322.5 1207.2,271.4 1207.7,188.9 1208.2,188.6 1208.7,317.7 1209.2,324.1 1209.7,194.6 1210.1,315.7 1210.6,315.1 1211.1,322.8 1211.6,194.4 1212.1,320.8 1212.6,321.3 1213.1,275.6 1213.5,317.5 1214.0,193.5 1214.5,185.8 1215.0,187.8 1215.5,308.7 1216.0,320.0 1216.5,326.4 1216.9,322.8 1217.4,190.1 1217.9,188.7 1218.4,191.1 1218.9,188.1 1219.4,194.4 1219.9,235.6 1220.3,191.1 1220.8,308.7 1221.3,305.7 1221.8,313.5 1222.3,180.8 1222.8,308.2 1223.3,184.4 1223.7,303.7 1224.2,234.9 1224.7,244.6 1225.2,314.5 1225.7,313.3 1226.2,191.8 1226.7,196.9 1227.1,201.3 1227.6,201.9 1228.1,194.1 1228.6,245.4 1229.1,302.9 1229.6,304.7 1230.1,259.6 1230.6,196.5 1231.0,311.7 1231.5,315.5 1232.0,197.5 1232.5,190.8 1233.0,194.8 1233.5,197.6 1234.0,231.9 1234.4,307.2 1234.9,301.7 1235.4,307.4 1235.9,309.9 1236.4,302.2 1236.9,196.7 1237.4,209.9 1237.8,198.2 1238.3,198.5 1238.8,304.0 1239.3,196.9 1239.8,305.4 1240.3,196.9 1240.8,211.3 1241.2,263.9 1241.7,867.0 1242.2,904.2 1242.7,795.9 1243.2,793.5 1243.7,791.8 1244.2,792.7 1244.6,940.6 1245.1,803.0 1245.6,941.7 1246.1,938.5 1246.6,941.7 1247.1,787.0 1247.6,793.5 1248.0,926.8 1248.5,833.7 1249.0,897.7 1249.5,939.5 1250.0,830.7 1250.5,945.7 1251.0,942.2 1251.4,850.4 1251.9,836.2 1252.4,943.7 1252.9,950.6 1253.4,832.0 1253.9,836.6 1254.4,853.7 1254.8,946.3 1255.3,832.3 1255.8,829.9 1256.3,846.7 1256.8,833.8 1257.3,942.4 1257.8,946.0 1258.2,945.3 1258.7,929.5 1259.2,930.0 1259.7,838.2 1260.2,943.9 1260.7,838.0 1261.2,936.7 1261.6,948.9 1262.1,832.6 1262.6,933.5 1263.1,834.4 1263.6,833.3 1264.1,948.3 1264.6,945.3 1265.0,832.0 1265.5,839.8 1266.0,965.5 1266.5,962.7 1267.0,945.2 1267.5,831.4 1268.0,949.0 1268.4,945.3 1268.9,808.9 1269.4,817.0 1269.9,946.9 1270.4,940.1 1270.9,942.0 1271.4,931.7 1271.8,942.5 1272.3,827.0 1272.8,946.9 1273.3,821.1 1273.8,820.8 1274.3,819.5 1274.8,822.6 1275.2,825.1 1275.7,822.8 1276.2,874.1 1276.7,949.6 1277.2,944.6 1277.7,828.0 1278.2,934.5 1278.6,935.9 1279.1,935.5 1279.6,933.6 1280.1,817.9 1280.6,935.4 1281.1,935.2 1281.6,904.2 1282.0,815.9 1282.5,821.2 1283.0,936.9 1283.5,816.6 1284.0,832.6 1284.5,931.3 1285.0,929.3 1285.4,932.1 1285.9,817.6 1286.4,817.9 1286.9,933.1 1287.4,929.7 1287.9,911.2 1288.4,828.1 1288.8,937.6 1289.3,887.2 1289.8,798.9 1290.3,933.5 1290.8,932.7 1291.3,936.2 1291.8,832.8 1292.3,934.8 1292.7,857.6 1293.2,829.1 1293.7,827.3 1294.2,827.3 1294.7,828.1 1295.2,840.2 1295.7,936.2 1296.1,936.8 1296.6,929.2 1297.1,831.2 1297.6,936.1 1298.1,936.7 1298.6,826.5 1299.1,929.8 1299.5,921.7 1300.0,825.9 1300.5,924.3 1301.0,950.1 1301.5,858.0 1302.0,952.6 1302.5,849.7 1302.9,946.9 1303.4,839.1 1303.9,839.4 1304.4,896.8 1304.9,843.1 1305.4,936.6 1305.9,839.5 1306.3,842.4 1306.8,948.3 1307.3,950.5 1307.8,946.6 1308.3,950.4 1308.8,915.9 1309.3,839.3 1309.7,906.0 1310.2,862.3 1310.7,942.4 1311.2,855.9 1311.7,1000.5 1312.2,998.4 1312.7,837.9 1313.1,945.4 1313.6,898.3 1314.1,952.5 1314.6,847.4 1315.1,949.8 1315.6,948.6 1316.1,840.8 1316.5,842.4 1317.0,950.2 1317.5,949.5 1318.0,882.0 1318.5,947.0 1319.0,941.1 1319.5,838.7 1319.9,950.6 1320.4,946.5 1320.9,823.9 1321.4,829.2 1321.9,826.3 1322.4,948.7 1322.9,954.6 1323.3,923.7 1323.8,832.2 1324.3,949.4 1324.8,829.6 1325.3,946.8 1325.8,949.1 1326.3,834.0 1326.7,825.2 1327.2,945.2 1327.7,947.9 1328.2,826.1 1328.7,951.7 1329.2,847.8 1329.7,809.9 1330.1,812.0 1330.6,813.2 1331.1,963.4 1331.6,967.5 1332.1,813.0 1332.6,814.3 1333.1,818.9 1333.5,954.0 1334.0,948.0 1334.5,955.3 1335.0,816.5 1335.5,811.5 1336.0,813.6 1336.5,820.0 1336.9,951.3 1337.4,955.5 1337.9,881.3 1338.4,828.4 1338.9,831.8 1339.4,954.6 1339.9,798.9 1340.3,811.7 1340.8,873.9 1341.3,817.0 1341.8,959.6 1342.3,954.5 1342.8,954.3 1343.3,948.2 1343.7,940.9 1344.2,810.7 1344.7,864.8 1345.2,809.2 1345.7,950.7 1346.2,947.4 1346.7,956.7 1347.2,935.3 1347.6,949.9 1348.1,809.7 1348.6,808.5 1349.1,800.5 1349.6,957.6 1350.1,785.6 1350.6,953.7 1351.0,787.3 1351.5,807.0 1352.0,810.5 1352.5,822.5 1353.0,813.6 1353.5,811.8 1354.0,817.3 1354.4,830.0 1354.9,819.0 1355.4,946.2 1355.9,807.8 1356.4,973.3 1356.9,978.9 1357.4,966.5 1357.8,963.2 1358.3,927.2 1358.8,808.0 1359.3,810.5 1359.8,809.1 1360.3,926.0 1360.8,906.5 1361.2,908.5 1361.7,807.0 1362.2,864.3 1362.7,805.9 1363.2,928.0 1363.7,928.3 1364.2,824.6 1364.6,929.6 1365.1,925.9 1365.6,926.9 1366.1,900.0 1366.6,919.6 1367.1,827.8 1367.6,819.8 1368.0,888.1 1368.5,825.9 1369.0,826.3 1369.5,820.8 1370.0,865.5 1370.5,851.1 1371.0,938.2 1371.4,946.6 1371.9,941.4 1372.4,937.1 1372.9,818.9 1373.4,821.6 1373.9,941.6 1374.4,941.7 1374.8,834.8 1375.3,863.9 1375.8,945.5 1376.3,939.7 1376.8,838.0 1377.3,835.6 1377.8,942.1 1378.2,834.3 1378.7,908.7 1379.2,835.5 1379.7,837.0 1380.2,912.2 1380.7,836.9 1381.2,939.6 1381.6,835.3 1382.1,839.3 1382.6,834.2 1383.1,944.3 1383.6,832.9 1384.1,951.2 1384.6,953.6 1385.0,857.4 1385.5,948.0 1386.0,943.5 1386.5,834.2 1387.0,938.5 1387.5,839.1 1388.0,935.6 1388.4,834.4 1388.9,940.8 1389.4,834.7 1389.9,941.7 1390.4,941.6 1390.9,834.9 1391.4,834.4 1391.8,941.5 1392.3,837.5 1392.8,835.1 1393.3,942.3 1393.8,944.6 1394.3,924.1 1394.8,933.8 1395.2,904.4 1395.7,938.1 1396.2,943.7 1396.7,915.9 1397.2,938.5 1397.7,843.1 1398.2,936.6 1398.6,834.9 1399.1,940.9 1399.6,943.1 1400.1,913.5 1400.6,952.6 1401.1,832.7 1401.6,841.9 1402.0,920.1 1402.5,835.9 1403.0,931.4 1403.5,834.1 1404.0,933.9 1404.5,815.5 1405.0,933.8 1405.4,932.7 1405.9,836.2 1406.4,926.1 1406.9,835.0 1407.4,933.9 1407.9,836.7 1408.4,935.6 1408.9,934.9 1409.3,886.1 1409.8,931.7 1410.3,934.5 1410.8,838.7 1411.3,933.4 1411.8,933.8 1412.3,932.8 1412.7,833.9 1413.2,930.8 1413.7,868.3 1414.2,872.7 1414.7,934.1 1415.2,846.7 1415.7,942.9 1416.1,936.9 1416.6,944.6 1417.1,862.0 1417.6,939.8 1418.1,905.5 1418.6,943.8 1419.1,873.3 1419.5,912.4 1420.0,940.0 1420.5,937.3 1421.0,940.4 1421.5,839.8 1422.0,842.2 1422.5,940.9 1422.9,842.0 1423.4,847.0 1423.9,840.5 1424.4,843.7 1424.9,844.2 1425.4,978.9 1425.9,850.6 1426.3,844.1 1426.8,844.0 1427.3,865.8 1427.8,948.0 1428.3,950.6 1428.8,947.1 1429.3,845.8 1429.7,943.1 1430.2,844.9 1430.7,948.3 1431.2,953.2 1431.7,826.9 1432.2,827.6 1432.7,841.1 1433.1,956.4 1433.6,829.4 1434.1,948.5 1434.6,958.6 1435.1,949.6 1435.6,945.0 1436.1,941.5 1436.5,945.5 1437.0,831.3 1437.5,840.5 1438.0,831.3 1438.5,943.2 1439.0,828.0 1439.5,946.2 1439.9,947.2 1440.4,817.9 1440.9,950.8 1441.4,825.3 1441.9,946.1 1442.4,820.8 1442.9,945.0 1443.3,821.1 1443.8,819.4 1444.3,951.6 1444.8,825.3 1445.3,830.0 1445.8,822.7 1446.3,884.7 1446.7,829.5 1447.2,827.3 1447.7,950.8 1448.2,943.1 1448.7,819.4 1449.2,827.1 1449.7,942.2 1450.1,796.5 1450.6,941.9 1451.1,830.7 1451.6,834.9 1452.1,838.6 1452.6,939.9 1453.1,835.8 1453.5,836.2 1454.0,947.2 1454.5,943.9 1455.0,841.3 1455.5,837.7 1456.0,917.4 1456.5,884.8 1456.9,860.1 1457.4,976.5 1457.9,832.7 1458.4,829.9 1458.9,951.1 1459.4,910.1 1459.9,835.4 1460.3,833.5 1460.8,847.1 1461.3,839.4 1461.8,833.5 1462.3,871.3 1462.8,968.8 1463.3,966.3 1463.8,834.3 1464.2,972.5 1464.7,971.6 1465.2,897.7 1465.7,834.8 1466.2,833.2 1466.7,918.0 1467.2,924.7 1467.6,824.9 1468.1,923.3 1468.6,831.3 1469.1,828.1 1469.6,827.3 1470.1,830.8 1470.6,837.1 1471.0,924.0 1471.5,929.6 1472.0,928.9 1472.5,928.7 1473.0,828.0 1473.5,832.4 1474.0,884.3 1474.4,828.3 1474.9,924.0 1475.4,869.8 1475.9,828.8 1476.4,848.0 1476.9,827.5 1477.4,918.8 1477.8,821.5 1478.3,922.7 1478.8,939.7 1479.3,943.6 1479.8,844.8 1480.3,832.4 1480.8,836.3 1481.2,940.2 1481.7,836.5 1482.2,830.6 1482.7,940.5 1483.2,929.1 1483.7,937.0 1484.2,942.7 1484.6,941.6 1485.1,942.1 1485.6,840.9 1486.1,937.3 1486.6,952.6 1487.1,950.7 1487.6,929.4 1488.0,929.1 1488.5,925.6 1489.0,927.3 1489.5,898.5 1490.0,836.0 1490.5,927.1 1491.0,926.0 1491.4,853.7 1491.9,844.6 1492.4,838.4 1492.9,842.1 1493.4,933.6 1493.9,923.8 1494.4,811.9 1494.8,815.2 1495.3,813.9 1495.8,931.6 1496.3,890.1 1496.8,917.6 1497.3,927.5 1497.8,836.1 1498.2,838.3 1498.7,922.0 1499.2,931.6 1499.7,836.8 1500.2,931.1 1500.7,834.8 1501.2,930.3 1501.6,840.4 1502.1,890.5 1502.6,838.4 1503.1,932.9 1503.6,833.9 1504.1,957.8 1504.6,959.6 1505.0,956.8 1505.5,956.8 1506.0,839.6 1506.5,953.7 1507.0,842.1 1507.5,954.3 1508.0,839.7 1508.4,845.0 1508.9,954.4 1509.4,845.1 1509.9,836.3 1510.4,847.2 1510.9,957.8 1511.4,836.2 1511.8,892.2 1512.3,946.0 1512.8,798.5 1513.3,952.4 1513.8,958.7 1514.3,833.5 1514.8,833.0 1515.2,833.4 1515.7,834.8 1516.2,961.6 1516.7,959.7 1517.2,832.6 1517.7,834.3 1518.2,960.0 1518.6,959.5 1519.1,960.1 1519.6,834.5 1520.1,955.6 1520.6,833.6 1521.1,853.1 1521.6,831.9 1522.1,956.5 1522.5,954.2 1523.0,960.9 1523.5,959.3 1524.0,955.2 1524.5,872.9 1525.0,951.7 1525.5,949.4 1525.9,848.6 1526.4,837.2 1526.9,844.1 1527.4,976.5 1527.9,968.4 1528.4,957.4 1528.9,834.0 1529.3,838.0 1529.8,820.9 1530.3,816.9 1530.8,822.8 1531.3,822.3 1531.8,908.5 1532.3,844.7 1532.7,947.8 1533.2,945.5 1533.7,945.6 1534.2,876.7 1534.7,945.2 1535.2,948.6 1535.7,848.6 1536.1,947.0 1536.6,875.7 1537.1,919.9 1537.6,847.9 1538.1,840.8 1538.6,847.9 1539.1,947.1 1539.5,940.9 1540.0,946.4 1540.5,946.3 1541.0,900.0 1541.5,849.3 1542.0,931.9 1542.5,848.2 1542.9,846.2 1543.4,958.6 1543.9,965.5 1544.4,967.5 1544.9,964.1 1545.4,952.1 1545.9,851.0 1546.3,839.8 1546.8,960.6 1547.3,958.4 1547.8,843.7 1548.3,944.8 1548.8,956.3 1549.3,952.5 1549.7,862.4 1550.2,841.9 1550.7,899.4 1551.2,909.6 1551.7,848.0 1552.2,960.5 1552.7,957.8 1553.1,841.3 1553.6,847.7 1554.1,956.0 1554.6,845.9 1555.1,962.0 1555.6,837.0 1556.1,833.9 1556.5,837.2 1557.0,897.9 1557.5,939.2 1558.0,936.9 1558.5,841.9 1559.0,835.0 1559.5,843.1 1559.9,945.2 1560.4,945.2 1560.9,944.1 1561.4,945.3 1561.9,844.0 1562.4,936.4 1562.9,837.5 1563.3,921.0 1563.8,940.7 1564.3,946.6 1564.8,826.3 1565.3,828.5 1565.8,832.7 1566.3,881.2 1566.7,832.1 1567.2,837.1 1567.7,943.4 1568.2,864.4 1568.7,888.6 1569.2,826.2 1569.7,828.1 1570.1,827.6 1570.6,827.1 1571.1,827.5 1571.6,825.7 1572.1,832.5 1572.6,915.6 1573.1,970.5 1573.5,816.9 1574.0,958.9 1574.5,963.6 1575.0,952.4 1575.5,819.4 1576.0,957.0 1576.5,971.5 1576.9,819.7 1577.4,970.8 1577.9,959.8 1578.4,946.7 1578.9,820.1 1579.4,818.9 1579.9,965.5 1580.3,826.1 1580.8,949.8 1581.3,960.0 1581.8,836.7 1582.3,960.5 1582.8,962.0 1583.3,959.8 1583.8,828.4 1584.2,954.1 1584.7,957.9 1585.2,965.6 1585.7,819.9 1586.2,819.6 1586.7,966.5 1587.2,830.4 1587.6,947.1 1588.1,817.9 1588.6,949.0 1589.1,944.9 1589.6,945.1 1590.1,953.0 1590.6,885.5 1591.0,865.9 1591.5,946.1 1592.0,943.6 1592.5,833.5 1593.0,843.9 1593.5,836.7 1594.0,843.2 1594.4,952.4 1594.9,834.5 1595.4,888.2 1595.9,936.5 1596.4,954.6 1596.9,893.4 1597.4,843.9 1597.8,943.6 1598.3,837.4 1598.8,951.7 1599.3,831.9 1599.8,838.3 1600.3,836.8 1600.8,951.2 1601.2,947.4 1601.7,949.5 1602.2,949.9 1602.7,946.3 1603.2,838.0 1603.7,841.2 1604.2,902.4 1604.6,836.9 1605.1,837.8 1605.6,943.0 1606.1,947.4 1606.6,806.8 1607.1,804.9 1607.6,887.2 1608.0,919.5 1608.5,1016.4 1609.0,826.3 1609.5,933.4 1610.0,936.8 1610.5,828.5 1611.0,932.1 1611.4,910.8 1611.9,934.5 1612.4,828.6 1612.9,929.6 1613.4,829.4 1613.9,825.9 1614.4,834.3 1614.8,834.9 1615.3,823.9 1615.8,830.8 1616.3,926.1 1616.8,929.6 1617.3,939.6 1617.8,841.3 1618.2,934.9 1618.7,842.9 1619.2,928.8 1619.7,934.9 1620.2,935.2 1620.7,842.1 1621.2,845.1 1621.6,892.4 1622.1,838.8 1622.6,837.9 1623.1,846.1 1623.6,926.1 1624.1,937.1 1624.6,843.5 1625.0,931.5 1625.5,936.2 1626.0,846.5 1626.5,965.5 1627.0,840.6 1627.5,964.5 1628.0,847.4 1628.4,842.8 1628.9,839.5 1629.4,958.5 1629.9,961.3 1630.4,840.0 1630.9,844.8 1631.4,959.4 1631.8,843.6 1632.3,844.2 1632.8,896.4 1633.3,824.9 1633.8,964.7 1634.3,950.7 1634.8,836.2 1635.2,841.1 1635.7,825.7 1636.2,957.0 1636.7,961.6 1637.2,829.3 1637.7,828.3 1638.2,826.7 1638.7,829.1 1639.1,958.1 1639.6,969.5 1640.1,836.7 1640.6,826.0 1641.1,948.3 1641.6,819.9 1642.1,820.5 1642.5,945.5 1643.0,830.0 1643.5,944.7 1644.0,828.0 1644.5,937.7 1645.0,824.3 1645.5,829.8 1645.9,907.8 1646.4,827.0 1646.9,945.6 1647.4,788.7 1647.9,787.6 1648.4,949.6 1648.9,810.2 1649.3,947.9 1649.8,945.9 1650.3,944.9 1650.8,805.7 1651.3,805.5 1651.8,809.0 1652.3,948.4 1652.7,805.3 1653.2,948.7 1653.7,806.9 1654.2,942.1 1654.7,848.8 1655.2,808.0 1655.7,855.9 1656.1,809.7 1656.6,803.9 1657.1,942.4 1657.6,840.1 1658.1,839.7 1658.6,842.3 1659.1,837.2 1659.5,973.5 1660.0,971.1 1660.5,840.2 1661.0,849.2 1661.5,839.7 1662.0,944.9 1662.5,838.3 1662.9,839.2 1663.4,945.1 1663.9,837.7 1664.4,835.9 1664.9,839.9 1665.4,838.3 1665.9,944.9 1666.3,920.9 1666.8,946.8 1667.3,926.6 1667.8,846.7 1668.3,842.7 1668.8,843.7 1669.3,841.0 1669.7,935.4 1670.2,947.6 1670.7,891.6 1671.2,944.8 1671.7,946.0 1672.2,841.9 1672.7,934.4 1673.1,810.7 1673.6,811.3 1674.1,808.9 1674.6,930.9 1675.1,836.1 1675.6,836.2 1676.1,839.9 1676.5,934.5 1677.0,943.1 1677.5,856.2 1678.0,836.4 1678.5,947.6 1679.0,940.4 1679.5,942.8 1679.9,942.5 1680.4,917.3 1680.9,842.3 1681.4,945.8 1681.9,832.9 1682.4,943.8 1682.9,863.2 1683.3,945.5 1683.8,832.0 1684.3,831.6 1684.8,833.6 1685.3,944.2 1685.8,934.6 1686.3,839.2 1686.7,833.5 1687.2,838.3 1687.7,830.9 1688.2,915.5 1688.7,894.2 1689.2,919.1 1689.7,946.0 1690.1,857.2 1690.6,854.3 1691.1,940.7 1691.6,854.3 1692.1,930.0 1692.6,892.6 1693.1,986.5 1693.5,991.5 1694.0,850.5 1694.5,898.7 1695.0,945.0 1695.5,853.1 1696.0,942.2 1696.5,849.8 1696.9,941.6 1697.4,942.7 1697.9,876.2 1698.4,931.5 1698.9,939.0 1699.4,854.8 1699.9,853.8 1700.4,853.6 1700.8,945.0 1701.3,903.4 1701.8,850.6 1702.3,941.2 1702.8,945.2 1703.3,855.2 1703.8,914.7 1704.2,943.9 1704.7,943.9 1705.2,858.3 1705.7,837.5 1706.2,947.6 1706.7,935.1 1707.2,827.3 1707.6,944.2 1708.1,861.8 1708.6,837.8 1709.1,945.2 1709.6,943.0 1710.1,826.5 1710.6,888.4 1711.0,827.4 1711.5,941.7 1712.0,833.1 1712.5,905.2 1713.0,942.9 1713.5,912.7 1714.0,832.5 1714.4,946.6 1714.9,938.9 1715.4,939.1 1715.9,939.1 1716.4,941.6 1716.9,938.1 1717.4,840.6 1717.8,939.4 1718.3,843.6 1718.8,853.9 1719.3,943.9 1719.8,945.0 1720.3,841.7 1720.8,941.0 1721.2,840.9 1721.7,942.9 1722.2,943.7 1722.7,840.9 1723.2,937.8 1723.7,845.0 1724.2,972.5 1724.6,839.6 1725.1,961.5 1725.6,848.5 1726.1,838.8"/>
</g>
<g font-family="'Liberation Serif', 'Times New Roman', serif" font-size="66.67" fill="#262626" stroke="#262626" stroke-width="0.7" stroke-linejoin="miter">
<text x="268.60" y="1253" text-anchor="middle">0</text>
<text x="511.52" y="1253" text-anchor="middle">500</text>
<text x="754.43" y="1253" text-anchor="middle">1000</text>
<text x="997.35" y="1253" text-anchor="middle">1500</text>
<text x="1240.27" y="1253" text-anchor="middle">2000</text>
<text x="1483.18" y="1253" text-anchor="middle">2500</text>
<text x="1726.10" y="1253" text-anchor="middle">3000</text>
<text x="245" y="1192.30" text-anchor="end">-200</text>
<text x="245" y="1052.05" text-anchor="end">0</text>
<text x="245" y="911.80" text-anchor="end">200</text>
<text x="245" y="771.55" text-anchor="end">400</text>
<text x="245" y="631.30" text-anchor="end">600</text>
<text x="245" y="491.05" text-anchor="end">800</text>
<text x="245" y="350.80" text-anchor="end">1000</text>
<text x="245" y="210.55" text-anchor="end">1200</text>
<text x="245" y="70.30" text-anchor="end">1400</text>
</g>
<g font-family="'Liberation Serif', 'Times New Roman', serif" font-size="74.3" fill="#262626" stroke="#262626" stroke-width="0.7" stroke-linejoin="miter">
<text x="995.3" y="1342.2" text-anchor="middle">Time (ms)</text>
<text transform="translate(80.6,613.4) rotate(-90)" text-anchor="middle">Correlation Value</text>
</g>
<rect x="1262.5" y="83.9" width="426.20" height="249.40" fill="#fff" stroke="#262626" stroke-width="3.5"/>
<g fill="none" stroke-width="10.0">
<line x1="1276.1" y1="130.0" x2="1412.1" y2="130.0" stroke="#EDB120" stroke-dasharray="28 6 14 6"/>
<line x1="1276.1" y1="209.1" x2="1412.1" y2="209.1" stroke="#0072BD" stroke-dasharray="28 26"/>
<line x1="1276.1" y1="288.2" x2="1412.1" y2="288.2" stroke="#D95319"/>
</g>
<g font-family="'Liberation Serif', 'Times New Roman', serif" font-size="68.0" fill="#000" stroke="#000" stroke-width="0.85" stroke-linejoin="miter">
<text x="1420.6" y="153.9">PI</text>
<text x="1420.6" y="232.9">MVDR</text>
<text x="1420.6" y="311.9">Proposed</text>
</g>
</svg>
</body></html>
